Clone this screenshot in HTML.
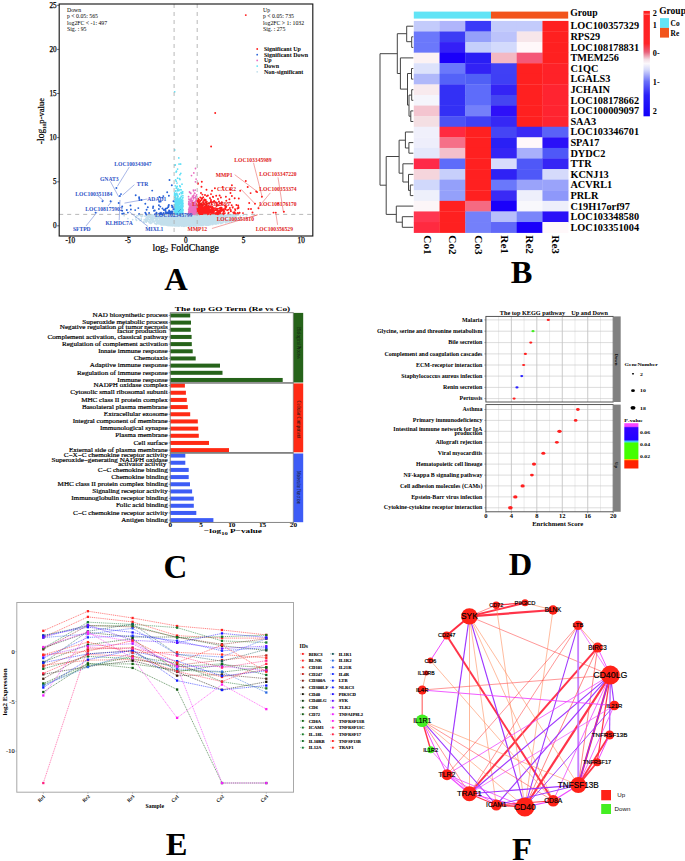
<!DOCTYPE html>
<html><head><meta charset="utf-8"><style>
html,body{margin:0;padding:0;background:#fff;overflow:hidden;width:685px;height:861px;}
svg{display:block;}
</style></head><body>
<svg width="685" height="861" viewBox="0 0 685 861">
<rect width="685" height="861" fill="#fff"/>
<g>
<path d="M188.0 221.2h0M193.5 218.5h0M182.9 219.8h0M171.6 224.4h0M179.6 215.4h0M169.7 224.0h0M189.1 217.2h0M212.8 219.9h0M178.9 216.7h0M176.5 219.6h0M197.1 216.3h0M194.6 220.2h0M190.0 222.9h0M170.8 216.8h0M187.5 216.2h0M200.9 219.7h0M163.2 215.1h0M179.6 217.5h0M152.9 215.0h0M164.2 222.8h0M154.0 214.9h0M183.7 216.9h0M164.6 215.0h0M193.0 221.6h0M190.9 219.2h0M184.6 215.5h0M141.5 216.7h0M178.1 222.3h0M187.1 222.4h0M190.1 215.0h0M159.7 217.5h0M179.2 225.4h0M169.9 222.4h0M173.1 219.1h0M207.6 222.8h0M173.1 220.1h0M187.4 218.0h0M204.4 224.4h0M177.2 222.7h0M185.9 215.7h0M190.1 225.6h0M189.2 224.6h0M165.4 216.2h0M189.4 217.9h0M213.1 219.5h0M159.4 215.7h0M203.9 222.9h0M190.2 226.1h0M176.2 216.4h0M225.0 217.3h0M202.1 221.5h0M165.8 218.7h0M189.4 225.0h0M198.7 221.9h0M184.5 219.1h0M200.6 216.0h0M186.8 222.1h0M200.3 224.9h0M214.6 223.4h0M175.5 222.0h0M191.8 218.5h0M179.4 217.6h0M190.4 217.7h0M166.1 215.6h0M177.3 217.8h0M184.4 218.0h0M204.6 218.6h0M209.2 217.7h0M163.6 217.1h0M173.3 214.6h0M200.0 223.4h0M151.2 217.5h0M179.5 224.4h0M186.2 223.4h0M211.2 215.1h0M200.8 220.7h0M182.0 219.1h0M181.2 223.3h0M183.4 219.8h0M216.2 224.0h0M180.1 219.0h0M182.4 214.9h0M194.5 217.7h0M185.8 218.0h0M184.4 219.3h0M167.4 221.6h0M187.8 216.8h0M179.8 221.2h0M209.6 221.1h0M200.1 219.2h0M187.6 214.7h0M200.4 217.2h0M181.7 217.9h0M207.5 223.6h0M187.9 216.5h0M198.8 220.6h0M164.2 218.1h0M194.4 219.1h0M156.8 216.4h0M150.4 223.2h0M182.4 224.8h0M171.4 222.2h0M191.0 223.4h0M229.5 216.7h0M172.6 224.3h0M176.5 224.7h0M191.8 219.5h0M197.1 225.0h0M184.8 216.6h0M184.2 221.9h0M201.0 221.9h0M197.6 218.7h0M168.9 214.6h0M186.5 222.5h0M188.7 223.2h0M168.5 221.1h0M192.8 216.8h0M172.2 215.1h0M206.0 223.4h0M191.6 225.7h0M189.7 222.2h0M177.1 221.9h0M185.8 217.1h0M151.1 217.1h0M167.1 217.0h0M194.7 221.1h0M148.7 219.2h0M203.7 215.0h0M155.7 223.7h0M202.0 225.4h0M172.4 225.6h0M202.4 216.3h0M190.4 219.7h0M159.6 217.3h0M211.1 217.7h0M214.7 216.1h0M186.8 219.6h0M182.9 221.9h0M185.1 224.6h0M170.0 220.7h0M208.3 222.7h0M178.0 215.2h0M187.1 217.0h0M173.3 222.2h0M176.4 219.7h0M164.4 219.8h0M211.2 218.2h0M185.2 215.0h0M205.9 222.0h0M188.3 218.6h0M175.2 219.8h0M182.0 214.9h0M177.7 223.2h0M188.2 218.2h0M181.1 224.9h0M182.5 219.4h0M162.5 214.8h0M173.1 217.4h0M218.6 223.6h0M175.6 214.6h0M168.5 219.2h0M194.2 218.9h0M214.0 214.9h0M161.1 218.5h0M184.2 223.2h0M176.3 220.6h0M155.5 216.7h0M201.6 220.8h0M187.6 223.9h0M189.3 221.2h0M174.1 224.5h0M196.4 224.6h0M178.0 224.4h0M185.4 219.8h0M167.5 221.6h0M165.5 223.1h0M212.7 216.9h0M178.6 218.6h0M193.4 216.3h0M187.4 224.0h0M179.9 218.5h0M178.6 222.6h0M199.7 219.8h0M182.4 220.5h0M185.2 219.0h0M188.4 219.1h0M209.8 215.2h0M200.6 218.3h0M195.1 221.5h0M177.6 216.6h0M162.5 223.1h0M205.6 216.7h0M205.9 218.7h0M185.4 222.7h0M198.0 217.0h0M202.5 224.1h0M203.4 225.1h0M205.0 222.1h0M179.6 219.8h0M216.0 217.8h0M165.0 221.5h0M203.9 218.7h0M197.1 214.6h0M204.2 214.6h0M222.7 216.7h0M215.4 221.0h0M166.8 219.8h0M156.8 216.2h0M203.1 215.5h0M169.3 214.9h0M187.8 221.2h0M203.5 221.4h0M157.6 220.8h0M149.0 216.2h0M192.8 214.8h0M188.8 219.2h0M183.5 220.6h0M188.7 218.0h0M172.1 220.6h0M160.0 218.6h0M184.9 223.6h0M170.1 224.3h0M157.6 220.1h0M197.4 222.4h0M186.9 224.1h0M195.5 214.8h0M169.7 217.5h0M175.8 221.1h0M169.5 214.6h0M171.6 224.3h0M191.6 221.6h0M173.5 215.6h0M194.6 214.7h0M194.3 216.6h0M225.4 221.1h0M162.3 218.7h0M204.4 224.5h0M186.4 225.3h0M187.8 215.9h0M161.2 225.0h0M179.5 224.8h0M201.7 224.2h0M186.5 217.5h0M189.5 218.4h0M182.6 223.3h0M209.3 220.3h0M187.6 214.9h0M147.3 221.0h0M175.2 225.0h0M151.6 217.5h0M127.9 218.6h0M178.2 219.2h0M212.7 221.7h0M188.9 225.7h0M166.3 217.9h0M170.6 217.0h0M208.9 221.4h0M190.9 224.0h0M188.9 214.6h0M187.0 222.9h0M188.7 222.9h0M202.9 221.1h0M198.2 222.8h0M192.0 222.9h0M168.7 215.2h0M197.5 224.8h0M175.4 216.1h0M208.2 219.1h0M164.5 224.8h0M185.5 224.1h0M187.9 218.1h0M163.5 218.8h0M219.8 221.2h0M215.0 221.1h0M179.4 215.2h0M202.3 217.1h0M195.0 218.0h0M139.7 214.9h0M192.6 223.0h0M186.9 221.9h0M189.5 216.1h0M168.1 220.3h0M183.0 220.5h0M184.7 216.4h0M210.0 214.6h0M194.2 215.6h0M187.9 216.9h0M216.3 219.5h0M177.7 217.5h0M180.8 223.1h0M154.4 221.4h0M217.0 221.9h0M205.8 217.6h0M205.0 214.9h0M200.4 216.9h0M190.0 222.6h0M192.0 218.1h0M183.4 221.6h0M184.2 216.3h0M189.0 220.1h0M215.9 221.5h0M198.3 222.2h0M186.9 225.0h0M177.3 221.4h0M176.3 221.7h0M217.6 219.3h0M197.4 218.0h0M189.3 215.2h0M181.6 216.4h0M167.5 218.8h0M186.8 221.5h0M204.2 223.3h0M180.8 218.9h0M183.8 225.3h0M183.9 225.4h0M190.0 218.3h0M158.6 222.7h0M183.7 216.0h0M172.2 217.9h0M204.4 219.3h0M173.8 215.1h0M198.7 224.1h0M216.2 220.9h0M182.2 219.8h0M176.9 214.8h0M191.5 225.0h0M188.0 218.7h0M169.6 215.2h0M196.5 224.0h0M225.3 216.7h0M183.2 217.8h0M184.3 221.5h0M168.7 219.2h0M193.9 215.1h0M165.0 219.8h0M167.6 220.1h0M211.7 218.6h0M171.3 225.3h0M208.0 216.3h0M216.2 223.6h0M192.8 214.6h0M198.2 214.7h0M224.1 215.8h0M184.4 215.5h0M177.1 218.5h0M163.0 221.5h0M188.8 218.7h0M215.3 217.3h0M205.7 223.5h0M170.6 216.7h0M172.2 222.0h0M178.7 219.7h0M193.4 222.6h0M184.2 222.5h0M192.0 215.7h0M193.5 216.9h0M182.5 225.3h0M187.3 216.9h0M191.8 215.2h0M186.5 217.6h0M197.3 217.7h0M222.6 220.7h0M198.9 217.6h0M189.0 221.3h0M156.9 215.1h0M195.2 217.6h0M152.0 220.5h0M162.0 215.5h0M203.8 216.7h0M201.1 223.1h0M185.2 223.3h0M156.4 224.3h0M181.1 216.9h0M175.5 224.8h0M199.8 222.3h0M229.7 216.3h0M192.0 222.1h0M173.6 222.2h0M166.4 224.5h0M187.0 225.5h0M184.7 219.1h0M166.7 223.6h0M190.2 214.8h0M166.7 225.1h0M208.6 221.4h0M207.6 222.9h0M208.1 215.4h0M179.2 217.1h0M197.5 224.4h0M185.6 225.4h0M180.8 225.0h0M181.7 217.2h0M164.0 216.9h0M161.3 218.0h0M202.7 219.7h0M184.5 220.3h0M192.0 218.8h0M206.5 223.9h0M156.0 216.3h0M173.5 216.7h0M191.3 217.8h0M195.3 222.9h0M181.0 223.3h0M207.0 214.6h0M191.9 214.9h0M165.6 216.9h0M170.8 216.6h0M202.9 220.1h0M196.6 215.7h0M152.9 217.1h0M212.9 219.8h0M199.1 217.7h0M212.8 223.7h0M180.9 221.1h0M182.5 216.1h0M167.2 219.8h0M234.9 217.2h0M184.8 219.2h0M217.3 214.9h0M176.0 223.3h0M191.0 217.8h0M157.1 219.6h0M180.9 223.0h0M206.2 224.7h0M164.9 218.3h0M207.8 222.9h0M194.2 218.9h0M168.7 220.4h0M178.7 220.9h0M179.5 215.6h0M187.1 224.9h0M178.1 219.2h0M172.7 220.7h0M182.4 224.1h0M169.0 220.8h0M164.2 215.7h0M187.1 223.5h0M204.3 217.7h0M159.7 221.7h0M188.1 219.7h0M176.0 219.2h0M170.0 224.7h0M203.8 216.3h0M178.4 221.3h0M215.7 221.9h0M173.6 223.2h0M195.2 214.6h0M183.8 215.0h0M174.1 220.1h0M198.9 222.4h0M185.1 217.6h0M199.2 225.1h0M187.1 215.9h0M167.9 225.5h0M186.1 225.5h0M189.0 221.8h0M205.7 220.0h0M171.3 225.7h0M187.3 222.4h0M156.2 214.6h0M200.0 216.7h0M168.0 224.8h0M154.6 215.5h0M186.9 220.3h0M208.4 214.6h0M159.8 221.1h0M167.9 221.7h0M174.3 217.8h0M167.1 219.7h0M195.0 222.4h0M173.1 219.5h0M174.7 218.3h0M198.8 221.9h0M174.0 216.2h0M196.0 217.1h0M170.1 216.9h0M165.6 217.8h0M154.1 221.6h0M222.4 216.8h0M182.1 223.8h0M192.5 224.2h0M187.4 219.9h0M191.0 223.8h0M188.9 224.4h0M223.3 217.7h0M168.8 214.6h0M159.2 224.0h0M169.3 220.3h0M163.3 224.0h0M201.8 219.2h0M203.2 218.8h0M170.2 219.8h0M162.3 224.6h0M181.5 217.6h0M213.7 219.1h0M135.9 217.0h0M197.7 217.9h0M168.1 215.3h0M207.2 220.1h0M168.1 215.3h0M182.7 223.8h0M160.2 219.7h0M170.0 223.4h0M213.6 220.4h0M203.2 215.4h0M180.6 214.6h0M171.9 220.0h0M153.0 221.0h0M180.7 222.0h0M187.4 215.4h0M186.5 220.6h0M186.3 223.5h0M167.3 216.1h0M186.8 219.8h0M187.3 220.7h0M211.9 215.3h0M222.5 216.5h0M185.5 226.0h0M173.8 214.7h0M186.8 220.4h0M176.8 223.6h0M174.3 215.3h0M186.9 220.8h0M168.7 217.6h0M199.2 217.0h0M186.1 223.6h0M192.6 214.6h0M184.6 219.2h0M174.6 225.1h0M170.5 219.3h0M183.6 226.0h0M177.9 214.6h0M192.3 218.0h0M187.9 221.3h0M162.8 216.4h0M189.3 216.6h0M163.2 217.4h0M176.6 222.9h0M182.6 224.9h0M149.7 215.6h0M189.7 215.6h0M190.8 221.7h0M185.1 221.2h0M180.2 221.0h0M181.1 222.5h0M170.0 215.0h0M183.0 219.5h0M177.8 217.5h0M189.7 218.7h0M165.8 224.2h0M192.4 225.1h0M190.7 224.1h0M185.4 219.9h0M179.9 218.4h0M198.2 214.6h0M157.2 215.3h0M196.5 217.2h0M192.5 221.2h0M193.2 221.7h0M195.1 217.6h0M175.9 221.6h0M183.2 216.9h0M199.8 217.2h0M196.0 224.3h0M191.8 216.5h0M160.0 223.7h0M198.0 221.8h0M209.6 214.6h0M206.7 217.9h0M192.3 215.9h0M159.2 215.1h0M205.4 222.1h0M185.3 216.6h0M141.2 218.9h0M195.0 225.1h0M160.4 223.5h0M164.1 223.6h0M176.3 218.4h0M211.5 217.8h0M181.2 216.0h0M193.0 222.2h0M220.3 216.4h0M217.5 221.2h0M186.1 222.1h0M183.5 218.1h0M164.7 220.6h0M175.2 214.6h0M195.9 221.9h0M195.3 222.9h0M190.0 215.7h0M206.4 215.6h0M173.7 223.7h0M187.0 221.8h0M201.5 219.6h0M198.8 224.9h0M207.8 220.8h0M195.3 216.8h0M182.3 216.9h0M194.7 224.0h0M169.5 221.9h0M157.7 221.5h0M198.7 217.7h0M187.0 224.4h0M193.7 214.6h0M156.6 223.0h0M181.3 219.6h0M176.9 217.6h0M172.0 214.9h0M146.3 217.4h0M181.8 215.9h0M204.6 219.2h0M195.1 223.1h0M176.9 220.7h0M187.7 218.7h0M202.0 219.3h0M137.0 215.7h0M185.7 219.5h0M198.0 221.1h0M200.6 219.5h0M219.4 218.6h0M209.0 225.0h0M193.8 221.8h0M193.6 219.0h0M202.6 217.4h0M178.0 220.7h0M187.3 217.1h0M204.8 219.5h0M224.2 219.6h0M185.1 223.0h0M187.1 216.6h0M191.7 215.2h0M212.8 216.9h0M187.4 223.2h0M215.2 217.1h0M170.1 219.6h0M184.6 215.2h0M184.3 226.2h0M202.5 216.7h0M207.3 219.8h0M160.1 215.8h0M171.1 218.5h0M194.2 226.0h0M175.8 217.7h0M159.9 218.9h0M207.2 222.3h0M197.1 224.3h0M197.1 220.9h0M179.2 219.2h0M207.0 219.7h0M183.6 226.0h0M208.3 223.3h0M171.2 217.7h0M172.2 219.2h0M191.8 217.2h0M175.0 220.8h0M200.5 222.5h0M192.8 216.6h0M171.0 222.9h0M189.4 225.3h0M181.5 221.4h0M204.9 220.1h0M176.3 223.2h0M179.9 214.9h0M210.4 222.2h0M229.4 221.1h0M225.0 217.1h0M189.2 224.2h0M192.1 222.4h0M216.3 219.8h0M185.7 222.6h0M170.0 218.0h0M190.2 224.2h0M196.4 218.2h0M172.7 224.3h0M157.6 218.3h0M161.5 214.6h0M200.3 216.6h0M174.0 214.9h0M185.4 219.4h0M191.9 224.0h0M199.5 221.2h0M181.8 216.8h0M197.2 224.1h0M171.6 217.9h0M181.3 222.0h0M169.1 215.2h0M208.9 221.0h0M187.5 222.0h0M174.3 222.4h0M181.5 219.4h0M183.9 214.9h0M201.0 219.2h0M158.5 216.8h0M168.8 219.4h0M181.0 225.0h0M234.8 217.0h0M205.7 218.5h0M186.0 218.8h0M201.2 221.9h0M226.0 220.3h0M183.7 221.9h0M181.2 225.7h0M210.4 222.9h0M197.1 222.2h0M200.4 219.6h0M178.6 215.3h0M223.6 216.8h0M219.6 218.6h0M198.5 217.4h0M200.7 220.3h0M150.5 223.1h0M199.8 217.7h0M184.4 217.6h0M196.0 218.1h0M200.6 215.9h0M181.7 216.7h0M156.8 216.0h0M194.8 225.4h0M174.3 214.6h0M181.9 218.9h0M176.8 218.8h0M181.7 218.6h0M145.3 220.2h0M210.5 221.4h0M192.7 215.7h0M208.5 218.4h0M224.6 214.7h0M188.4 223.4h0M154.7 218.2h0M171.5 218.6h0M165.7 224.9h0M178.7 218.4h0M189.5 221.2h0M151.0 219.4h0M194.3 223.6h0M160.1 218.3h0M193.5 217.9h0M186.0 215.5h0M182.2 216.1h0M186.7 214.6h0M178.0 214.6h0M176.7 217.6h0M156.9 221.3h0M187.5 219.4h0M222.1 222.5h0M224.6 217.9h0M212.4 221.2h0M201.1 219.3h0M175.5 217.0h0M214.7 223.7h0M187.0 215.7h0M186.7 225.7h0M182.6 220.0h0M189.7 223.2h0M180.0 225.6h0M186.5 220.1h0M168.0 222.3h0M181.1 225.0h0M230.2 215.6h0M186.7 222.9h0M183.6 215.0h0M197.8 218.6h0M201.1 221.3h0M167.4 224.7h0M184.2 215.9h0M205.0 224.0h0M193.0 216.8h0M190.3 219.6h0M216.7 219.4h0M175.5 224.9h0M189.5 220.8h0M178.4 225.9h0M215.6 216.5h0M151.9 216.9h0M175.6 224.1h0M178.2 219.7h0M200.3 223.4h0M199.2 217.4h0M213.8 222.3h0M158.9 222.6h0M201.9 222.1h0M182.6 214.7h0M175.7 216.3h0M198.0 220.9h0M171.0 216.5h0M149.6 219.9h0M181.2 223.6h0M160.3 215.4h0M176.0 225.5h0M194.9 216.6h0M193.8 214.8h0M217.3 223.1h0M184.3 215.9h0M159.7 216.5h0M174.0 225.3h0M171.0 220.3h0M165.5 222.1h0M196.1 221.1h0M176.1 221.2h0M151.5 219.7h0M200.9 225.6h0M186.0 222.6h0M194.6 222.3h0M190.0 218.2h0M199.7 217.6h0M188.7 217.1h0M210.9 217.9h0M195.9 215.5h0M195.3 219.2h0M195.6 222.0h0M161.1 224.4h0M185.0 217.4h0M183.2 219.2h0M191.8 223.9h0M162.9 219.3h0M218.2 214.9h0M189.9 218.7h0M165.6 221.6h0M156.4 216.2h0M182.8 221.1h0M186.4 226.0h0M174.7 224.8h0M189.7 214.8h0M176.2 224.7h0M198.2 216.7h0M174.6 225.5h0M187.3 220.8h0M206.1 221.9h0M235.5 218.5h0M169.4 224.4h0M179.4 221.0h0M172.5 216.9h0M202.5 219.4h0M166.8 223.7h0M179.1 216.5h0M187.5 215.8h0M169.9 220.1h0M170.3 221.3h0M179.2 225.9h0M149.2 222.6h0M161.3 220.6h0M180.4 224.6h0M190.7 214.7h0M184.6 218.3h0M155.2 220.8h0M179.4 218.9h0M202.8 223.4h0M198.3 215.2h0M186.6 219.9h0M171.6 217.5h0M199.7 223.4h0M177.3 220.1h0M166.4 217.3h0M173.2 221.0h0M214.8 223.6h0M192.1 220.2h0M209.4 216.1h0M179.2 220.3h0M205.3 214.6h0M176.9 219.2h0M185.1 215.6h0M234.0 221.0h0M202.2 218.2h0M178.7 219.7h0M186.4 221.6h0M194.0 215.4h0M210.4 223.8h0M179.0 220.0h0M155.8 220.9h0M182.8 214.8h0M188.3 216.7h0M190.0 223.5h0M212.3 223.2h0M193.9 225.7h0M203.0 223.3h0M167.7 215.1h0M204.0 215.7h0M226.7 215.9h0M202.3 220.7h0M192.7 220.1h0M190.9 219.0h0M221.0 216.0h0M170.9 225.7h0M186.0 223.7h0M196.5 218.9h0M201.8 223.8h0M179.9 215.0h0M193.7 225.4h0M182.9 214.7h0M190.2 223.3h0M185.6 223.6h0M166.9 220.4h0M187.6 218.3h0M204.2 214.6h0M170.1 219.9h0M183.6 215.5h0M200.3 215.5h0M168.2 214.6h0M191.4 221.5h0M168.4 219.9h0M209.0 224.8h0M230.8 218.8h0M225.4 219.6h0M184.0 224.5h0M201.7 216.1h0M190.2 222.5h0M189.9 224.4h0M216.6 222.9h0M163.6 224.9h0M207.5 216.8h0M187.1 219.5h0M214.0 218.9h0M191.5 220.9h0M175.6 214.8h0M193.1 221.3h0M201.6 219.9h0M188.7 217.8h0M197.0 215.1h0M178.4 215.9h0M148.6 215.3h0M204.6 223.1h0M200.9 215.0h0M190.7 216.3h0M189.3 221.9h0M207.2 216.3h0M179.6 214.9h0M175.0 217.1h0M184.5 217.2h0M210.0 215.9h0M162.4 215.6h0M210.0 216.5h0M176.2 224.9h0M167.7 222.9h0M211.3 223.3h0M186.2 220.3h0M164.0 224.4h0M181.4 219.3h0M205.2 215.1h0M210.0 214.6h0M180.1 225.6h0M195.5 217.8h0M201.2 223.8h0M176.1 215.8h0M194.6 225.6h0M187.4 224.7h0M178.1 221.9h0M178.9 226.1h0M189.2 218.1h0M188.6 223.4h0M177.6 217.4h0M180.1 214.9h0M208.6 219.7h0M192.0 220.2h0M204.4 214.6h0M210.2 221.3h0M198.9 215.6h0M230.0 216.4h0M172.8 225.8h0M202.9 221.9h0M182.1 217.4h0M222.3 222.9h0M219.4 215.6h0M151.9 215.1h0M170.1 216.9h0M200.3 216.4h0M202.6 218.6h0M201.6 216.4h0M186.7 220.3h0M196.4 220.8h0M200.1 217.5h0M186.6 220.3h0M207.0 221.5h0M146.3 220.4h0M199.7 220.4h0M168.9 220.9h0M205.7 216.9h0M183.8 216.7h0M171.6 216.5h0M194.9 216.0h0M171.2 221.2h0M171.1 221.2h0M159.0 215.9h0M187.5 223.7h0M197.2 217.6h0M206.9 219.2h0M185.4 218.0h0M207.4 217.4h0M188.3 218.0h0M186.3 223.1h0M198.6 225.5h0M207.6 214.8h0M181.7 215.5h0M183.5 219.9h0M185.0 218.1h0M189.5 224.9h0M171.4 220.2h0M207.0 218.5h0M180.6 217.6h0M196.6 223.1h0M172.8 224.6h0M194.6 214.8h0M195.2 216.0h0M180.2 223.7h0M225.4 215.8h0M194.9 216.4h0M220.8 221.7h0M205.7 216.3h0M175.8 221.2h0M180.9 221.8h0M196.1 223.8h0M189.1 218.9h0M188.9 218.6h0M182.7 219.8h0M154.6 223.0h0M183.8 216.6h0M147.0 220.0h0M194.9 222.6h0M174.6 218.2h0M174.8 223.5h0M184.0 215.3h0M193.0 218.2h0M161.5 216.4h0M155.7 220.6h0M168.3 220.4h0M150.3 221.0h0M170.1 222.5h0M217.4 219.7h0M168.5 216.6h0M200.0 219.7h0M162.7 216.0h0M193.5 224.5h0M182.1 222.4h0M186.9 225.7h0M198.5 215.3h0M220.5 223.0h0M191.6 219.4h0M190.3 217.9h0M170.0 223.0h0M198.8 214.6h0M183.5 214.6h0M203.4 222.5h0M187.2 224.3h0M220.2 217.4h0M151.4 218.6h0M182.5 218.7h0M204.3 218.3h0M181.5 214.9h0M173.4 216.8h0M183.1 222.1h0M162.5 216.9h0M190.2 220.5h0M233.1 214.6h0M209.2 219.6h0M167.5 225.4h0M171.9 215.2h0M180.5 222.5h0M206.6 216.2h0M172.8 218.5h0M175.3 217.1h0M204.4 217.0h0M204.0 215.3h0M181.1 216.2h0M167.4 218.0h0M159.4 221.0h0M175.1 219.9h0M146.8 220.3h0M201.9 221.5h0M176.4 220.3h0M196.9 220.7h0M222.5 220.5h0M209.7 221.4h0M166.7 221.6h0M204.1 223.0h0M209.4 218.5h0M174.2 224.6h0M170.4 222.5h0M186.0 223.9h0M158.4 217.2h0M215.2 221.2h0M143.6 221.5h0M167.6 216.2h0M183.0 220.6h0M183.8 216.5h0M191.1 222.0h0M193.0 221.6h0M184.1 219.2h0M209.0 224.2h0M148.5 214.6h0M188.0 224.3h0M174.8 215.3h0M190.5 218.1h0M192.1 216.9h0M171.2 223.0h0M176.2 215.5h0M202.7 219.2h0M194.5 220.8h0M175.4 223.4h0M225.7 221.2h0M230.7 215.3h0M161.0 214.7h0M193.6 220.8h0M234.4 216.1h0M202.5 217.5h0M192.1 219.9h0M184.2 220.1h0M178.0 219.3h0M184.1 221.7h0M177.8 217.1h0M201.8 220.6h0M180.7 219.8h0M179.9 223.7h0M165.8 214.6h0M187.1 225.1h0M171.5 217.4h0M184.7 218.1h0M207.3 221.1h0M194.8 214.6h0M197.3 225.4h0M194.6 222.5h0M189.1 221.8h0M185.7 218.3h0M182.3 218.9h0M202.0 217.4h0M168.0 215.8h0M212.8 224.4h0M188.6 219.2h0M174.2 220.9h0M179.0 217.7h0M175.5 219.5h0M191.0 221.6h0M174.7 225.9h0M209.1 221.4h0M173.6 220.4h0M146.0 219.7h0M174.5 221.2h0M150.9 217.4h0M187.3 221.8h0M207.6 215.9h0M200.0 221.3h0M163.3 220.1h0M173.9 220.5h0M220.9 215.2h0M193.9 218.7h0M188.1 214.8h0M207.5 225.2h0M233.3 214.7h0M212.0 222.4h0M190.6 215.5h0M194.6 225.4h0M199.4 215.9h0M176.7 218.3h0M168.4 217.6h0M189.0 221.2h0M170.5 220.9h0M186.9 224.0h0M189.8 224.2h0M231.3 217.0h0M172.3 221.5h0M185.8 225.8h0M185.0 223.9h0M196.1 223.7h0M207.4 222.8h0M178.9 220.4h0M172.8 215.3h0M157.7 218.3h0M170.9 217.1h0M197.9 224.4h0M188.9 217.7h0M169.2 215.8h0M181.1 214.6h0M188.6 217.5h0M197.3 218.6h0M177.0 214.8h0M183.4 224.4h0M154.4 216.2h0M166.7 217.2h0M217.9 216.8h0M147.6 219.7h0M181.8 225.0h0M192.1 224.2h0M181.1 217.9h0M173.1 221.9h0M186.9 214.9h0M187.9 224.5h0M186.5 216.4h0M153.3 219.1h0M185.3 222.3h0M172.2 222.5h0M177.9 221.5h0M192.2 221.4h0M199.9 222.9h0M204.6 222.7h0M178.8 214.7h0M205.1 220.4h0M209.7 218.1h0M209.0 217.3h0M213.7 220.8h0M185.3 215.1h0M184.8 222.3h0M203.3 223.1h0M162.8 224.5h0M191.9 222.7h0M178.2 225.2h0M181.2 218.4h0M155.8 218.3h0M171.6 225.5h0M187.6 214.9h0M204.4 217.2h0M206.3 219.0h0M186.5 215.0h0M184.5 219.6h0M172.7 223.5h0M195.4 216.7h0M183.4 214.9h0M199.2 225.0h0M220.4 218.7h0M187.4 223.2h0M160.3 215.3h0M172.1 224.5h0M161.1 216.3h0M165.9 222.8h0M212.1 217.8h0M192.2 217.7h0M159.9 216.7h0M200.1 225.0h0M211.3 219.4h0M181.4 224.4h0M175.5 224.3h0M181.8 224.0h0M193.3 224.1h0M199.8 215.1h0M209.9 218.7h0M210.4 221.9h0M209.9 219.5h0M213.2 223.9h0M200.2 223.0h0M159.7 218.0h0M185.6 217.7h0M193.8 218.5h0M180.9 214.6h0M204.9 214.6h0M181.4 216.2h0M170.9 220.1h0M214.7 216.6h0M200.3 222.6h0M192.1 215.8h0M205.1 222.4h0M207.6 214.6h0M194.3 225.9h0M142.6 215.9h0M175.5 219.8h0M179.6 216.4h0M169.8 219.4h0M191.7 216.2h0M210.0 217.2h0M179.0 218.3h0M167.0 214.9h0M225.5 221.7h0M179.7 215.2h0M165.2 219.3h0M192.4 217.5h0M195.9 217.9h0M175.0 221.0h0M202.6 219.3h0M179.0 214.7h0M171.0 219.8h0M191.3 215.3h0M202.3 225.6h0M176.3 219.0h0M194.1 217.7h0M186.3 221.1h0M240.2 219.4h0M174.9 216.6h0M213.6 216.7h0M187.0 221.3h0M185.7 224.8h0M201.3 216.0h0M204.5 216.7h0M211.4 216.0h0M194.1 216.3h0M176.9 222.6h0M178.1 218.5h0M197.4 220.2h0M198.7 221.0h0M213.8 220.0h0M195.7 217.9h0M207.6 214.6h0M216.0 219.3h0M191.1 221.4h0M160.6 218.0h0M166.2 218.2h0M161.4 220.3h0M217.4 217.6h0M172.3 218.0h0M210.8 216.8h0M198.8 223.6h0M219.7 217.4h0M206.5 220.4h0M186.1 215.7h0M184.3 218.6h0M189.6 216.4h0M191.2 216.4h0M178.2 223.2h0M187.4 225.1h0M217.8 216.5h0M156.6 223.7h0M192.8 214.9h0M171.2 217.6h0M191.5 220.8h0M203.5 217.8h0M186.9 224.4h0M202.3 218.1h0M158.6 215.1h0M208.5 225.2h0M176.9 215.0h0M199.5 221.9h0M191.4 221.1h0M140.2 214.8h0M174.0 216.5h0M192.1 221.2h0M216.7 214.6h0M193.3 225.6h0M192.8 218.1h0M161.9 219.3h0M214.5 215.4h0M221.4 223.3h0M188.5 222.0h0M183.9 220.2h0M158.1 223.7h0M204.3 218.0h0M237.9 215.2h0M201.3 215.3h0M211.4 223.1h0M198.0 219.7h0M169.8 214.6h0M212.7 223.8h0M165.2 217.4h0M184.1 222.4h0M193.2 215.4h0M204.3 218.4h0M195.7 215.5h0M195.2 225.3h0M173.9 218.6h0M164.2 220.3h0M189.1 224.7h0M174.9 220.8h0M163.8 217.0h0M164.6 218.6h0M179.0 218.8h0M153.8 221.0h0M163.1 219.3h0M157.8 219.7h0M191.4 215.3h0M195.5 215.7h0M225.1 218.9h0M160.3 219.2h0M175.5 222.2h0M204.9 218.8h0M184.0 224.4h0M182.0 214.8h0M219.6 219.6h0M181.8 226.1h0M166.6 221.8h0M163.7 214.9h0M194.2 222.0h0M193.7 221.2h0M162.7 214.6h0M169.8 216.6h0M197.9 221.3h0M198.7 223.7h0M176.1 221.1h0M199.5 221.2h0M198.6 215.5h0M155.1 218.6h0M182.2 215.2h0M195.7 214.6h0M177.4 215.8h0M148.5 219.4h0M182.8 221.2h0M201.9 219.1h0M217.2 217.3h0M147.5 215.6h0M236.3 215.5h0M167.2 221.6h0M205.7 217.1h0M210.8 220.6h0M206.2 216.6h0M190.8 226.0h0M166.5 215.9h0M199.6 217.6h0M174.8 224.0h0M141.4 219.9h0M240.3 218.0h0M201.1 219.5h0M221.6 215.2h0M171.2 214.7h0M215.1 218.1h0M217.4 222.8h0M216.7 214.6h0M187.6 214.8h0M165.8 224.2h0M184.7 218.0h0M147.3 217.1h0M156.6 217.5h0M189.7 217.4h0M169.7 225.6h0M185.0 222.2h0M186.0 221.8h0M223.7 217.2h0M212.0 223.6h0M187.2 222.5h0M210.4 222.8h0M173.6 225.2h0M181.8 220.2h0M204.8 222.9h0M165.1 219.7h0M182.9 223.4h0M163.6 216.4h0M190.2 224.6h0M218.2 216.4h0M174.1 218.0h0M192.2 224.0h0M171.4 221.1h0M166.8 220.8h0M165.2 220.0h0M214.9 217.4h0M231.7 221.7h0M196.9 223.7h0M174.8 217.6h0M201.0 224.4h0M181.8 216.1h0M202.8 221.1h0M193.4 225.6h0M193.2 216.9h0M199.2 222.7h0M177.3 214.6h0M180.5 215.2h0M156.2 215.4h0M179.8 215.6h0M161.7 224.1h0M185.3 225.8h0M170.3 220.8h0M189.9 220.8h0M196.4 220.8h0M161.8 218.4h0M173.0 216.7h0M170.6 216.6h0M201.8 215.1h0M219.5 217.2h0M203.7 215.6h0M181.6 224.9h0M215.1 224.1h0M160.0 219.8h0M215.7 215.4h0M175.9 221.1h0M136.6 220.3h0M237.0 219.7h0M217.2 221.6h0M168.9 215.8h0M191.1 221.8h0M184.0 215.9h0M189.9 215.0h0M160.6 216.6h0M175.4 215.2h0M196.7 222.6h0M192.1 223.5h0M210.2 222.1h0M189.5 225.9h0M231.4 214.9h0M174.8 223.2h0M192.8 218.4h0M152.6 220.9h0M164.9 219.1h0M212.6 219.8h0M170.6 217.3h0M197.8 223.2h0M186.9 222.4h0M168.7 223.8h0M181.6 221.9h0M178.5 216.2h0M179.0 214.8h0M201.9 225.5h0M200.1 216.0h0M177.3 217.2h0M171.2 224.7h0M193.2 223.9h0M186.2 215.8h0M207.0 222.8h0M237.1 214.9h0M203.6 219.2h0M187.4 214.6h0M184.8 219.9h0M172.2 224.1h0M171.3 218.5h0M169.5 220.3h0M180.7 225.1h0M180.1 216.3h0M201.8 215.4h0M180.6 214.8h0M184.4 218.3h0M165.5 218.6h0M218.4 221.8h0M197.4 214.8h0M221.1 216.6h0M202.7 217.8h0M215.5 217.2h0M183.4 216.1h0M201.3 221.4h0M238.0 219.7h0M165.4 214.6h0M209.7 224.6h0M219.4 220.9h0M195.8 219.9h0M202.2 225.1h0M211.7 221.2h0M175.6 215.8h0M195.7 218.4h0M171.6 218.8h0M175.2 225.7h0M176.3 220.7h0M185.3 224.5h0M190.8 221.2h0M196.6 221.1h0M161.2 220.1h0M225.5 219.9h0M209.9 216.5h0M201.8 220.1h0M181.2 215.4h0M186.3 221.7h0M198.4 223.9h0M195.8 221.5h0M156.2 215.6h0M202.0 221.2h0M243.2 215.2h0M153.0 217.1h0M206.9 222.1h0M195.0 223.5h0M185.9 224.6h0M214.0 219.6h0M165.6 217.5h0M191.1 222.3h0M215.8 214.8h0M184.3 226.0h0M180.1 216.7h0M190.2 223.8h0M179.6 214.6h0M217.4 223.0h0M170.8 215.2h0M204.6 220.6h0M164.2 221.8h0M200.7 225.2h0M186.0 223.3h0M138.9 218.6h0M187.9 215.1h0M167.7 214.7h0M179.6 225.0h0M217.2 218.4h0M166.8 225.0h0M167.9 224.2h0M215.4 217.9h0M190.2 219.6h0M217.3 215.3h0M194.2 215.4h0M171.2 223.6h0M186.8 218.4h0M211.4 216.2h0M205.9 216.7h0M188.0 219.1h0M188.9 219.8h0M185.9 219.1h0M177.0 220.8h0M224.7 217.9h0M188.1 215.6h0M166.5 221.2h0M178.9 220.5h0M201.8 220.3h0M200.2 215.8h0M185.4 222.9h0M175.3 220.5h0M188.5 217.1h0M156.2 220.1h0M163.3 215.8h0M203.2 219.2h0M178.9 224.7h0M195.1 221.4h0M211.2 223.1h0M200.4 220.4h0M188.4 221.5h0M228.4 219.4h0M200.7 216.2h0M181.3 215.5h0M201.9 216.9h0M195.8 216.9h0M171.7 215.5h0M189.4 215.3h0M184.9 223.8h0M150.7 215.2h0M184.7 224.0h0M182.6 222.6h0M179.7 216.6h0M156.8 222.8h0M181.3 214.8h0M187.3 215.1h0M189.9 226.3h0M166.4 218.1h0M200.0 215.2h0M164.9 219.1h0M183.8 219.5h0M212.8 218.3h0M174.9 219.2h0M178.3 218.9h0M208.4 217.6h0M180.7 214.9h0M182.4 225.0h0M192.2 223.0h0M207.9 225.1h0M146.2 222.2h0M172.3 223.2h0M168.9 215.4h0M167.4 221.6h0M171.8 218.6h0M172.1 221.9h0M193.7 214.6h0M171.2 223.2h0M190.3 221.1h0M195.6 221.3h0M174.2 223.1h0M190.5 225.1h0M219.0 219.8h0M194.1 223.4h0M175.9 225.7h0M186.8 215.6h0M170.7 221.4h0M193.1 226.0h0M204.3 218.3h0M172.5 220.0h0M184.1 217.8h0M209.0 220.8h0M178.6 224.2h0M191.6 218.3h0M168.7 220.7h0M172.5 215.7h0M178.3 221.9h0M228.2 220.4h0M180.5 223.6h0M178.2 222.7h0M177.6 222.9h0M184.9 219.7h0M200.1 221.1h0M191.5 214.7h0M226.0 220.8h0M192.0 215.0h0M214.8 220.7h0M193.1 220.0h0M199.2 214.8h0M161.3 216.5h0M185.7 215.0h0M186.7 219.5h0M183.5 222.0h0M148.2 217.0h0M204.3 217.6h0M180.9 225.6h0M179.9 224.6h0M183.3 215.0h0M183.8 217.4h0M195.5 216.3h0M164.5 222.9h0M170.8 214.6h0M193.4 222.2h0M190.7 224.2h0M181.0 221.5h0M177.4 221.6h0M172.6 225.0h0M186.9 216.0h0M209.8 215.6h0M168.5 223.0h0M216.2 218.5h0M203.6 215.7h0M179.6 221.3h0M202.5 219.5h0M160.9 222.0h0M156.0 219.4h0M164.2 221.5h0M180.4 216.3h0M182.0 224.0h0M178.5 225.6h0M189.8 215.4h0M148.6 221.5h0M197.2 219.2h0M161.8 217.2h0M175.8 221.8h0M180.4 215.1h0M166.6 221.3h0M162.7 222.7h0M169.4 224.8h0M187.8 215.5h0M198.9 223.0h0M198.4 215.5h0M169.6 220.1h0M173.4 215.1h0M171.0 224.6h0M196.3 215.9h0M150.4 214.6h0M210.9 217.2h0M179.1 224.3h0M173.5 214.6h0M194.3 216.5h0M207.1 222.6h0M194.3 214.7h0M207.5 224.1h0M190.5 224.4h0M210.7 224.7h0M211.0 218.3h0M186.2 221.0h0M214.6 223.4h0M191.1 220.0h0M189.6 215.7h0M171.0 224.5h0M182.7 218.3h0M202.4 223.4h0M163.8 219.3h0M200.0 221.5h0M194.5 222.4h0M193.1 225.9h0M147.2 217.8h0M186.1 220.6h0M200.0 217.6h0M173.9 223.5h0M189.7 214.6h0M144.1 222.4h0M200.4 223.2h0M175.8 218.2h0M204.1 223.7h0M154.0 221.2h0M200.8 219.7h0M183.6 217.0h0M202.9 215.8h0M170.9 221.8h0M176.6 218.1h0M229.5 222.0h0M172.7 215.5h0M175.0 217.9h0M182.9 215.4h0M169.1 222.9h0M210.0 219.4h0M219.9 216.6h0M175.0 225.6h0M156.1 215.8h0M209.7 217.2h0M208.5 216.5h0M203.2 223.4h0M209.4 216.6h0M172.0 219.0h0M184.9 224.1h0M162.4 223.4h0M161.8 215.8h0M206.1 220.6h0M175.6 222.5h0M230.1 219.0h0M189.4 217.8h0M176.2 224.1h0M202.8 223.5h0M221.3 217.4h0M197.0 215.5h0M165.5 217.7h0M194.9 215.0h0M213.4 221.4h0M178.9 221.6h0M173.7 221.2h0M206.8 221.0h0M190.6 222.6h0M167.6 216.5h0M181.0 222.4h0M174.0 220.7h0M193.5 220.2h0M190.0 214.6h0M209.3 221.2h0M201.1 217.6h0M159.1 221.0h0M195.5 216.5h0M204.6 220.8h0M196.4 225.7h0M207.0 219.2h0M177.9 221.7h0M170.4 222.3h0M205.2 221.8h0M168.3 225.6h0M148.1 216.6h0M207.0 219.0h0M174.6 218.3h0M182.4 219.1h0M162.2 220.6h0M163.5 219.9h0M166.6 219.8h0M181.3 215.3h0M194.8 221.6h0M145.5 221.3h0M201.9 224.5h0M166.2 221.3h0M168.3 218.8h0M200.5 218.8h0M186.6 217.3h0M159.6 217.7h0M222.1 222.5h0M172.1 221.0h0M192.6 221.4h0M191.7 224.6h0M214.1 218.3h0M179.6 216.8h0M206.6 224.7h0M174.3 219.4h0M208.7 223.6h0M173.9 216.7h0M181.3 219.2h0M223.0 222.6h0M193.9 219.7h0M190.0 223.0h0M229.4 220.3h0M194.7 218.0h0M172.9 220.8h0M201.6 215.1h0M166.2 215.2h0M208.9 215.8h0M210.3 220.2h0M177.4 215.4h0M176.4 225.0h0M191.3 216.8h0M188.3 221.5h0M169.9 215.8h0M198.5 225.5h0M150.3 218.0h0M180.0 225.1h0M180.5 222.3h0M183.0 219.2h0M193.7 224.2h0M165.3 217.5h0M198.9 219.6h0M184.7 223.2h0M176.0 219.4h0M162.8 220.0h0M166.1 225.0h0M194.7 217.5h0M170.2 217.4h0M189.2 215.3h0M207.6 215.0h0M207.1 220.8h0M216.8 217.6h0M182.5 218.7h0M168.0 224.8h0M206.9 217.1h0M193.7 222.5h0M208.8 220.2h0M188.2 218.5h0M210.1 219.3h0M203.7 222.0h0M201.2 215.7h0M197.3 224.6h0M195.4 218.7h0M192.3 223.6h0M192.2 215.2h0M206.3 215.0h0M178.5 217.5h0M220.1 215.4h0M186.0 216.9h0M206.2 217.9h0M186.3 217.1h0M183.5 215.3h0M225.6 220.8h0M182.3 217.3h0M164.4 223.0h0M174.8 220.2h0M182.1 221.8h0M227.8 217.1h0M191.8 218.3h0M205.3 215.4h0M169.5 216.0h0M194.5 225.1h0M200.4 223.5h0M221.3 223.0h0M175.1 217.5h0M199.2 221.5h0M193.6 214.6h0M169.1 222.9h0M187.7 214.9h0M183.1 217.0h0M145.0 216.2h0M199.1 218.5h0M198.0 215.6h0M179.9 223.0h0M163.3 215.7h0M215.4 215.5h0M192.9 218.7h0M206.8 217.8h0M214.1 221.9h0M178.4 220.0h0M203.0 218.7h0M183.6 222.1h0M186.9 225.6h0M186.4 214.9h0M188.0 216.5h0M208.6 220.8h0M190.3 219.5h0M185.2 218.9h0M182.9 214.8h0M194.3 219.2h0M171.5 217.3h0M178.7 216.5h0M187.0 224.8h0M177.6 218.9h0M185.8 215.1h0M176.7 216.3h0M225.0 215.0h0M212.6 222.7h0M196.3 216.7h0M187.0 222.5h0M228.5 215.3h0M194.0 216.7h0M186.4 221.4h0M193.6 219.0h0M193.7 220.2h0M214.1 214.9h0M187.7 219.3h0M226.8 221.9h0M171.7 219.3h0M200.8 225.5h0M169.5 223.9h0M221.6 218.7h0M181.9 220.3h0M186.9 225.2h0M205.1 221.3h0M211.2 221.5h0M167.5 221.9h0M181.6 220.5h0M162.2 224.6h0M190.5 225.7h0M186.1 223.1h0M181.6 217.5h0M175.4 215.1h0M180.9 217.0h0M174.2 224.9h0M197.8 216.2h0M216.0 216.0h0M152.3 215.7h0M185.9 217.4h0M180.3 222.7h0M197.1 219.8h0M170.4 220.3h0M185.3 225.7h0M168.8 219.2h0M200.9 222.3h0M189.8 214.9h0M185.0 218.0h0M194.9 216.4h0M183.5 225.7h0M159.3 217.1h0M199.0 216.5h0M193.3 220.3h0M185.2 222.8h0M206.2 219.6h0M210.5 218.8h0M167.8 220.3h0M173.6 221.8h0M216.6 217.4h0M214.2 215.4h0M174.4 222.5h0M166.2 215.6h0M176.2 225.2h0M178.8 217.8h0M158.7 220.8h0M188.6 219.6h0M164.4 221.0h0M165.6 224.3h0M204.9 223.3h0M175.4 214.6h0M186.7 220.9h0M199.6 214.9h0M203.0 219.4h0M181.8 215.5h0M188.8 220.5h0M172.8 214.6h0M220.3 218.9h0M200.0 222.5h0M167.6 223.3h0M188.1 225.2h0M201.2 224.2h0M196.9 217.8h0M221.8 219.9h0M213.4 215.6h0M178.0 223.4h0M186.4 215.1h0M164.3 222.9h0M192.6 222.6h0M190.8 221.7h0M238.0 218.7h0M189.8 220.9h0M149.3 216.0h0M175.6 225.0h0M190.1 222.9h0M164.8 224.6h0M172.0 216.7h0M181.3 224.5h0M194.3 219.7h0M185.0 215.8h0M171.6 221.8h0M202.6 224.1h0M178.0 222.6h0M178.8 215.0h0M162.5 223.9h0M173.5 215.8h0M200.1 224.1h0M158.1 222.7h0M186.7 216.9h0M201.3 218.2h0M181.0 222.0h0M192.4 217.6h0M167.4 223.6h0M212.2 215.5h0M208.4 218.6h0M192.4 215.0h0M155.6 218.1h0M168.7 218.8h0M206.1 215.8h0M219.7 218.0h0M193.5 224.9h0M211.1 218.2h0M176.8 222.2h0M184.5 218.3h0M188.0 214.6h0M195.8 218.6h0M159.8 216.0h0M205.4 221.1h0M212.5 224.6h0M166.8 224.8h0M163.0 224.9h0M194.5 223.1h0M175.9 222.5h0M144.2 219.7h0M203.0 218.0h0M190.9 217.1h0M179.2 216.9h0M227.1 216.3h0M190.6 215.9h0M174.1 217.3h0M189.9 220.4h0M168.8 220.6h0M173.9 224.8h0M195.1 225.9h0M177.8 215.9h0M179.7 224.1h0M218.9 215.6h0M203.9 220.7h0M202.8 224.8h0M197.8 216.2h0M197.0 217.4h0M214.9 214.6h0M187.6 219.4h0M222.3 215.0h0M170.4 219.6h0M183.3 222.7h0M162.5 220.4h0M181.7 218.1h0M197.6 215.5h0M214.8 216.1h0M175.8 215.1h0M188.1 219.5h0M181.4 220.3h0M174.4 219.5h0M166.0 215.1h0M189.1 221.5h0M156.0 223.6h0M190.1 221.1h0M188.4 218.2h0M175.9 216.2h0M169.3 215.0h0M162.4 217.5h0M222.6 215.9h0M163.2 216.2h0M216.8 216.1h0M199.1 218.6h0M181.3 215.0h0M166.6 215.5h0M207.3 225.2h0M220.0 222.4h0M170.7 214.6h0M182.5 218.0h0M207.4 223.4h0M194.2 215.3h0M225.0 222.0h0M177.5 219.4h0M198.0 221.0h0M164.9 221.8h0M226.7 220.4h0M174.5 224.7h0M147.2 219.5h0M185.7 224.8h0M185.4 218.5h0M223.4 220.1h0M181.7 216.9h0M187.8 215.1h0M199.0 215.6h0M217.3 216.7h0M186.8 216.8h0M207.2 224.0h0M197.6 214.7h0M182.5 219.0h0M189.4 219.4h0M188.5 217.9h0M171.1 223.3h0M210.4 219.6h0M162.4 223.5h0M209.7 215.2h0M205.6 219.5h0M186.3 224.4h0M173.9 214.7h0M183.8 219.0h0M196.7 217.0h0M201.7 216.4h0M193.3 217.7h0M206.3 220.1h0M177.7 222.4h0M192.3 225.4h0M159.0 218.0h0M202.1 224.2h0M190.8 221.4h0M180.3 215.6h0M209.5 215.3h0M200.8 216.2h0M136.0 219.5h0M188.7 215.0h0M161.1 223.2h0M207.7 215.2h0M234.0 216.0h0M178.4 214.7h0M189.4 214.6h0M183.4 219.6h0M194.5 222.0h0M199.9 215.2h0M211.8 221.2h0M169.8 221.5h0M217.1 218.3h0M170.8 223.8h0M193.1 220.4h0M209.4 223.3h0M201.2 220.2h0M170.7 215.3h0M175.0 215.2h0M179.5 214.8h0M187.1 217.4h0M209.2 216.9h0M164.1 220.2h0M196.6 215.5h0M199.3 224.0h0M198.3 223.6h0M196.6 224.3h0M216.1 219.9h0M197.0 225.1h0M203.8 217.4h0M198.4 223.4h0M221.1 217.0h0M152.9 218.3h0M211.7 217.3h0M183.2 217.6h0M182.8 216.7h0M170.1 219.9h0M153.5 218.2h0M181.0 222.8h0M175.3 219.8h0M197.1 224.7h0M160.8 214.8h0M214.5 215.0h0M193.0 225.1h0M183.4 226.1h0M174.9 221.0h0M173.5 219.5h0M167.1 219.8h0M178.0 221.7h0M188.1 218.5h0M184.7 221.1h0M161.9 220.3h0M183.1 225.7h0M171.5 218.7h0M191.0 225.0h0M222.5 215.5h0M199.6 220.0h0M182.2 221.6h0M158.0 217.6h0M161.9 215.5h0M156.8 222.5h0M201.4 220.8h0M173.9 214.7h0M189.2 215.8h0M176.5 221.1h0M189.7 221.5h0M213.9 216.1h0M175.4 224.8h0M181.7 224.5h0M173.1 219.0h0M204.2 218.8h0M169.1 218.9h0M167.1 216.8h0M162.4 215.5h0M162.0 220.4h0M196.7 221.8h0M235.5 215.3h0M169.6 222.5h0M205.6 215.6h0M192.7 217.5h0M167.6 215.9h0M182.9 218.3h0M183.7 224.7h0M175.2 217.4h0M223.7 218.5h0M152.8 221.9h0M195.1 224.6h0M194.1 222.6h0M177.3 224.3h0M190.8 224.3h0M204.2 216.0h0M190.8 214.9h0M195.7 214.6h0M200.8 219.0h0M150.5 218.1h0M215.3 223.6h0M230.1 221.0h0M206.1 216.7h0M206.7 218.7h0M162.0 218.7h0M185.8 217.1h0M173.0 216.3h0M177.2 217.5h0M205.9 225.2h0M173.2 219.3h0M185.6 216.2h0M152.7 216.0h0M185.1 214.9h0M189.7 219.7h0M175.0 219.5h0M174.7 225.6h0M222.9 218.4h0M165.7 218.8h0M168.6 215.2h0M173.1 215.6h0M210.2 224.1h0M226.8 221.3h0M194.1 221.2h0M174.8 216.7h0M180.1 223.9h0M207.7 216.6h0M171.2 218.7h0M214.9 215.5h0M214.2 220.7h0M189.3 221.0h0M200.0 224.9h0M201.9 219.5h0M216.7 216.4h0M168.6 219.5h0M209.8 219.1h0M181.1 215.3h0M173.8 216.9h0M189.9 222.1h0M184.0 215.0h0M169.8 217.2h0M158.5 221.2h0M170.6 223.0h0M214.8 217.4h0M224.3 218.4h0M200.0 218.6h0M209.9 223.4h0M178.5 216.9h0M186.6 215.9h0M193.2 220.8h0M168.0 221.8h0M169.7 214.6h0M189.8 214.7h0M182.1 224.4h0M168.4 219.2h0M195.2 220.5h0M183.1 222.5h0M206.9 219.3h0M187.9 218.0h0M182.5 221.5h0M190.4 222.1h0M184.8 215.9h0M175.7 218.1h0M180.6 222.2h0M201.9 223.6h0M200.0 221.0h0M211.8 215.0h0M156.7 215.9h0M180.7 223.3h0M180.3 218.7h0M191.2 226.1h0M179.7 215.4h0M178.5 215.0h0M202.5 222.8h0M191.3 221.7h0M166.5 221.7h0M212.7 222.5h0M206.4 217.6h0M177.4 221.3h0M203.4 225.5h0M174.4 223.0h0M208.8 217.7h0M184.0 217.6h0M173.2 225.7h0M181.1 219.3h0M173.9 218.2h0M191.6 218.3h0M191.2 218.2h0M188.7 216.8h0M177.7 221.8h0M189.7 216.0h0M153.0 219.4h0M192.5 225.2h0M208.9 217.8h0M193.1 221.7h0M180.8 218.4h0M184.7 221.4h0M185.6 219.9h0M177.9 219.2h0M177.2 217.5h0M170.9 222.0h0M210.0 217.6h0M187.7 223.1h0M205.7 216.5h0M183.4 223.1h0M189.3 225.2h0M184.9 225.7h0M196.6 218.7h0M203.3 221.6h0M192.4 219.0h0M175.6 222.0h0M173.6 220.4h0M218.7 215.5h0M182.8 215.2h0M182.6 225.6h0M215.1 214.9h0M208.1 219.4h0M197.9 217.1h0M180.6 215.1h0M231.5 220.2h0M195.3 221.2h0M198.1 215.6h0M184.8 219.7h0M161.9 215.4h0M163.3 216.0h0M195.5 214.6h0M195.3 218.0h0M183.6 225.2h0M166.4 215.4h0M161.4 222.7h0M182.0 224.0h0M161.1 220.7h0M204.6 222.8h0M209.3 223.3h0M240.3 216.2h0M204.2 215.3h0M177.1 222.6h0M171.9 221.1h0M124.2 215.7h0M177.0 222.2h0M184.7 220.0h0M205.9 215.3h0M199.3 224.2h0M198.9 219.4h0M192.0 223.3h0M200.2 216.8h0M214.8 222.0h0M168.3 216.3h0M179.6 221.0h0M162.3 215.1h0M217.9 220.2h0M212.0 219.3h0M201.9 224.2h0M165.9 222.0h0M191.2 220.9h0M183.7 215.5h0M189.5 218.9h0M184.5 216.4h0M197.6 215.9h0M180.7 224.9h0M203.8 221.6h0M192.5 216.2h0M182.6 217.0h0M185.9 219.2h0M179.9 221.0h0M203.1 219.6h0M183.0 226.0h0M193.5 224.3h0M180.8 221.6h0M160.6 223.2h0M204.8 222.6h0M168.5 216.4h0M200.6 216.8h0M195.8 217.3h0M157.4 218.5h0M170.6 215.2h0M178.5 223.0h0M172.8 218.4h0M166.2 220.4h0M201.7 215.0h0M183.6 221.7h0M195.1 222.9h0M180.1 216.9h0M193.7 216.4h0M174.1 217.4h0M187.5 216.7h0M198.8 223.3h0M188.8 218.7h0M179.6 219.5h0M167.9 215.3h0M191.1 221.1h0M194.4 222.8h0M183.2 222.2h0M173.8 219.6h0M198.0 214.6h0M233.9 216.3h0M182.4 217.4h0M194.2 220.2h0M195.0 221.0h0M140.6 214.9h0M190.3 220.5h0M175.0 224.2h0M213.6 216.4h0M183.3 223.5h0M173.6 221.0h0M184.0 218.6h0M191.1 216.2h0M177.7 226.0h0M187.0 218.2h0M163.0 223.4h0M183.8 218.4h0M202.3 218.5h0M224.4 218.3h0M201.1 220.5h0M193.0 219.4h0M209.9 214.8h0M206.8 221.1h0M218.8 219.1h0M208.0 223.3h0M185.8 221.2h0M192.8 225.4h0M191.3 215.4h0M193.6 221.6h0M191.7 215.1h0M173.6 224.1h0M149.1 217.2h0M175.6 218.7h0M150.6 217.3h0M189.3 216.6h0M188.1 225.1h0M157.0 216.8h0M200.7 225.4h0M204.0 221.8h0M189.8 216.0h0M218.8 218.2h0M222.6 214.9h0M165.7 215.8h0M207.2 220.3h0M196.2 222.3h0M195.7 223.3h0M205.3 224.8h0M174.7 217.4h0M177.1 216.5h0M172.7 225.2h0M174.1 219.9h0M186.2 216.2h0M161.2 217.9h0M168.7 220.5h0M198.7 214.9h0M186.7 220.8h0M195.1 222.0h0M153.1 218.9h0M173.5 221.5h0M177.7 221.1h0M188.6 219.9h0M177.2 225.0h0M205.3 218.4h0M186.9 219.0h0M188.3 217.5h0M188.3 222.9h0M201.1 225.1h0M179.3 217.5h0M208.8 220.8h0M196.5 218.7h0M190.9 222.6h0M188.8 221.7h0M197.6 222.5h0M206.8 219.6h0M205.5 218.0h0M195.0 222.9h0M204.2 221.6h0M190.2 220.3h0M211.2 217.3h0M187.5 221.4h0M149.7 222.8h0M212.7 219.0h0M190.0 220.4h0M166.4 214.6h0M184.3 219.0h0M171.7 225.2h0M226.8 217.1h0M197.2 224.8h0M159.0 220.5h0M198.1 225.4h0M180.6 218.7h0M223.4 221.4h0M168.6 215.0h0M146.5 221.1h0M189.2 214.7h0M181.6 215.3h0M180.3 219.7h0M148.4 218.9h0M195.9 221.1h0M218.9 216.6h0M152.7 221.9h0M209.7 220.9h0M177.5 225.2h0M231.4 218.4h0M196.1 223.4h0M184.5 215.2h0M208.4 219.9h0M197.7 223.0h0M177.1 222.5h0M201.1 223.4h0M178.6 224.8h0M155.0 223.6h0M225.6 216.6h0M181.5 224.7h0M176.8 216.1h0M194.3 214.7h0M159.2 215.2h0M163.0 222.9h0M178.8 216.6h0M178.4 218.8h0M189.3 215.0h0M208.8 221.6h0M179.2 218.7h0M197.1 218.5h0M199.1 223.3h0M168.0 218.5h0M192.2 217.4h0M170.6 216.4h0M207.7 215.8h0M196.4 225.6h0M188.3 217.0h0M163.3 221.3h0M190.2 216.9h0M173.8 223.9h0M201.1 221.1h0M185.8 221.0h0M173.0 217.6h0M205.1 218.3h0M201.3 216.3h0M177.0 226.0h0M209.5 221.6h0M182.5 217.3h0M182.3 223.0h0M190.3 216.1h0M174.1 222.0h0M179.8 218.0h0M185.0 225.4h0M216.3 215.1h0M215.7 223.0h0M183.2 220.9h0M217.8 220.0h0M187.2 222.2h0M195.0 219.4h0M204.3 219.3h0M193.4 216.6h0M232.6 214.6h0M192.5 216.5h0M165.9 217.2h0M212.1 222.4h0M180.4 223.3h0M182.4 226.0h0M132.7 219.6h0M206.5 216.6h0M203.1 224.8h0M202.8 222.2h0M206.1 220.8h0M219.3 222.1h0M187.2 221.8h0M205.3 222.3h0M174.3 220.8h0M181.5 223.7h0M207.5 224.9h0M195.2 215.4h0M163.4 216.9h0M194.7 216.8h0M184.6 222.8h0M172.9 215.0h0M196.0 216.2h0M180.5 220.9h0M159.0 221.4h0M167.5 216.5h0M220.7 223.4h0M160.0 218.5h0M192.1 215.8h0M199.3 215.3h0M199.8 215.2h0M165.4 220.3h0M182.1 226.0h0M190.6 221.6h0M202.8 222.2h0M176.1 218.9h0M166.5 217.2h0M206.5 214.6h0M208.4 221.3h0M194.8 221.4h0M176.8 224.8h0M195.5 216.2h0M190.0 219.9h0M203.5 222.6h0M164.9 219.5h0M190.2 220.1h0M185.1 216.4h0M167.5 222.6h0M192.0 219.8h0M188.7 220.5h0M180.4 224.7h0M195.3 224.1h0M161.8 222.1h0M187.0 220.7h0M196.0 219.2h0M193.3 217.1h0M207.9 215.3h0M165.8 224.2h0M160.1 214.6h0M192.4 220.9h0M196.4 216.7h0M227.2 219.6h0M199.4 217.2h0M171.9 217.7h0M202.9 225.3h0M172.4 215.7h0M160.6 224.3h0M236.2 217.5h0M194.0 223.2h0M201.2 218.7h0M198.4 223.5h0M221.5 217.7h0M193.3 216.9h0M210.5 218.4h0M169.0 216.1h0M162.3 220.6h0M214.4 217.5h0M215.3 219.6h0M197.4 215.3h0M192.2 224.8h0M191.1 215.8h0M175.3 225.8h0M216.4 215.7h0M200.2 224.6h0M197.4 217.6h0M195.0 224.6h0M207.4 216.6h0M197.3 223.0h0M201.8 224.7h0M166.4 215.7h0M197.4 218.9h0M228.4 215.5h0M178.4 216.6h0M185.6 224.9h0M204.5 224.2h0M205.7 217.3h0M199.5 216.0h0M158.1 222.5h0M197.3 215.6h0M166.1 225.1h0M172.8 216.8h0M198.1 218.4h0M182.5 221.2h0M203.0 220.9h0M246.2 217.1h0M202.4 219.9h0M201.4 219.7h0M171.5 223.6h0M176.1 225.9h0M168.4 219.3h0M178.2 223.5h0M167.8 224.2h0M175.8 222.7h0M184.2 224.2h0M169.5 215.8h0M161.8 221.6h0M162.9 217.9h0M196.4 225.9h0M189.1 218.1h0M207.0 214.8h0M207.3 216.8h0M181.7 216.9h0M200.4 220.6h0M161.4 219.6h0M230.2 215.1h0M210.1 222.1h0M184.0 219.8h0M166.5 217.1h0M195.0 221.7h0M153.5 219.2h0M173.6 225.4h0M201.8 217.7h0M189.4 223.9h0M178.9 222.7h0M205.6 222.6h0M168.8 217.3h0M193.3 221.0h0M178.8 214.6h0M172.4 216.5h0M196.6 215.2h0M169.7 217.6h0M223.2 220.9h0M177.2 221.9h0M224.8 219.6h0M167.8 222.9h0M199.2 220.1h0M165.8 216.5h0M163.2 219.2h0M191.0 223.9h0M200.5 217.2h0M164.5 214.7h0M209.9 219.6h0M173.3 224.0h0M190.4 217.3h0M195.0 219.4h0M199.0 216.4h0M154.8 218.0h0M217.9 215.5h0M198.4 225.7h0M180.1 218.2h0M169.1 218.5h0M156.7 216.4h0M162.9 222.4h0M198.1 218.8h0M181.7 222.6h0M167.1 216.9h0M178.3 225.0h0M216.9 222.4h0M181.9 215.0h0M177.2 217.2h0M213.0 221.7h0M196.5 222.0h0M188.8 220.7h0M176.8 223.0h0M159.3 223.0h0M166.4 214.7h0M179.1 223.3h0M184.0 217.1h0M194.6 217.4h0M198.2 217.2h0M192.1 222.2h0M192.1 223.1h0M169.4 218.4h0M148.2 214.6h0M178.4 221.1h0M170.4 222.9h0M175.9 219.7h0M182.9 223.6h0M165.0 221.1h0M167.5 217.1h0M186.2 223.0h0M190.1 220.5h0M175.9 218.2h0M197.2 223.8h0M184.0 224.2h0M169.2 214.7h0M188.8 215.8h0M222.8 215.3h0M175.5 219.0h0M209.6 219.3h0M213.5 223.3h0M215.7 221.6h0M172.8 224.3h0M225.3 218.1h0M190.2 220.6h0M183.3 223.8h0M183.8 224.8h0M199.1 218.9h0M189.0 224.2h0M184.7 226.1h0M211.7 222.1h0M174.7 216.5h0M168.7 217.9h0M202.7 219.4h0M201.0 222.8h0M208.2 219.8h0M168.2 225.5h0M208.0 221.3h0M196.9 220.0h0M220.6 222.6h0M164.9 218.6h0M192.0 220.5h0M182.9 225.4h0M158.6 222.9h0M174.8 219.9h0M208.8 215.4h0M179.3 225.3h0M174.7 219.1h0M204.1 222.0h0M206.3 220.7h0M206.2 215.2h0M173.4 218.3h0M186.9 222.5h0M207.1 220.0h0M175.9 214.6h0M174.2 215.8h0M203.3 220.4h0M216.9 218.7h0M166.7 220.0h0M140.0 220.5h0M161.2 214.7h0M169.3 222.7h0M185.5 223.3h0M199.4 224.3h0M185.3 215.0h0M175.1 215.3h0M190.8 218.3h0M170.2 219.4h0M187.1 219.0h0M176.2 221.3h0M237.5 215.0h0M203.1 219.0h0M172.6 215.9h0M169.6 217.6h0M179.9 217.9h0M157.6 217.5h0M174.5 216.8h0M174.4 216.4h0M204.3 217.6h0M180.1 222.0h0M173.4 222.5h0M163.2 222.7h0M166.3 215.8h0M186.8 220.1h0M184.0 226.3h0M209.0 218.4h0M176.4 215.8h0M207.6 215.2h0M192.8 215.0h0M187.9 215.8h0M150.9 221.8h0M164.2 219.3h0M201.7 217.4h0M213.8 217.7h0M191.8 221.5h0M202.1 225.1h0M180.5 215.5h0M181.1 216.8h0M175.8 215.8h0M206.0 220.7h0M194.3 222.8h0M183.7 216.1h0M181.9 218.2h0M198.3 217.9h0M194.0 225.6h0M172.6 224.4h0M219.7 216.4h0M192.8 215.6h0M188.2 221.6h0M215.3 215.5h0M206.9 223.0h0M186.4 219.0h0M197.9 221.5h0M168.2 219.2h0M176.2 223.4h0M146.2 219.4h0M210.6 219.7h0M152.9 218.1h0M200.6 223.1h0M172.7 218.6h0M169.9 222.9h0M184.4 214.6h0M192.9 222.9h0M199.3 224.3h0M220.7 220.8h0M194.6 219.1h0M204.3 220.2h0M176.9 218.1h0M201.2 224.2h0M190.8 220.9h0M179.5 219.2h0M186.2 214.7h0M186.9 215.6h0M191.5 219.1h0M195.4 222.1h0M178.6 224.5h0M174.3 218.3h0M201.8 219.0h0M156.7 219.3h0M176.6 217.4h0M216.7 219.3h0M138.0 215.8h0M175.2 222.2h0M200.7 221.6h0M157.5 215.2h0M236.0 216.9h0M140.2 214.7h0M214.6 223.7h0M216.8 215.1h0M204.9 224.7h0M183.9 217.1h0M194.6 218.9h0M171.4 224.1h0M203.0 221.8h0M167.3 219.8h0M182.9 219.2h0M206.4 219.6h0M167.4 225.1h0M181.3 214.6h0M191.0 221.6h0M163.2 217.1h0M209.5 215.1h0M194.3 214.7h0M160.0 222.6h0M187.1 215.5h0M173.7 219.6h0M175.9 218.1h0M189.4 222.9h0M174.9 224.0h0M205.8 218.7h0M175.0 215.4h0M206.2 220.4h0M187.2 214.9h0M203.8 217.4h0M178.0 225.8h0M178.7 215.1h0M166.7 224.0h0M198.7 223.0h0M205.3 218.9h0M227.2 214.8h0M211.9 223.1h0M192.6 222.2h0M184.1 225.5h0M195.2 224.8h0M187.5 220.7h0M215.1 218.3h0M205.5 219.4h0M172.5 225.2h0M175.3 220.6h0M213.3 219.7h0M193.7 215.1h0M183.7 221.9h0M209.9 218.0h0M180.8 220.0h0M182.8 216.8h0M179.5 218.7h0M151.8 214.6h0M204.0 218.1h0M165.7 221.2h0M177.5 220.8h0M174.3 215.9h0M201.4 221.1h0M186.7 215.2h0M188.3 220.6h0M157.0 214.9h0M186.4 224.1h0M160.7 216.5h0M193.7 220.5h0M194.8 223.0h0M187.7 218.9h0M225.8 222.2h0M197.8 223.3h0M199.0 216.0h0M190.6 219.6h0M184.4 221.8h0M205.9 223.5h0M208.4 223.1h0M164.0 222.4h0M207.5 219.9h0M197.5 225.7h0M205.8 222.8h0M196.6 220.6h0M165.0 215.6h0M166.3 215.7h0M221.7 214.9h0M192.7 223.1h0M161.8 223.4h0M194.4 216.0h0M181.3 217.7h0M153.9 221.4h0M145.7 218.9h0M158.4 215.1h0M193.0 216.3h0M187.1 215.1h0M183.4 220.0h0M193.3 223.5h0M199.1 219.3h0M149.2 222.2h0M182.4 224.5h0M172.7 224.6h0M165.2 222.2h0M177.9 223.8h0M185.7 222.8h0M183.1 217.7h0M161.1 217.6h0M179.1 225.8h0M225.3 215.5h0M168.5 216.2h0M156.8 214.9h0M193.1 223.2h0M199.0 217.2h0M196.6 219.2h0M167.3 217.4h0M206.5 215.3h0M173.5 224.8h0M167.0 216.0h0M176.8 215.9h0M186.0 218.3h0M201.2 220.8h0M199.5 219.3h0M187.6 224.3h0M205.3 217.0h0M189.5 219.3h0M204.6 218.8h0M162.1 217.2h0M158.9 223.5h0M202.3 225.0h0M162.3 223.6h0M182.4 225.0h0M186.2 216.5h0M179.0 224.3h0M179.6 221.3h0M213.7 217.6h0M141.3 219.8h0M204.3 215.3h0M230.4 215.0h0M188.4 221.2h0M187.7 218.9h0M201.4 216.6h0M221.8 214.6h0M166.1 217.5h0M189.6 220.5h0M184.6 225.6h0M198.3 218.2h0M191.0 218.1h0M200.2 217.6h0M180.2 221.6h0M188.9 215.9h0M175.6 218.8h0M175.7 221.2h0M185.4 223.0h0M185.4 225.8h0M166.3 217.3h0M217.0 220.7h0M185.5 216.0h0M162.4 221.3h0M208.4 221.5h0M174.2 216.7h0M197.4 221.1h0M187.7 214.6h0M192.6 219.1h0M191.2 215.1h0M177.4 224.4h0M188.8 225.5h0M225.6 222.7h0M146.7 215.4h0M189.2 220.2h0M196.0 217.2h0M168.6 219.3h0M162.7 214.7h0M227.9 215.8h0M181.1 220.1h0M226.4 221.0h0M197.9 221.1h0M189.4 221.2h0M196.8 221.4h0M199.7 217.4h0M209.8 216.0h0M196.1 216.2h0M190.7 223.5h0M191.3 223.8h0M213.0 217.5h0M203.1 217.1h0M169.5 216.6h0M176.3 215.4h0M194.1 221.7h0M176.5 225.1h0M181.1 221.4h0M170.3 221.7h0M183.2 224.6h0M195.8 217.8h0M206.4 219.4h0M188.2 218.5h0M226.4 215.4h0M186.6 219.0h0M247.0 214.8h0M206.5 216.2h0M197.2 219.5h0M178.8 218.5h0M135.8 217.7h0M185.1 221.2h0M191.3 217.3h0M223.5 217.6h0M162.5 220.8h0M223.2 217.2h0M183.4 219.5h0M201.4 224.2h0M141.1 216.2h0M190.6 219.9h0M181.7 215.2h0M200.6 215.4h0M189.7 224.6h0M166.9 222.2h0M205.5 217.5h0M200.8 223.1h0M199.0 216.2h0M206.7 217.7h0M208.4 214.9h0M187.6 221.6h0M162.9 217.5h0M162.4 218.3h0M213.0 217.4h0M201.1 214.9h0M189.9 221.6h0M180.0 223.1h0M188.6 216.5h0M188.5 224.1h0M181.8 219.3h0M175.1 215.2h0M228.0 215.5h0M192.2 217.7h0M176.8 225.9h0M163.9 214.6h0M174.6 220.3h0M201.3 222.0h0M202.0 224.7h0M184.0 224.2h0M189.0 225.5h0M182.4 219.2h0M167.5 220.9h0M212.1 221.3h0M194.9 216.3h0M233.8 220.7h0M174.0 220.7h0M185.5 216.5h0M204.3 216.1h0M183.5 217.5h0M162.4 219.1h0M170.5 223.6h0M189.9 221.1h0M194.4 217.3h0M186.3 216.8h0M206.6 218.3h0M206.4 215.4h0M194.0 219.1h0M188.5 216.0h0M183.3 215.4h0M198.2 223.6h0M205.0 223.5h0M189.1 214.6h0M196.3 222.2h0M182.0 220.5h0M161.9 220.2h0M169.5 215.9h0M202.2 225.5h0M196.3 219.9h0M217.4 219.3h0M189.0 224.8h0M204.0 220.2h0M212.5 215.6h0M206.4 224.6h0M176.8 222.7h0M184.6 218.7h0M190.4 219.4h0M169.8 216.9h0M196.8 221.6h0M206.9 223.7h0M179.1 221.4h0M224.5 215.7h0M182.6 220.6h0M184.3 221.1h0M183.6 216.7h0M174.9 218.8h0M195.7 224.1h0M188.4 221.3h0M218.7 215.2h0M199.2 225.4h0M197.9 216.9h0M183.9 222.2h0M161.9 216.8h0M186.4 223.9h0M172.3 218.0h0M205.6 215.8h0M187.4 225.3h0M218.8 214.8h0M201.6 224.2h0M203.5 225.4h0M192.3 216.3h0M191.9 219.7h0M200.1 225.3h0M205.1 217.9h0M174.9 219.7h0M197.1 214.6h0M236.4 214.6h0M186.4 215.7h0M183.3 219.6h0M175.2 216.3h0M161.2 216.9h0M210.0 221.7h0M189.1 217.1h0M193.5 222.2h0M222.1 219.3h0M234.4 220.6h0M171.6 224.0h0M207.5 219.4h0M199.5 216.1h0M195.4 216.6h0M196.9 223.8h0M187.6 219.4h0M217.4 220.8h0M199.4 223.1h0M194.4 221.4h0M211.1 217.5h0M204.6 215.1h0M196.6 224.6h0M194.1 222.2h0M220.5 216.5h0M197.5 219.8h0M186.4 221.2h0M172.2 216.5h0M181.7 225.9h0M168.7 214.9h0M190.1 222.6h0M192.8 216.0h0M150.2 215.8h0M188.4 216.1h0M200.1 218.4h0M191.1 218.2h0M170.4 225.1h0M211.5 220.0h0M175.2 218.4h0M165.4 222.0h0M168.1 217.7h0M187.8 219.3h0M206.2 217.7h0M209.6 215.8h0M191.9 221.8h0M166.0 218.2h0M175.9 225.3h0M171.5 216.5h0M184.7 216.4h0M155.3 217.2h0M190.1 217.7h0M200.0 219.0h0M185.3 222.0h0M196.5 216.5h0M170.7 224.0h0M161.1 218.5h0M176.3 224.5h0M209.4 216.9h0M207.1 219.4h0M179.6 218.4h0M210.3 222.9h0M182.0 220.9h0M216.0 217.5h0M196.9 220.5h0M179.7 217.4h0M202.7 224.5h0M173.7 221.4h0M170.7 224.3h0M161.2 216.9h0M192.8 221.1h0M187.0 217.1h0M186.6 217.0h0M180.4 225.6h0M214.6 217.9h0M180.2 216.5h0M174.6 215.3h0M211.0 223.7h0M214.3 223.4h0M194.3 220.5h0M155.9 216.7h0M176.9 224.5h0M199.3 214.6h0M188.3 217.5h0M216.7 224.0h0M162.7 216.9h0M200.5 220.5h0M176.4 223.7h0M212.5 217.6h0M186.6 217.5h0M207.1 218.2h0M176.0 222.7h0M162.0 222.8h0M167.5 224.7h0M176.8 223.8h0M169.1 221.2h0M210.2 221.0h0M212.8 223.8h0M193.1 216.0h0M168.9 223.2h0M185.8 225.1h0M175.3 223.2h0M214.9 219.6h0M193.8 218.5h0M197.1 224.8h0M180.6 224.1h0M150.8 223.4h0M173.8 220.9h0M167.4 214.6h0M194.9 216.7h0M189.8 216.0h0M173.2 215.3h0M180.8 223.2h0M217.0 217.6h0M170.3 220.6h0M171.0 221.2h0M183.8 217.0h0M175.1 219.1h0M180.1 218.5h0M197.8 222.4h0M220.0 214.9h0M155.1 217.5h0M187.7 218.4h0M188.8 217.0h0M186.5 215.3h0M184.6 223.8h0M181.7 222.7h0M206.6 214.7h0M179.4 217.9h0M185.7 215.6h0M188.0 221.9h0M190.0 214.6h0M184.9 220.7h0M206.5 216.3h0M187.8 215.3h0M191.2 219.7h0M187.1 220.9h0M169.5 219.7h0M172.7 224.1h0M168.6 224.6h0M191.6 215.0h0M174.8 218.1h0M168.4 224.4h0M192.4 218.9h0M197.7 222.7h0M155.5 215.8h0M219.2 220.1h0M188.6 226.0h0M186.1 218.0h0M207.7 214.6h0M189.3 217.2h0M176.9 214.8h0M228.6 221.4h0M168.2 221.9h0M186.2 216.8h0M203.7 220.0h0M168.2 223.3h0M186.1 221.7h0M195.2 222.3h0M232.4 216.4h0M171.5 216.8h0M187.1 217.3h0M200.2 217.9h0M189.5 217.1h0M165.8 215.2h0M195.6 222.6h0M190.0 222.5h0M196.2 214.6h0M208.9 215.5h0M206.7 217.8h0M195.5 216.6h0M193.7 218.2h0M167.7 221.7h0M185.5 219.2h0M192.1 222.9h0M180.6 224.8h0M189.8 221.8h0M172.8 216.4h0M216.4 222.6h0M227.8 222.0h0M180.8 223.0h0M195.4 216.7h0M183.7 215.6h0M211.3 221.6h0M196.0 214.8h0M189.4 220.2h0M183.9 217.8h0M190.3 218.0h0M169.5 220.3h0M200.5 216.0h0M174.8 215.5h0M197.9 220.1h0M190.4 222.2h0M208.2 215.0h0M187.7 217.7h0M206.9 220.9h0M171.0 223.6h0M199.3 220.9h0M183.9 220.6h0M191.6 216.4h0M189.3 217.6h0M205.3 219.4h0M150.7 215.2h0M194.0 218.9h0M160.4 215.7h0M210.3 224.1h0M151.6 222.9h0M169.5 215.8h0M157.1 216.8h0" stroke="#c3dfec" stroke-width="1.69" stroke-linecap="round" fill="none"/>
<path d="M176.6 208.8h0M175.4 212.5h0M175.0 199.3h0M177.2 198.1h0M182.1 205.7h0M176.0 208.0h0M176.5 210.8h0M181.6 206.1h0M176.0 212.8h0M176.5 205.7h0M180.8 209.7h0M181.8 205.9h0M182.5 200.5h0M174.8 213.1h0M177.2 211.5h0M179.7 206.7h0M177.3 203.1h0M180.8 209.4h0M176.3 212.6h0M179.6 201.6h0M175.8 203.0h0M175.7 206.5h0M181.3 211.3h0M179.8 210.5h0M179.3 211.4h0M177.6 213.3h0M180.2 206.9h0M182.6 213.9h0M177.6 189.4h0M174.8 205.0h0M176.6 212.9h0M181.1 201.1h0M177.0 183.1h0M180.9 202.9h0M176.1 207.2h0M179.5 203.7h0M177.5 206.5h0M179.0 211.9h0M177.6 211.0h0M179.5 202.5h0M180.8 206.3h0M180.5 205.6h0M178.1 196.6h0M174.7 211.7h0M181.5 207.9h0M175.3 196.8h0M177.7 207.2h0M181.2 189.8h0M182.9 210.4h0M180.7 213.7h0M175.4 208.7h0M182.7 198.1h0M174.8 197.2h0M174.7 194.5h0M180.8 206.8h0M182.3 211.0h0M179.9 213.6h0M182.0 184.2h0M180.0 209.0h0M175.1 212.6h0M179.7 210.3h0M181.0 209.9h0M178.7 213.4h0M180.5 164.1h0M178.4 211.9h0M175.3 185.8h0M181.8 208.6h0M176.2 214.2h0M176.2 212.6h0M175.5 191.0h0M177.4 208.7h0M177.9 208.9h0M176.1 204.5h0M175.8 209.8h0M178.3 203.6h0M174.5 208.1h0M178.6 209.9h0M175.3 199.6h0M175.5 201.7h0M175.4 203.8h0M181.7 203.0h0M181.4 203.0h0M182.9 210.7h0M181.4 212.4h0M178.8 203.1h0M177.8 212.2h0M179.4 212.4h0M179.8 200.0h0M182.9 206.2h0M177.3 204.3h0M182.2 211.9h0M182.6 203.4h0M182.6 193.2h0M179.8 213.1h0M179.7 204.2h0M183.0 209.5h0M178.0 213.5h0M181.1 199.2h0M175.1 208.4h0M176.4 199.6h0M178.7 213.9h0M180.8 207.1h0M175.9 200.1h0M181.5 202.5h0M179.4 211.2h0M175.6 179.8h0M174.7 206.7h0M177.8 209.5h0M181.5 214.3h0M182.8 200.3h0M181.0 211.4h0M176.3 181.2h0M182.2 200.2h0M175.7 213.3h0M177.8 206.7h0M180.2 211.1h0M177.3 213.1h0M177.2 186.3h0M178.1 204.7h0M182.2 214.0h0M178.4 207.1h0M175.1 209.2h0M177.5 212.4h0M179.5 211.0h0M179.1 213.6h0M182.7 210.8h0M178.8 206.7h0M181.2 206.6h0M180.9 202.1h0M178.4 211.3h0M178.0 188.9h0M178.4 214.2h0M175.4 194.9h0M175.1 202.6h0M175.4 199.7h0M175.5 201.2h0M175.1 202.8h0M177.8 204.6h0M175.7 210.7h0M182.9 197.6h0M177.9 214.1h0M174.4 213.4h0M180.1 214.4h0M180.6 210.8h0M182.6 200.1h0M176.5 193.3h0M177.1 206.4h0M180.9 208.8h0M179.8 212.2h0M179.8 213.7h0M182.5 211.7h0M183.0 213.2h0M174.5 201.2h0M177.7 204.3h0M182.6 211.3h0M174.5 210.2h0M177.3 211.1h0M181.0 209.9h0M175.0 214.1h0M179.5 207.4h0M182.4 206.5h0M179.0 213.7h0M174.4 205.0h0M175.4 207.9h0M177.9 211.3h0M174.5 193.0h0M180.1 214.0h0M176.7 207.9h0M177.3 200.8h0M181.2 192.4h0M180.7 205.8h0M181.3 210.0h0M176.0 212.5h0M177.4 213.3h0M179.9 200.5h0M178.7 209.4h0M181.4 205.0h0M178.0 203.9h0M182.3 213.8h0M176.3 201.1h0M180.0 213.3h0M181.3 207.0h0M182.9 195.7h0M177.7 212.1h0M182.0 212.0h0M179.6 203.7h0M179.9 210.8h0M176.6 212.4h0M182.0 213.1h0M175.0 201.4h0M183.0 206.1h0M179.3 198.8h0M179.4 204.4h0M175.9 208.6h0M180.2 209.1h0M175.7 208.8h0M181.6 212.0h0M180.9 214.0h0M175.8 212.5h0M181.2 213.0h0M179.9 185.9h0M176.9 199.5h0M180.1 202.5h0M180.4 213.1h0M178.7 207.8h0M180.4 214.4h0M181.2 211.9h0M182.1 202.3h0M181.6 209.8h0M175.3 213.4h0M181.8 201.5h0M182.6 212.4h0M178.6 214.1h0M182.2 203.4h0M176.3 209.2h0M174.7 210.8h0M178.2 209.0h0M175.4 208.5h0M175.5 212.1h0M178.2 212.2h0M182.8 206.9h0M178.9 211.1h0M182.9 214.3h0M178.8 190.7h0M178.4 201.4h0M174.6 201.5h0M175.1 209.6h0M182.0 206.1h0M180.3 212.8h0M179.3 211.9h0M182.1 213.6h0M180.0 179.6h0M176.8 213.5h0M181.9 204.6h0M180.7 210.1h0M175.1 209.0h0M181.6 202.6h0M177.5 213.2h0M181.7 203.5h0M181.5 210.7h0M182.2 211.5h0M175.4 200.7h0M180.8 213.8h0M177.1 204.1h0M181.8 213.5h0M175.4 201.9h0M182.0 210.5h0M182.8 204.4h0M178.9 202.2h0M179.1 207.0h0M179.7 208.6h0M182.2 204.0h0M175.1 205.8h0M181.8 202.6h0M177.4 207.1h0M177.9 205.5h0M181.9 212.1h0M175.4 206.8h0M175.6 211.1h0M180.3 213.8h0M180.7 202.8h0M176.3 209.4h0M180.4 206.9h0M177.5 210.9h0M174.6 209.8h0M176.7 213.7h0M175.8 203.7h0M178.3 213.4h0M178.3 204.2h0M177.7 213.7h0M182.3 209.1h0M177.7 198.3h0M176.0 195.0h0M182.6 206.5h0M179.9 213.5h0M182.6 211.8h0M178.3 213.3h0M179.6 178.7h0M177.2 190.8h0M182.7 202.2h0M176.8 206.3h0M182.4 203.3h0M177.3 208.9h0M181.0 192.6h0M180.0 202.2h0M181.1 213.1h0M176.1 172.0h0M183.0 210.5h0M178.7 210.4h0M175.0 207.1h0M180.3 208.8h0M175.1 208.5h0M180.0 207.8h0M180.6 213.4h0M176.1 199.5h0M175.4 209.1h0M175.5 213.1h0M180.1 212.4h0M180.9 212.5h0M182.3 214.0h0M177.2 210.9h0M175.2 208.6h0M179.8 204.2h0M181.6 202.5h0M180.7 164.1h0M178.6 211.1h0M176.7 206.7h0M180.7 210.5h0M181.8 212.7h0M176.3 209.0h0M180.5 213.3h0M181.1 214.3h0M183.0 210.7h0M177.6 169.1h0M177.8 213.4h0M174.8 208.5h0M175.8 201.1h0M180.8 173.3h0M176.7 202.2h0M182.3 212.0h0M177.1 211.6h0M181.3 207.1h0M177.5 213.0h0M180.9 205.4h0M178.2 212.5h0M176.2 188.2h0M176.2 202.2h0M176.9 193.5h0M175.4 214.1h0M181.9 206.8h0M182.4 209.3h0M181.3 201.1h0M174.4 195.1h0M182.0 206.5h0M181.3 208.7h0M181.7 202.5h0M179.8 202.2h0M176.2 210.4h0M177.0 206.2h0M177.8 201.9h0M176.0 209.0h0M174.6 211.8h0M182.6 206.8h0M177.8 199.6h0M179.6 210.5h0M175.3 198.0h0M181.8 213.5h0M180.9 199.9h0M174.7 207.5h0M176.1 214.1h0M180.8 207.5h0M174.9 211.4h0M174.6 210.6h0M175.4 210.7h0M175.6 195.2h0M181.1 205.6h0M181.2 210.8h0M179.3 210.1h0M177.0 206.4h0M181.2 196.7h0M179.9 213.7h0M174.9 210.7h0M176.0 199.0h0M180.4 211.8h0M179.3 214.0h0M177.8 208.3h0M179.0 199.5h0M176.5 201.6h0M179.5 202.1h0M175.6 206.7h0M182.9 205.9h0M181.5 208.2h0M178.7 202.1h0M182.9 206.6h0M180.3 186.7h0M179.4 212.8h0M180.0 213.4h0M180.5 208.2h0M183.0 212.9h0M181.2 196.2h0M176.4 203.4h0M174.9 213.2h0M182.4 207.2h0M180.8 203.1h0M179.4 214.4h0M178.6 203.2h0M182.6 204.8h0M174.7 212.0h0M175.7 213.7h0M177.1 207.0h0M183.0 203.6h0M180.4 197.7h0M179.6 211.6h0M177.4 203.1h0M175.7 210.9h0M174.5 210.4h0M175.6 197.6h0M175.9 210.8h0M178.8 211.6h0M177.6 199.9h0M182.9 206.8h0M182.4 213.2h0M179.2 206.4h0M175.8 212.4h0M177.1 199.0h0M174.6 210.8h0M180.1 214.2h0M177.7 190.6h0M182.4 193.0h0M177.1 212.4h0M181.8 211.5h0M177.8 204.0h0M180.0 189.7h0M177.5 213.2h0M181.4 213.0h0M176.3 204.9h0M175.8 213.5h0M174.8 165.1h0M177.7 189.7h0M180.7 213.5h0M178.4 206.0h0M181.7 207.0h0M179.5 202.2h0M179.0 164.1h0M178.7 200.0h0M174.7 206.2h0M179.5 194.0h0M176.0 213.3h0M175.1 211.8h0M175.3 200.2h0M175.8 211.8h0M179.8 214.0h0M176.9 213.4h0M176.9 208.8h0M178.0 214.0h0M182.7 191.7h0M176.6 199.0h0M177.0 210.4h0M176.6 212.4h0M177.1 201.2h0M177.0 213.0h0M181.6 193.7h0M182.9 206.7h0M177.8 196.9h0M181.9 209.6h0M175.3 213.6h0M178.6 202.2h0M181.5 208.5h0M175.2 211.2h0M183.0 214.0h0M177.8 214.2h0M178.7 209.7h0M182.6 206.1h0M182.3 208.3h0M176.2 209.2h0M178.3 204.3h0M180.7 211.2h0M178.4 210.6h0M182.5 212.6h0M176.1 193.6h0M182.8 210.8h0M179.8 185.9h0M179.7 207.8h0M180.3 211.7h0M176.7 187.2h0M178.2 214.3h0M176.3 203.6h0M181.4 214.1h0M177.2 200.8h0M175.6 196.4h0M182.1 214.1h0M177.4 211.9h0M182.6 211.7h0M178.2 208.4h0M180.0 198.1h0M181.2 205.5h0M178.8 210.9h0M182.6 213.3h0M181.4 213.1h0M182.1 209.0h0M179.0 212.9h0M175.5 208.3h0M175.9 201.8h0M175.6 210.4h0M179.0 212.4h0M182.6 202.8h0M179.2 206.7h0M178.1 207.6h0M175.4 213.0h0M177.6 200.8h0M176.0 210.7h0M178.3 203.8h0M178.4 202.7h0M182.5 206.7h0M177.8 208.5h0M182.0 210.7h0M174.7 211.1h0M177.4 206.9h0M180.6 202.9h0M178.3 209.8h0M175.1 212.1h0M177.5 213.6h0M179.2 212.2h0M182.7 201.1h0M176.4 211.1h0M175.2 213.7h0M180.9 200.7h0M179.7 201.8h0M177.4 198.6h0M177.8 195.5h0M177.2 203.2h0M180.1 210.6h0M181.9 206.0h0M177.0 194.8h0M182.3 201.7h0M178.0 199.4h0M178.6 208.3h0M176.6 210.4h0M175.1 212.8h0M176.1 210.9h0M174.7 91.8h0M174.7 150.0h0M178.8 157.9h0M175.3 165.0h0M176.5 171.2h0M179.9 174.7h0M177.6 178.2h0" stroke="#5fe0f6" stroke-width="1.76" stroke-linecap="round" fill="none"/>
<path d="M194.0 203.4h0M191.9 208.8h0M194.3 213.1h0M193.0 205.0h0M192.0 213.1h0M190.3 212.7h0M195.7 206.2h0M190.9 212.2h0M193.9 212.6h0M189.4 209.1h0M196.7 194.8h0M189.9 214.3h0M192.8 200.8h0M195.4 213.0h0M190.6 213.6h0M194.0 208.6h0M192.0 205.6h0M196.7 213.5h0M189.7 210.4h0M190.2 211.2h0M193.2 207.4h0M194.3 204.6h0M193.4 205.7h0M190.1 213.3h0M192.7 210.2h0M189.1 211.4h0M194.3 210.0h0M191.4 200.2h0M196.7 212.3h0M192.0 214.2h0M189.0 209.2h0M188.7 203.7h0M191.4 212.7h0M190.8 211.5h0M196.6 213.0h0M195.2 214.4h0M191.7 211.7h0M190.8 193.2h0M189.2 212.3h0M189.6 210.6h0M194.8 214.1h0M189.1 214.2h0M195.2 204.8h0M191.9 210.6h0M194.3 210.4h0M193.8 195.2h0M189.5 210.1h0M195.0 208.1h0M196.0 196.5h0M189.5 191.9h0M196.8 214.0h0M195.4 204.1h0M193.7 198.8h0M194.5 193.1h0M189.0 214.3h0M190.5 213.9h0M196.2 211.9h0M195.9 211.4h0M190.4 207.0h0M193.2 212.5h0M191.5 214.4h0M190.2 210.1h0M195.2 208.2h0M194.3 211.5h0M189.2 212.0h0M194.2 205.9h0M188.7 209.5h0M189.4 211.8h0M192.1 213.8h0M188.9 209.6h0M193.0 197.7h0M194.3 210.7h0M190.8 212.2h0M194.5 209.3h0M189.2 211.8h0M189.3 213.0h0M192.8 213.2h0M188.8 212.9h0M195.0 210.0h0M196.1 210.7h0M188.6 196.7h0M195.3 213.5h0M193.4 213.5h0M196.8 213.5h0M195.3 205.8h0M196.2 212.3h0M195.8 212.6h0M195.8 212.2h0M195.0 211.9h0M196.2 210.6h0M189.3 213.5h0M195.4 208.7h0M194.3 213.9h0M191.6 202.7h0M192.3 202.7h0M189.5 212.2h0M191.2 209.7h0M194.6 214.1h0M193.2 212.8h0M196.4 206.2h0M190.7 212.6h0M190.5 207.6h0M194.8 206.1h0M196.7 212.3h0M191.7 206.3h0M191.9 213.4h0M189.0 214.2h0M190.6 201.1h0M196.3 211.9h0M196.8 212.0h0M192.7 210.9h0M195.8 210.9h0M190.4 212.8h0M194.1 213.4h0M196.3 214.0h0M191.5 212.7h0M194.0 212.6h0M194.9 213.2h0M189.8 212.0h0M190.8 211.4h0M193.6 214.1h0M190.8 193.4h0M189.9 214.2h0M189.9 205.3h0M195.2 209.9h0M192.5 196.2h0M193.3 210.4h0M193.9 208.9h0M191.3 208.0h0M194.1 203.4h0M192.4 212.4h0M189.4 210.2h0M193.0 212.6h0M192.8 210.1h0M194.4 213.6h0M196.7 212.0h0M189.0 214.3h0M193.8 211.4h0M194.5 208.5h0M192.6 210.8h0M192.2 203.9h0M194.6 213.3h0M193.2 210.6h0M192.1 213.5h0M194.1 211.9h0M193.7 213.5h0M189.3 205.7h0M191.6 213.9h0M196.1 198.7h0M189.9 211.4h0M193.0 212.5h0M194.0 211.2h0M189.6 209.7h0M190.3 213.7h0M191.3 198.1h0M193.6 208.6h0M189.7 213.9h0M195.1 213.8h0M194.3 209.2h0M195.4 213.7h0M190.6 212.4h0M193.2 196.7h0M195.8 214.0h0M192.3 203.4h0M193.4 190.1h0M192.0 212.9h0M194.8 203.3h0M193.9 197.5h0M194.9 203.8h0M196.8 210.1h0M195.2 209.2h0M193.4 211.2h0M190.7 212.7h0M192.9 212.9h0M196.6 212.4h0M196.9 210.4h0M189.6 211.8h0M194.3 212.4h0M188.8 212.8h0M189.5 214.3h0M191.7 210.7h0M189.4 213.2h0M194.1 202.9h0M192.8 211.8h0M191.8 212.7h0M195.8 207.3h0M191.6 209.7h0M190.7 214.3h0M191.0 213.5h0M188.8 211.3h0M194.7 206.1h0M194.0 204.6h0M192.1 213.2h0M195.5 212.2h0M191.4 214.2h0M190.4 213.3h0M188.9 202.8h0M190.1 206.3h0M192.4 203.9h0M191.4 209.3h0M192.3 210.0h0M189.0 214.1h0M188.8 199.1h0M194.3 211.1h0M192.1 213.5h0M195.2 204.2h0M195.7 207.0h0M191.6 213.8h0M192.4 203.6h0M195.0 201.8h0M189.7 212.0h0M195.4 213.4h0M191.7 206.9h0M190.7 212.3h0M192.5 211.1h0M194.0 213.4h0M195.7 213.6h0M195.5 200.9h0M188.9 211.7h0M190.0 209.7h0M191.4 202.2h0M189.1 210.7h0M192.4 211.4h0M192.4 214.1h0M193.0 209.5h0M191.5 205.0h0M190.6 208.6h0M193.6 190.8h0M189.1 209.3h0M188.9 210.1h0M194.9 211.0h0M190.2 209.9h0M189.9 210.4h0M190.7 211.0h0M193.4 212.4h0M190.6 212.3h0M194.2 211.1h0M194.0 202.6h0M192.0 202.3h0M196.4 213.5h0M195.0 213.0h0M189.8 211.9h0M190.5 208.1h0M189.5 213.1h0M194.6 210.6h0M190.2 210.1h0M192.4 209.2h0M189.4 214.1h0M196.0 205.6h0M194.9 193.3h0M194.2 212.0h0M194.5 206.9h0M191.6 212.0h0M190.2 199.5h0M188.7 212.9h0M192.0 211.6h0M196.2 206.8h0M188.8 209.3h0M190.2 205.9h0M193.0 208.1h0M189.2 211.1h0M191.1 201.6h0M194.9 210.0h0M190.4 213.6h0M191.2 212.2h0M191.0 213.3h0M190.3 210.4h0M195.4 181.8h0M196.6 214.0h0M193.6 208.6h0M190.7 207.8h0M190.6 208.9h0M194.4 212.3h0M194.7 213.4h0M195.5 202.7h0M189.7 214.3h0M190.3 211.6h0M191.5 206.6h0M192.2 202.1h0M195.4 208.7h0M189.3 203.3h0M191.1 213.9h0M189.6 209.0h0M195.4 201.9h0M194.6 213.1h0M195.4 208.4h0M191.3 207.6h0M193.0 206.5h0M196.1 214.3h0M188.8 201.3h0M195.3 207.1h0M195.1 211.6h0M192.3 205.9h0M195.1 210.9h0M195.0 213.4h0M190.1 214.2h0M196.7 213.7h0M196.5 209.9h0M190.7 209.7h0M196.6 213.9h0M193.2 213.1h0M192.9 212.4h0M195.1 208.9h0M196.3 214.4h0M190.7 210.0h0M189.6 208.0h0M195.7 196.4h0M192.3 203.0h0M193.2 207.6h0M192.6 213.9h0M196.0 200.2h0M193.4 211.2h0M194.5 207.5h0M195.1 205.7h0M188.6 213.8h0M193.3 210.8h0M193.7 209.9h0M189.5 208.9h0M190.0 204.3h0M189.2 214.1h0M192.1 201.4h0M195.1 211.9h0M190.7 213.9h0M195.9 208.6h0M189.2 202.9h0M191.5 214.3h0M190.5 213.5h0M196.7 210.2h0M190.0 206.5h0M195.8 207.3h0M193.0 208.1h0M190.9 212.2h0M192.1 207.9h0M189.7 213.9h0M193.7 212.3h0M194.2 213.2h0M192.3 213.3h0M195.3 207.6h0M195.1 209.9h0M194.3 210.4h0M194.9 207.3h0M192.2 209.1h0M189.9 199.8h0M193.0 210.9h0M192.5 212.0h0M189.8 214.2h0M194.5 213.7h0M192.3 211.1h0M194.3 210.4h0M190.2 208.9h0M190.6 211.2h0M189.4 210.3h0M196.2 212.7h0M194.4 212.1h0M191.2 206.3h0M189.0 202.0h0M191.4 213.5h0M195.2 210.8h0M196.2 206.5h0M190.0 214.2h0M196.4 211.1h0M190.3 213.2h0M188.9 213.5h0M189.7 192.4h0M188.7 204.2h0M190.6 214.1h0M195.1 206.6h0M192.6 209.3h0M195.3 210.9h0M189.4 212.0h0M194.9 212.5h0M189.7 212.3h0M191.3 211.2h0M196.5 208.1h0M194.7 213.6h0M194.7 214.0h0M194.0 204.6h0M191.7 199.9h0M193.9 214.3h0M192.2 204.3h0M195.3 207.0h0M194.3 214.2h0M196.1 211.5h0M195.6 212.4h0M195.7 210.3h0M189.4 213.7h0M188.8 212.9h0M191.8 209.3h0M196.6 207.7h0M193.7 203.5h0M193.5 213.8h0M195.5 213.4h0M193.9 211.9h0M189.5 210.8h0M192.6 212.0h0M195.9 213.9h0M195.4 203.0h0M189.1 211.7h0M197.0 214.1h0M193.0 209.8h0M191.0 213.4h0M192.2 209.6h0M196.5 212.2h0M196.1 209.4h0M191.6 205.2h0M194.0 212.4h0M189.2 208.6h0M195.3 190.1h0M189.2 208.0h0M194.6 202.8h0M191.3 210.5h0M189.9 211.7h0M189.8 204.7h0M196.8 200.8h0M190.5 203.5h0M192.5 208.6h0M189.9 211.2h0M192.7 211.1h0M195.5 197.6h0M190.7 204.8h0M195.5 168.5h0M193.8 172.9h0M191.5 175.6h0M196.1 179.1h0" stroke="#ea6ec0" stroke-width="1.76" stroke-linecap="round" fill="none"/>
<path d="M154.0 210.7h0M135.2 210.1h0M173.8 209.1h0M165.5 210.3h0M146.6 209.7h0M122.2 206.5h0M153.2 206.5h0M173.1 207.1h0M156.9 214.2h0M169.1 210.4h0M170.6 212.3h0M160.3 214.0h0M158.9 208.9h0M138.3 208.1h0M173.4 209.2h0M122.2 210.7h0M153.0 207.9h0M166.7 212.4h0M159.2 201.7h0M159.0 213.6h0M168.5 212.0h0M162.5 208.5h0M139.4 200.0h0M161.1 214.2h0M167.2 208.1h0M130.9 209.5h0M171.8 205.6h0M171.8 213.2h0M149.1 213.0h0M168.3 206.9h0M165.6 212.0h0M172.3 207.3h0M172.4 206.6h0M171.3 211.6h0M167.8 212.9h0M162.8 214.2h0M172.0 205.8h0M159.4 197.0h0M160.7 201.6h0M166.0 213.5h0M146.3 214.4h0M167.1 213.2h0M169.3 213.3h0M166.0 213.4h0M161.0 212.7h0M155.0 214.2h0M165.4 209.1h0M168.9 205.0h0M141.5 200.0h0M169.9 211.4h0M135.7 195.3h0M173.1 214.0h0M170.6 213.8h0M165.7 208.8h0M154.8 210.5h0M168.5 206.3h0M172.5 211.5h0M172.4 212.7h0M145.7 213.5h0M156.5 212.8h0M139.2 198.3h0M130.5 205.5h0M163.9 210.0h0M160.3 206.6h0M145.3 212.6h0M163.5 212.9h0M139.1 197.2h0M147.8 207.2h0M173.5 201.2h0M123.8 213.5h0M168.6 205.5h0M158.9 205.3h0M169.4 212.3h0M163.5 214.2h0M168.9 195.7h0M160.3 213.0h0M139.1 214.0h0M163.3 196.1h0M122.2 213.7h0M171.3 211.4h0M116.4 187.9h0M119.9 195.9h0M121.0 194.1h0M118.7 202.9h0M102.5 201.2h0M110.6 201.2h0M95.6 212.6h0M126.8 210.0h0M127.9 212.6h0M152.2 190.6h0M169.5 180.0h0M171.8 185.3h0M162.6 197.6h0M167.2 192.3h0M145.3 203.8h0" stroke="#2a63d8" stroke-width="1.95" stroke-linecap="round" fill="none"/>
<path d="M202.4 194.6h0M212.4 213.8h0M200.8 207.7h0M250.6 193.1h0M220.4 211.6h0M206.5 189.8h0M211.1 213.7h0M198.2 199.5h0M212.8 210.4h0M209.7 209.3h0M200.8 206.4h0M198.3 208.7h0M200.9 204.1h0M219.7 203.5h0M219.1 212.5h0M220.8 208.8h0M204.4 213.8h0M206.3 206.1h0M211.2 214.0h0M200.3 200.9h0M202.7 213.0h0M230.0 189.3h0M207.2 206.0h0M201.7 208.8h0M201.5 208.2h0M198.2 210.6h0M209.5 206.8h0M206.9 209.2h0M212.2 213.3h0M210.1 206.4h0M200.7 208.7h0M251.0 208.9h0M197.6 212.2h0M197.8 205.2h0M198.1 205.2h0M211.0 200.0h0M208.0 210.9h0M234.1 213.5h0M202.2 209.2h0M212.2 207.1h0M201.7 211.5h0M209.9 198.1h0M207.2 209.5h0M201.9 210.4h0M217.9 210.3h0M198.8 213.2h0M215.2 213.9h0M216.2 195.8h0M199.0 202.7h0M219.6 212.9h0M207.9 195.5h0M200.7 207.9h0M200.2 209.1h0M203.5 213.3h0M201.4 213.0h0M199.8 209.0h0M238.5 213.5h0M205.8 200.0h0M235.0 209.1h0M200.2 212.5h0M212.5 211.0h0M205.2 210.4h0M237.7 212.9h0M237.7 213.1h0M200.9 212.6h0M197.5 200.0h0M199.4 207.0h0M212.0 190.7h0M236.4 205.0h0M237.5 208.5h0M213.3 212.3h0M197.8 213.7h0M225.9 196.7h0M201.5 204.9h0M200.6 205.1h0M203.7 204.8h0M218.4 213.3h0M201.4 210.7h0M202.5 207.9h0M197.9 214.1h0M208.7 213.5h0M197.5 208.5h0M216.7 213.2h0M197.5 212.1h0M212.7 213.0h0M202.2 208.4h0M201.0 209.2h0M230.5 193.0h0M204.1 210.4h0M204.1 203.3h0M209.7 209.1h0M209.4 210.4h0M210.9 207.2h0M198.2 210.5h0M204.6 212.0h0M207.7 213.6h0M223.9 213.7h0M201.8 207.1h0M198.3 213.8h0M198.4 212.4h0M209.9 206.8h0M202.7 209.2h0M197.9 211.1h0M203.1 210.2h0M223.6 210.6h0M200.3 213.9h0M200.0 213.7h0M205.7 204.8h0M197.9 207.4h0M207.2 208.3h0M220.5 213.3h0M205.2 211.3h0M218.9 201.4h0M197.8 205.9h0M199.2 211.6h0M197.6 201.5h0M216.2 208.5h0M210.0 198.2h0M198.6 212.8h0M202.7 208.4h0M211.0 194.1h0M204.8 208.3h0M204.7 213.8h0M201.6 203.9h0M199.8 212.4h0M204.0 211.5h0M209.4 203.1h0M199.5 202.0h0M216.9 213.2h0M207.7 207.8h0M200.3 197.5h0M198.8 204.9h0M219.7 208.2h0M226.3 206.4h0M198.2 205.4h0M205.0 213.8h0M227.2 210.2h0M247.7 187.0h0M203.7 211.2h0M205.9 206.2h0M205.3 213.3h0M200.3 213.8h0M199.4 202.7h0M218.5 212.5h0M214.5 209.9h0M198.0 212.6h0M240.2 190.7h0M202.7 214.1h0M219.6 213.9h0M201.8 181.8h0M203.3 213.6h0M211.4 212.6h0M200.9 208.2h0M206.8 201.6h0M206.5 202.9h0M221.5 209.2h0M203.2 197.3h0M229.4 199.3h0M205.0 208.9h0M208.7 212.6h0M203.1 210.9h0M216.6 212.6h0M208.0 203.6h0M197.8 183.1h0M218.0 211.4h0M208.5 211.5h0M222.7 213.9h0M200.5 214.1h0M201.1 212.0h0M201.5 211.1h0M208.3 206.3h0M197.7 211.8h0M198.0 205.9h0M208.5 211.3h0M205.6 210.9h0M203.1 204.8h0M203.6 204.0h0M202.2 211.8h0M198.8 208.2h0M203.1 207.9h0M224.3 211.0h0M200.2 209.8h0M210.0 212.1h0M202.6 207.8h0M214.9 188.2h0M217.4 211.3h0M199.6 208.3h0M200.2 210.5h0M198.1 213.2h0M201.9 209.3h0M206.9 212.9h0M214.8 213.5h0M197.7 209.0h0M198.3 213.7h0M216.1 209.3h0M201.5 186.8h0M197.7 212.2h0M217.9 208.7h0M199.0 199.8h0M202.9 202.1h0M202.7 210.4h0M213.6 213.8h0M201.1 209.8h0M206.9 210.3h0M201.8 213.5h0M210.6 202.1h0M200.1 213.5h0M217.1 210.4h0M201.0 192.9h0M202.4 210.7h0M198.9 210.8h0M197.5 209.7h0M199.7 209.9h0M230.9 211.3h0M222.9 214.1h0M198.9 212.4h0M210.7 206.8h0M221.9 204.4h0M217.9 214.3h0M198.9 209.0h0M199.8 203.3h0M219.9 210.1h0M198.4 213.4h0M225.3 207.9h0M229.9 208.0h0M201.0 212.7h0M232.9 207.1h0M278.1 203.5h0M212.4 208.4h0M198.1 201.2h0M220.6 207.7h0M207.2 214.0h0M198.0 212.7h0M204.0 213.7h0M212.2 207.0h0M201.8 208.5h0M200.1 204.2h0M201.3 199.9h0M238.2 205.5h0M218.4 213.0h0M198.0 211.9h0M203.1 213.8h0M199.7 208.6h0M202.2 206.2h0M200.2 213.5h0M218.2 205.3h0M203.1 211.7h0M199.7 207.2h0M207.5 208.0h0M200.4 209.6h0M221.6 207.6h0M238.5 208.1h0M208.9 210.6h0M216.5 205.9h0M205.6 210.5h0M215.9 210.3h0M201.7 214.1h0M211.7 208.4h0M201.1 213.4h0M202.1 209.9h0M203.4 201.0h0M206.0 209.3h0M201.0 213.3h0M198.0 213.4h0M205.3 208.1h0M213.5 211.5h0M225.5 206.6h0M202.1 198.4h0M221.4 203.5h0M206.7 211.8h0M211.3 213.5h0M204.5 209.3h0M205.9 213.0h0M209.1 208.9h0M206.5 213.0h0M202.7 204.1h0M230.0 202.6h0M213.1 196.9h0M200.2 207.2h0M198.3 209.8h0M199.0 213.7h0M208.9 213.7h0M225.5 209.3h0M199.6 207.7h0M235.3 209.9h0M221.2 210.9h0M214.1 208.2h0M205.0 210.3h0M208.1 208.1h0M239.6 212.8h0M208.5 212.0h0M231.9 196.0h0M213.7 210.0h0M226.3 200.8h0M199.4 214.2h0M201.8 207.3h0M208.4 213.5h0M198.9 213.7h0M206.3 212.4h0M198.2 198.8h0M220.0 211.8h0M215.7 208.1h0M199.0 209.7h0M201.2 213.5h0M199.2 212.8h0M208.6 210.6h0M204.3 211.9h0M204.1 214.1h0M217.3 210.2h0M223.3 214.3h0M206.3 204.7h0M198.9 209.6h0M198.1 207.3h0M234.7 212.3h0M208.1 210.9h0M199.5 210.2h0M203.4 213.7h0M211.4 211.7h0M207.6 209.1h0M198.0 183.8h0M200.9 210.4h0M211.8 202.2h0M202.5 212.8h0M209.5 212.3h0M200.1 211.4h0M222.8 209.3h0M202.7 210.1h0M204.7 207.8h0M205.1 199.6h0M198.2 213.5h0M197.8 213.7h0M207.0 209.4h0M202.0 211.0h0M201.4 204.2h0M200.8 207.0h0M198.8 213.1h0M211.7 210.7h0M216.0 202.5h0M209.1 212.0h0M201.7 198.3h0M209.0 208.3h0M199.7 206.1h0M217.3 212.0h0M198.4 212.8h0M233.3 212.4h0M210.8 209.8h0M204.8 213.8h0M232.7 207.5h0M202.4 211.0h0M216.9 213.9h0M243.0 213.1h0M201.4 204.0h0M200.9 213.1h0M202.1 212.4h0M206.7 212.9h0M206.8 196.1h0M213.3 201.7h0M210.9 209.7h0M197.5 207.9h0M198.6 211.0h0M205.0 195.0h0M206.4 212.8h0M203.4 213.8h0M218.0 198.9h0M204.0 208.6h0M222.7 210.0h0M228.6 212.7h0M205.1 200.7h0M214.2 213.1h0M207.1 207.7h0M198.1 205.5h0M224.9 213.1h0M201.8 199.2h0M206.7 210.4h0M202.4 209.8h0M198.5 209.7h0M197.9 206.8h0M201.5 213.8h0M220.9 197.5h0M228.3 213.4h0M257.1 192.1h0M206.7 209.6h0M223.3 211.9h0M205.0 208.1h0M199.7 211.4h0M200.7 210.2h0M208.0 211.4h0M199.6 201.7h0M200.8 212.2h0M213.6 213.1h0M211.6 204.2h0M200.9 206.8h0M211.8 208.8h0M208.1 213.8h0M204.4 214.0h0M204.4 204.1h0M211.0 201.3h0M204.2 199.4h0M203.9 210.9h0M198.7 209.1h0M205.6 214.0h0M199.3 206.5h0M204.6 212.3h0M208.0 213.8h0M216.9 209.4h0M206.5 213.4h0M201.8 209.7h0M204.4 206.4h0M200.0 213.0h0M207.3 211.6h0M200.8 212.4h0M215.6 202.3h0M199.1 214.0h0M205.0 208.6h0M197.9 204.8h0M203.4 212.1h0M206.3 210.0h0M209.0 212.7h0M205.4 209.1h0M210.2 211.8h0M214.0 211.6h0M212.4 210.7h0M197.6 206.0h0M198.6 203.6h0M216.5 205.4h0M205.7 206.6h0M199.9 208.6h0M207.9 207.4h0M205.7 213.0h0M199.9 208.9h0M202.4 214.1h0M198.8 203.7h0M202.2 212.2h0M197.9 205.3h0M204.7 206.8h0M223.9 209.1h0M201.4 212.4h0M209.0 210.1h0M203.5 207.3h0M252.5 212.5h0M217.4 213.7h0M231.7 205.3h0M211.6 213.5h0M216.8 213.4h0M201.3 211.4h0M205.2 211.8h0M203.8 213.5h0M201.3 210.1h0M205.0 213.9h0M207.7 214.3h0M212.9 210.1h0M204.5 211.0h0M206.7 211.5h0M210.7 214.3h0M211.4 213.4h0M197.7 205.0h0M204.0 213.7h0M238.5 207.3h0M213.4 209.5h0M202.4 213.6h0M200.4 212.1h0M216.1 208.8h0M224.9 205.6h0M209.8 209.7h0M206.4 204.5h0M218.0 211.9h0M203.5 210.3h0M230.7 210.0h0M226.2 207.1h0M207.7 212.1h0M218.5 211.0h0M248.5 209.0h0M221.8 202.2h0M203.0 211.0h0M228.6 209.6h0M215.4 213.2h0M234.7 198.2h0M200.2 203.6h0M201.5 214.0h0M225.4 208.0h0M214.2 201.0h0M198.9 213.2h0M201.5 204.4h0M205.9 202.6h0M207.4 210.2h0M201.9 213.5h0M206.5 210.6h0M205.4 208.4h0M217.6 210.3h0M201.1 211.3h0M212.9 196.8h0M211.1 210.7h0M202.8 212.1h0M208.7 211.8h0M202.3 211.1h0M205.3 213.9h0M198.9 209.7h0M205.7 209.2h0M202.4 210.0h0M219.6 195.4h0M216.8 204.7h0M199.8 206.5h0M202.1 205.9h0M197.9 208.1h0M202.3 210.6h0M212.8 207.6h0M235.7 213.8h0M206.9 208.7h0M199.0 205.1h0M202.2 212.9h0M212.3 209.1h0M201.4 212.1h0M216.6 203.8h0M200.1 210.3h0M208.5 213.4h0M212.4 206.9h0M206.3 202.3h0M199.4 210.2h0M208.2 212.7h0M205.9 207.4h0M245.8 15.1h0M215.2 113.0h0M211.1 146.5h0M245.8 180.9h0M256.2 191.5h0M261.9 196.7h0M255.0 203.8h0M258.5 208.2h0M275.8 212.6h0M283.9 211.7h0M273.5 212.6h0M231.9 185.3h0M222.7 187.0h0M238.8 198.5h0M249.2 202.9h0" stroke="#ff1c1c" stroke-width="1.95" stroke-linecap="round" fill="none"/>
</g>
<line x1="174.1" y1="4.0" x2="174.1" y2="236.0" stroke="#b0b0b0" stroke-width="0.9" stroke-dasharray="4 4"/>
<line x1="197.2" y1="4.0" x2="197.2" y2="236.0" stroke="#b0b0b0" stroke-width="0.9" stroke-dasharray="4 4"/>
<line x1="59.2" y1="214.4" x2="312.8" y2="214.4" stroke="#b0b0b0" stroke-width="0.9" stroke-dasharray="4 4"/>
<rect x="59.2" y="4.0" width="253.6" height="232.0" fill="none" stroke="#1a1a1a" stroke-width="1.15"/>
<line x1="57.2" y1="225.8" x2="59.2" y2="225.8" stroke="#333" stroke-width="0.8"/>
<text x="56.70" y="228.25" font-size="7.2" text-anchor="end" font-weight="normal" fill="#000" font-family="'Liberation Serif', serif" stroke="#000" stroke-width="0.25">0</text>
<line x1="57.2" y1="181.8" x2="59.2" y2="181.8" stroke="#333" stroke-width="0.8"/>
<text x="56.70" y="184.15" font-size="7.2" text-anchor="end" font-weight="normal" fill="#000" font-family="'Liberation Serif', serif" stroke="#000" stroke-width="0.25">5</text>
<line x1="57.2" y1="137.6" x2="59.2" y2="137.6" stroke="#333" stroke-width="0.8"/>
<text x="56.70" y="140.05" font-size="7.2" text-anchor="end" font-weight="normal" fill="#000" font-family="'Liberation Serif', serif" stroke="#000" stroke-width="0.25">10</text>
<line x1="57.2" y1="93.5" x2="59.2" y2="93.5" stroke="#333" stroke-width="0.8"/>
<text x="56.70" y="95.95" font-size="7.2" text-anchor="end" font-weight="normal" fill="#000" font-family="'Liberation Serif', serif" stroke="#000" stroke-width="0.25">15</text>
<line x1="57.2" y1="49.4" x2="59.2" y2="49.4" stroke="#333" stroke-width="0.8"/>
<text x="56.70" y="51.85" font-size="7.2" text-anchor="end" font-weight="normal" fill="#000" font-family="'Liberation Serif', serif" stroke="#000" stroke-width="0.25">20</text>
<line x1="57.2" y1="5.3" x2="59.2" y2="5.3" stroke="#333" stroke-width="0.8"/>
<text x="56.70" y="7.75" font-size="7.2" text-anchor="end" font-weight="normal" fill="#000" font-family="'Liberation Serif', serif" stroke="#000" stroke-width="0.25">25</text>
<line x1="70.2" y1="236.0" x2="70.2" y2="238.0" stroke="#333" stroke-width="0.8"/>
<text x="70.20" y="243.30" font-size="7.2" text-anchor="middle" font-weight="normal" fill="#000" font-family="'Liberation Serif', serif" stroke="#000" stroke-width="0.25">-10</text>
<line x1="127.9" y1="236.0" x2="127.9" y2="238.0" stroke="#333" stroke-width="0.8"/>
<text x="127.95" y="243.30" font-size="7.2" text-anchor="middle" font-weight="normal" fill="#000" font-family="'Liberation Serif', serif" stroke="#000" stroke-width="0.25">-5</text>
<line x1="185.7" y1="236.0" x2="185.7" y2="238.0" stroke="#333" stroke-width="0.8"/>
<text x="185.70" y="243.30" font-size="7.2" text-anchor="middle" font-weight="normal" fill="#000" font-family="'Liberation Serif', serif" stroke="#000" stroke-width="0.25">0</text>
<line x1="243.4" y1="236.0" x2="243.4" y2="238.0" stroke="#333" stroke-width="0.8"/>
<text x="243.45" y="243.30" font-size="7.2" text-anchor="middle" font-weight="normal" fill="#000" font-family="'Liberation Serif', serif" stroke="#000" stroke-width="0.25">5</text>
<line x1="301.2" y1="236.0" x2="301.2" y2="238.0" stroke="#333" stroke-width="0.8"/>
<text x="301.20" y="243.30" font-size="7.2" text-anchor="middle" font-weight="normal" fill="#000" font-family="'Liberation Serif', serif" stroke="#000" stroke-width="0.25">10</text>
<text x="185.7" y="250.5" font-size="9.9" text-anchor="middle" stroke="#000" stroke-width="0.2" font-family="'Liberation Serif', serif">log<tspan font-size="6.3" dy="1.2">2</tspan><tspan dy="-1.2"> FoldChange</tspan></text>
<text transform="translate(44.3,121) rotate(-90)" font-size="9.6" text-anchor="middle" stroke="#000" stroke-width="0.2" font-family="'Liberation Serif', serif">-log<tspan font-size="5" dy="1.5">10</tspan><tspan dy="-1.5" font-size="8.6">p-value</tspan></text>
<text x="67.00" y="11.50" font-size="5.8" text-anchor="start" font-weight="normal" fill="#000" font-family="'Liberation Serif', serif" >Down</text>
<text x="67.00" y="18.00" font-size="5.8" text-anchor="start" font-weight="normal" fill="#000" font-family="'Liberation Serif', serif" >p &lt; 0.05: 565</text>
<text x="67.00" y="24.50" font-size="5.8" text-anchor="start" font-weight="normal" fill="#000" font-family="'Liberation Serif', serif" >log2FC &lt; -1: 497</text>
<text x="67.00" y="31.00" font-size="5.8" text-anchor="start" font-weight="normal" fill="#000" font-family="'Liberation Serif', serif" >Sig. : 95</text>
<text x="263.00" y="11.50" font-size="5.8" text-anchor="start" font-weight="normal" fill="#000" font-family="'Liberation Serif', serif" >Up</text>
<text x="263.00" y="18.00" font-size="5.8" text-anchor="start" font-weight="normal" fill="#000" font-family="'Liberation Serif', serif" >p &lt; 0.05: 735</text>
<text x="263.00" y="24.50" font-size="5.8" text-anchor="start" font-weight="normal" fill="#000" font-family="'Liberation Serif', serif" >log2FC &gt; 1: 1032</text>
<text x="263.00" y="31.00" font-size="5.8" text-anchor="start" font-weight="normal" fill="#000" font-family="'Liberation Serif', serif" >Sig. : 275</text>
<circle cx="257.2" cy="49.0" r="0.9" fill="#ff1c1c"/>
<text x="264.00" y="51.00" font-size="6" text-anchor="start" font-weight="bold" fill="#000" font-family="'Liberation Serif', serif" >Significant Up</text>
<circle cx="257.2" cy="54.7" r="0.9" fill="#2a63d8"/>
<text x="264.00" y="56.70" font-size="6" text-anchor="start" font-weight="bold" fill="#000" font-family="'Liberation Serif', serif" >Significant Down</text>
<circle cx="257.2" cy="60.4" r="0.9" fill="#ea6ec0"/>
<text x="264.00" y="62.40" font-size="6" text-anchor="start" font-weight="bold" fill="#000" font-family="'Liberation Serif', serif" >Up</text>
<circle cx="257.2" cy="66.1" r="0.9" fill="#5fe0f6"/>
<text x="264.00" y="68.10" font-size="6" text-anchor="start" font-weight="bold" fill="#000" font-family="'Liberation Serif', serif" >Down</text>
<circle cx="257.2" cy="71.8" r="0.9" fill="#c3dfec"/>
<text x="264.00" y="73.80" font-size="6" text-anchor="start" font-weight="bold" fill="#000" font-family="'Liberation Serif', serif" >Non-significant</text>
<line x1="129.3" y1="167" x2="117.3" y2="186.4" stroke="#2a4fc6" stroke-width="0.5" opacity="0.8"/>
<line x1="110.3" y1="181.3" x2="118.8" y2="197" stroke="#2a4fc6" stroke-width="0.5" opacity="0.8"/>
<line x1="134.4" y1="184.7" x2="122.6" y2="195.2" stroke="#2a4fc6" stroke-width="0.5" opacity="0.8"/>
<line x1="98" y1="196" x2="104" y2="200.9" stroke="#2a4fc6" stroke-width="0.5" opacity="0.8"/>
<line x1="147.3" y1="199" x2="124.5" y2="203.1" stroke="#2a4fc6" stroke-width="0.5" opacity="0.8"/>
<line x1="108" y1="206" x2="112.2" y2="200.9" stroke="#2a4fc6" stroke-width="0.5" opacity="0.8"/>
<line x1="86" y1="226" x2="97" y2="212.2" stroke="#2a4fc6" stroke-width="0.5" opacity="0.8"/>
<line x1="119.2" y1="220" x2="120" y2="200" stroke="#2a4fc6" stroke-width="0.5" opacity="0.8"/>
<line x1="148" y1="226.5" x2="129.3" y2="211.7" stroke="#2a4fc6" stroke-width="0.5" opacity="0.8"/>
<line x1="178" y1="212" x2="181" y2="209" stroke="#2a4fc6" stroke-width="0.5" opacity="0.8"/>
<text x="133.00" y="166.20" font-size="5.6" text-anchor="middle" font-weight="bold" fill="#2a4fc6" font-family="'Liberation Serif', serif" >LOC100343047</text>
<text x="109.30" y="181.00" font-size="5.6" text-anchor="middle" font-weight="bold" fill="#2a4fc6" font-family="'Liberation Serif', serif" >GNAT3</text>
<text x="142.60" y="186.20" font-size="5.6" text-anchor="middle" font-weight="bold" fill="#2a4fc6" font-family="'Liberation Serif', serif" >TTR</text>
<text x="93.80" y="195.70" font-size="5.6" text-anchor="middle" font-weight="bold" fill="#2a4fc6" font-family="'Liberation Serif', serif" >LOC100351184</text>
<text x="156.80" y="201.00" font-size="5.6" text-anchor="middle" font-weight="bold" fill="#2a4fc6" font-family="'Liberation Serif', serif" >ADAD1</text>
<text x="104.00" y="210.50" font-size="5.6" text-anchor="middle" font-weight="bold" fill="#2a4fc6" font-family="'Liberation Serif', serif" >LOC108175902</text>
<text x="81.80" y="230.80" font-size="5.6" text-anchor="middle" font-weight="bold" fill="#2a4fc6" font-family="'Liberation Serif', serif" >SFTPD</text>
<text x="119.20" y="225.00" font-size="5.6" text-anchor="middle" font-weight="bold" fill="#2a4fc6" font-family="'Liberation Serif', serif" >KLHDC7A</text>
<text x="154.30" y="230.80" font-size="5.6" text-anchor="middle" font-weight="bold" fill="#2a4fc6" font-family="'Liberation Serif', serif" >MIXL1</text>
<text x="173.70" y="216.50" font-size="5.6" text-anchor="middle" font-weight="bold" fill="#2a4fc6" font-family="'Liberation Serif', serif" >LOC102345799</text>
<line x1="253.5" y1="162.8" x2="262.1" y2="196.6" stroke="#e02020" stroke-width="0.5" opacity="0.8"/>
<line x1="234.7" y1="174.7" x2="256.6" y2="191.1" stroke="#e02020" stroke-width="0.5" opacity="0.8"/>
<line x1="278" y1="177.4" x2="283.4" y2="212.1" stroke="#e02020" stroke-width="0.5" opacity="0.8"/>
<line x1="241.1" y1="189.3" x2="254.8" y2="203.5" stroke="#e02020" stroke-width="0.5" opacity="0.8"/>
<line x1="270.3" y1="192.9" x2="257.9" y2="207.9" stroke="#e02020" stroke-width="0.5" opacity="0.8"/>
<line x1="214" y1="204.2" x2="214" y2="204.2" stroke="#e02020" stroke-width="0.5" opacity="0.8"/>
<line x1="262" y1="204.2" x2="260.3" y2="205" stroke="#e02020" stroke-width="0.5" opacity="0.8"/>
<line x1="250" y1="217.5" x2="257.5" y2="214.8" stroke="#e02020" stroke-width="0.5" opacity="0.8"/>
<line x1="211.9" y1="228.5" x2="257.5" y2="214.8" stroke="#e02020" stroke-width="0.5" opacity="0.8"/>
<line x1="277.6" y1="224.9" x2="275.8" y2="213" stroke="#e02020" stroke-width="0.5" opacity="0.8"/>
<text x="253.00" y="161.70" font-size="5.6" text-anchor="middle" font-weight="bold" fill="#e02020" font-family="'Liberation Serif', serif" >LOC103345989</text>
<text x="224.10" y="176.70" font-size="5.6" text-anchor="middle" font-weight="bold" fill="#e02020" font-family="'Liberation Serif', serif" >MMP1</text>
<text x="278.00" y="176.30" font-size="5.6" text-anchor="middle" font-weight="bold" fill="#e02020" font-family="'Liberation Serif', serif" >LOC103347220</text>
<text x="226.50" y="191.30" font-size="5.6" text-anchor="middle" font-weight="bold" fill="#e02020" font-family="'Liberation Serif', serif" >CXCR2</text>
<text x="278.00" y="191.30" font-size="5.6" text-anchor="middle" font-weight="bold" fill="#e02020" font-family="'Liberation Serif', serif" >LOC100353374</text>
<text x="211.00" y="206.20" font-size="5.6" text-anchor="middle" font-weight="bold" fill="#e02020" font-family="'Liberation Serif', serif" >LOC103352595</text>
<text x="278.00" y="206.20" font-size="5.6" text-anchor="middle" font-weight="bold" fill="#e02020" font-family="'Liberation Serif', serif" >LOC108176170</text>
<text x="235.30" y="221.40" font-size="5.6" text-anchor="middle" font-weight="bold" fill="#e02020" font-family="'Liberation Serif', serif" >LOC100351810</text>
<text x="197.30" y="231.40" font-size="5.6" text-anchor="middle" font-weight="bold" fill="#e02020" font-family="'Liberation Serif', serif" >MMP12</text>
<text x="274.30" y="231.00" font-size="5.6" text-anchor="middle" font-weight="bold" fill="#e02020" font-family="'Liberation Serif', serif" >LOC100356529</text>
<text x="176.00" y="290.00" font-size="32.5" text-anchor="middle" font-weight="bold" fill="#000" font-family="'Liberation Serif', serif" >A</text>
<rect x="413.8" y="11.6" width="77.19" height="7" fill="#62e4f6"/>
<rect x="490.99" y="11.6" width="77.19" height="7" fill="#f2541c"/>
<rect x="413.80" y="20.90" width="26.03" height="10.89" fill="#c3cbfb"/>
<rect x="439.53" y="20.90" width="26.03" height="10.89" fill="#b0b5fb"/>
<rect x="465.26" y="20.90" width="26.03" height="10.89" fill="#3b3bf8"/>
<rect x="490.99" y="20.90" width="26.03" height="10.89" fill="#c3cbfb"/>
<rect x="516.72" y="20.90" width="26.03" height="10.89" fill="#c3cbfb"/>
<rect x="542.45" y="20.90" width="26.03" height="10.89" fill="#ff2020"/>
<rect x="413.80" y="31.48" width="26.03" height="10.89" fill="#6b78fb"/>
<rect x="439.53" y="31.48" width="26.03" height="10.89" fill="#3c3cf5"/>
<rect x="465.26" y="31.48" width="26.03" height="10.89" fill="#95a0fa"/>
<rect x="490.99" y="31.48" width="26.03" height="10.89" fill="#bcc3fb"/>
<rect x="516.72" y="31.48" width="26.03" height="10.89" fill="#f7e6ea"/>
<rect x="542.45" y="31.48" width="26.03" height="10.89" fill="#ff2020"/>
<rect x="413.80" y="42.07" width="26.03" height="10.89" fill="#6b78fb"/>
<rect x="439.53" y="42.07" width="26.03" height="10.89" fill="#3420f7"/>
<rect x="465.26" y="42.07" width="26.03" height="10.89" fill="#c5cffb"/>
<rect x="490.99" y="42.07" width="26.03" height="10.89" fill="#d3dafc"/>
<rect x="516.72" y="42.07" width="26.03" height="10.89" fill="#fff8fa"/>
<rect x="542.45" y="42.07" width="26.03" height="10.89" fill="#ff2020"/>
<rect x="413.80" y="52.66" width="26.03" height="10.89" fill="#fcf2f4"/>
<rect x="439.53" y="52.66" width="26.03" height="10.89" fill="#1a00fa"/>
<rect x="465.26" y="52.66" width="26.03" height="10.89" fill="#2a1ef5"/>
<rect x="490.99" y="52.66" width="26.03" height="10.89" fill="#f3b9c3"/>
<rect x="516.72" y="52.66" width="26.03" height="10.89" fill="#f45878"/>
<rect x="542.45" y="52.66" width="26.03" height="10.89" fill="#ff2020"/>
<rect x="413.80" y="63.24" width="26.03" height="10.89" fill="#dde2fb"/>
<rect x="439.53" y="63.24" width="26.03" height="10.89" fill="#6a78fb"/>
<rect x="465.26" y="63.24" width="26.03" height="10.89" fill="#3222f5"/>
<rect x="490.99" y="63.24" width="26.03" height="10.89" fill="#4040f5"/>
<rect x="516.72" y="63.24" width="26.03" height="10.89" fill="#ff2020"/>
<rect x="542.45" y="63.24" width="26.03" height="10.89" fill="#ff2228"/>
<rect x="413.80" y="73.83" width="26.03" height="10.89" fill="#b0b8fa"/>
<rect x="439.53" y="73.83" width="26.03" height="10.89" fill="#5462f8"/>
<rect x="465.26" y="73.83" width="26.03" height="10.89" fill="#5060f6"/>
<rect x="490.99" y="73.83" width="26.03" height="10.89" fill="#3f3ff5"/>
<rect x="516.72" y="73.83" width="26.03" height="10.89" fill="#ff2020"/>
<rect x="542.45" y="73.83" width="26.03" height="10.89" fill="#ff2228"/>
<rect x="413.80" y="84.41" width="26.03" height="10.89" fill="#f8eaee"/>
<rect x="439.53" y="84.41" width="26.03" height="10.89" fill="#3330f5"/>
<rect x="465.26" y="84.41" width="26.03" height="10.89" fill="#5e6cfa"/>
<rect x="490.99" y="84.41" width="26.03" height="10.89" fill="#3424f5"/>
<rect x="516.72" y="84.41" width="26.03" height="10.89" fill="#ff2020"/>
<rect x="542.45" y="84.41" width="26.03" height="10.89" fill="#ff2430"/>
<rect x="413.80" y="95.00" width="26.03" height="10.89" fill="#f5f5fc"/>
<rect x="439.53" y="95.00" width="26.03" height="10.89" fill="#3330f5"/>
<rect x="465.26" y="95.00" width="26.03" height="10.89" fill="#5e6cfa"/>
<rect x="490.99" y="95.00" width="26.03" height="10.89" fill="#4545f2"/>
<rect x="516.72" y="95.00" width="26.03" height="10.89" fill="#ff2020"/>
<rect x="542.45" y="95.00" width="26.03" height="10.89" fill="#ff2430"/>
<rect x="413.80" y="105.58" width="26.03" height="10.89" fill="#f4c5d0"/>
<rect x="439.53" y="105.58" width="26.03" height="10.89" fill="#3330f5"/>
<rect x="465.26" y="105.58" width="26.03" height="10.89" fill="#7480fa"/>
<rect x="490.99" y="105.58" width="26.03" height="10.89" fill="#2e10f8"/>
<rect x="516.72" y="105.58" width="26.03" height="10.89" fill="#ff2020"/>
<rect x="542.45" y="105.58" width="26.03" height="10.89" fill="#ff2430"/>
<rect x="413.80" y="116.17" width="26.03" height="10.89" fill="#f4dfe3"/>
<rect x="439.53" y="116.17" width="26.03" height="10.89" fill="#4b52f5"/>
<rect x="465.26" y="116.17" width="26.03" height="10.89" fill="#4040f5"/>
<rect x="490.99" y="116.17" width="26.03" height="10.89" fill="#3628f5"/>
<rect x="516.72" y="116.17" width="26.03" height="10.89" fill="#ff2020"/>
<rect x="542.45" y="116.17" width="26.03" height="10.89" fill="#ff2430"/>
<rect x="413.80" y="126.75" width="26.03" height="10.89" fill="#f0f0fb"/>
<rect x="439.53" y="126.75" width="26.03" height="10.89" fill="#ff2a40"/>
<rect x="465.26" y="126.75" width="26.03" height="10.89" fill="#ff2020"/>
<rect x="490.99" y="126.75" width="26.03" height="10.89" fill="#4545f5"/>
<rect x="516.72" y="126.75" width="26.03" height="10.89" fill="#3a2af5"/>
<rect x="542.45" y="126.75" width="26.03" height="10.89" fill="#5a62f8"/>
<rect x="413.80" y="137.34" width="26.03" height="10.89" fill="#eeeefb"/>
<rect x="439.53" y="137.34" width="26.03" height="10.89" fill="#f57088"/>
<rect x="465.26" y="137.34" width="26.03" height="10.89" fill="#ff2020"/>
<rect x="490.99" y="137.34" width="26.03" height="10.89" fill="#2a20f5"/>
<rect x="516.72" y="137.34" width="26.03" height="10.89" fill="#fff8fa"/>
<rect x="542.45" y="137.34" width="26.03" height="10.89" fill="#2a10f8"/>
<rect x="413.80" y="147.92" width="26.03" height="10.89" fill="#e4e8fb"/>
<rect x="439.53" y="147.92" width="26.03" height="10.89" fill="#f4c0cc"/>
<rect x="465.26" y="147.92" width="26.03" height="10.89" fill="#ff2020"/>
<rect x="490.99" y="147.92" width="26.03" height="10.89" fill="#3424f5"/>
<rect x="516.72" y="147.92" width="26.03" height="10.89" fill="#a9b0fb"/>
<rect x="542.45" y="147.92" width="26.03" height="10.89" fill="#4f58f8"/>
<rect x="413.80" y="158.51" width="26.03" height="10.89" fill="#ff2a48"/>
<rect x="439.53" y="158.51" width="26.03" height="10.89" fill="#5e6cfa"/>
<rect x="465.26" y="158.51" width="26.03" height="10.89" fill="#ff2020"/>
<rect x="490.99" y="158.51" width="26.03" height="10.89" fill="#d8dcfc"/>
<rect x="516.72" y="158.51" width="26.03" height="10.89" fill="#4f58f8"/>
<rect x="542.45" y="158.51" width="26.03" height="10.89" fill="#3525f5"/>
<rect x="413.80" y="169.09" width="26.03" height="10.89" fill="#f5d5dc"/>
<rect x="439.53" y="169.09" width="26.03" height="10.89" fill="#c7cffb"/>
<rect x="465.26" y="169.09" width="26.03" height="10.89" fill="#ff2020"/>
<rect x="490.99" y="169.09" width="26.03" height="10.89" fill="#2f22f5"/>
<rect x="516.72" y="169.09" width="26.03" height="10.89" fill="#4f58f8"/>
<rect x="542.45" y="169.09" width="26.03" height="10.89" fill="#d5dafb"/>
<rect x="413.80" y="179.68" width="26.03" height="10.89" fill="#d0d8fb"/>
<rect x="439.53" y="179.68" width="26.03" height="10.89" fill="#94a0fa"/>
<rect x="465.26" y="179.68" width="26.03" height="10.89" fill="#ff2020"/>
<rect x="490.99" y="179.68" width="26.03" height="10.89" fill="#6a78fb"/>
<rect x="516.72" y="179.68" width="26.03" height="10.89" fill="#9aa3fa"/>
<rect x="542.45" y="179.68" width="26.03" height="10.89" fill="#9aa3fa"/>
<rect x="413.80" y="190.26" width="26.03" height="10.89" fill="#eef0fb"/>
<rect x="439.53" y="190.26" width="26.03" height="10.89" fill="#94a0fa"/>
<rect x="465.26" y="190.26" width="26.03" height="10.89" fill="#ff2020"/>
<rect x="490.99" y="190.26" width="26.03" height="10.89" fill="#3a2af5"/>
<rect x="516.72" y="190.26" width="26.03" height="10.89" fill="#eeeffb"/>
<rect x="542.45" y="190.26" width="26.03" height="10.89" fill="#8e98fa"/>
<rect x="413.80" y="200.85" width="26.03" height="10.89" fill="#fcf6f8"/>
<rect x="439.53" y="200.85" width="26.03" height="10.89" fill="#ff2020"/>
<rect x="465.26" y="200.85" width="26.03" height="10.89" fill="#f56a82"/>
<rect x="490.99" y="200.85" width="26.03" height="10.89" fill="#1a00fa"/>
<rect x="516.72" y="200.85" width="26.03" height="10.89" fill="#f8f8fc"/>
<rect x="542.45" y="200.85" width="26.03" height="10.89" fill="#eeeffb"/>
<rect x="413.80" y="211.43" width="26.03" height="10.89" fill="#ff3650"/>
<rect x="439.53" y="211.43" width="26.03" height="10.89" fill="#ff2020"/>
<rect x="465.26" y="211.43" width="26.03" height="10.89" fill="#7480fa"/>
<rect x="490.99" y="211.43" width="26.03" height="10.89" fill="#b7bffb"/>
<rect x="516.72" y="211.43" width="26.03" height="10.89" fill="#7a86fa"/>
<rect x="542.45" y="211.43" width="26.03" height="10.89" fill="#2a10f8"/>
<rect x="413.80" y="222.02" width="26.03" height="10.89" fill="#ff2a40"/>
<rect x="439.53" y="222.02" width="26.03" height="10.89" fill="#ff2020"/>
<rect x="465.26" y="222.02" width="26.03" height="10.89" fill="#7480fa"/>
<rect x="490.99" y="222.02" width="26.03" height="10.89" fill="#6068f8"/>
<rect x="516.72" y="222.02" width="26.03" height="10.89" fill="#1a00fa"/>
<rect x="542.45" y="222.02" width="26.03" height="10.89" fill="#fff8fa"/>
<text transform="translate(570.30,15.90) scale(0.97,1)" font-size="10.0" text-anchor="start" font-weight="bold" fill="#000" font-family="'Liberation Serif', serif" >Group</text>
<text transform="translate(570.40,29.30) scale(0.92,1)" font-size="11.2" text-anchor="start" font-weight="bold" fill="#000" font-family="'Liberation Serif', serif" >LOC100357329</text>
<text transform="translate(570.40,39.91) scale(0.92,1)" font-size="11.2" text-anchor="start" font-weight="bold" fill="#000" font-family="'Liberation Serif', serif" >RPS29</text>
<text transform="translate(570.40,50.51) scale(0.92,1)" font-size="11.2" text-anchor="start" font-weight="bold" fill="#000" font-family="'Liberation Serif', serif" >LOC108178831</text>
<text transform="translate(570.40,61.12) scale(0.92,1)" font-size="11.2" text-anchor="start" font-weight="bold" fill="#000" font-family="'Liberation Serif', serif" >TMEM256</text>
<text transform="translate(570.40,71.72) scale(0.92,1)" font-size="11.2" text-anchor="start" font-weight="bold" fill="#000" font-family="'Liberation Serif', serif" >C1QC</text>
<text transform="translate(570.40,82.33) scale(0.92,1)" font-size="11.2" text-anchor="start" font-weight="bold" fill="#000" font-family="'Liberation Serif', serif" >LGALS3</text>
<text transform="translate(570.40,92.93) scale(0.92,1)" font-size="11.2" text-anchor="start" font-weight="bold" fill="#000" font-family="'Liberation Serif', serif" >JCHAIN</text>
<text transform="translate(570.40,103.53) scale(0.92,1)" font-size="11.2" text-anchor="start" font-weight="bold" fill="#000" font-family="'Liberation Serif', serif" >LOC108178662</text>
<text transform="translate(570.40,114.14) scale(0.92,1)" font-size="11.2" text-anchor="start" font-weight="bold" fill="#000" font-family="'Liberation Serif', serif" >LOC100009097</text>
<text transform="translate(570.40,124.75) scale(0.92,1)" font-size="11.2" text-anchor="start" font-weight="bold" fill="#000" font-family="'Liberation Serif', serif" >SAA3</text>
<text transform="translate(570.40,135.35) scale(0.92,1)" font-size="11.2" text-anchor="start" font-weight="bold" fill="#000" font-family="'Liberation Serif', serif" >LOC103346701</text>
<text transform="translate(570.40,145.96) scale(0.92,1)" font-size="11.2" text-anchor="start" font-weight="bold" fill="#000" font-family="'Liberation Serif', serif" >SPA17</text>
<text transform="translate(570.40,156.56) scale(0.92,1)" font-size="11.2" text-anchor="start" font-weight="bold" fill="#000" font-family="'Liberation Serif', serif" >DYDC2</text>
<text transform="translate(570.40,167.17) scale(0.92,1)" font-size="11.2" text-anchor="start" font-weight="bold" fill="#000" font-family="'Liberation Serif', serif" >TTR</text>
<text transform="translate(570.40,177.77) scale(0.92,1)" font-size="11.2" text-anchor="start" font-weight="bold" fill="#000" font-family="'Liberation Serif', serif" >KCNJ13</text>
<text transform="translate(570.40,188.38) scale(0.92,1)" font-size="11.2" text-anchor="start" font-weight="bold" fill="#000" font-family="'Liberation Serif', serif" >ACVRL1</text>
<text transform="translate(570.40,198.98) scale(0.92,1)" font-size="11.2" text-anchor="start" font-weight="bold" fill="#000" font-family="'Liberation Serif', serif" >PRLR</text>
<text transform="translate(570.40,209.59) scale(0.92,1)" font-size="11.2" text-anchor="start" font-weight="bold" fill="#000" font-family="'Liberation Serif', serif" >C19H17orf97</text>
<text transform="translate(570.40,220.19) scale(0.92,1)" font-size="11.2" text-anchor="start" font-weight="bold" fill="#000" font-family="'Liberation Serif', serif" >LOC103348580</text>
<text transform="translate(570.40,230.80) scale(0.92,1)" font-size="11.2" text-anchor="start" font-weight="bold" fill="#000" font-family="'Liberation Serif', serif" >LOC103351004</text>
<text transform="translate(423.5,235.3) rotate(90)" font-size="11.2" font-weight="bold" font-family="'Liberation Serif', serif">Co1</text>
<text transform="translate(449.2,235.3) rotate(90)" font-size="11.2" font-weight="bold" font-family="'Liberation Serif', serif">Co2</text>
<text transform="translate(474.9,235.3) rotate(90)" font-size="11.2" font-weight="bold" font-family="'Liberation Serif', serif">Co3</text>
<text transform="translate(500.7,235.3) rotate(90)" font-size="11.2" font-weight="bold" font-family="'Liberation Serif', serif">Re1</text>
<text transform="translate(526.4,235.3) rotate(90)" font-size="11.2" font-weight="bold" font-family="'Liberation Serif', serif">Re2</text>
<text transform="translate(552.1,235.3) rotate(90)" font-size="11.2" font-weight="bold" font-family="'Liberation Serif', serif">Re3</text>
<path d="M413.3 36.8H411.7V47.4H413.3M413.3 26.2H406.7V41.7H411.7M413.3 68.5H411.5V79.1H413.3M413.3 89.7H411.7V100.3H413.3M413.3 110.9H410.8V121.5H413.3M411.7 95.1H409.0V116.2H410.8M411.5 73.5H407.5V105.1H409.0M413.3 57.9H400.4V89.1H407.5M406.7 33.7H397.3V73.5H400.4M413.3 142.6H408.9V153.2H413.3M413.3 132.0H405.4V148.0H408.9M413.3 185.0H410.3V195.6H413.3M413.3 174.4H408.5V190.4H410.3M413.3 163.8H402.9V182.0H408.5M405.4 140.2H399.1V173.2H402.9M413.3 216.7H402.3V227.3H413.3M413.3 206.1H396.3V222.2H402.3M399.1 156.5H386.2V214.4H396.3M397.3 53.7H380.0V185.2H386.2" fill="none" stroke="#444" stroke-width="1"/>
<defs><linearGradient id="hg" x1="0" y1="0" x2="0" y2="1"><stop offset="0" stop-color="#ff2020"/><stop offset="0.31" stop-color="#ff2428"/><stop offset="0.39" stop-color="#e8607a"/><stop offset="0.46" stop-color="#f2dce4"/><stop offset="0.5" stop-color="#fbf8fb"/><stop offset="0.56" stop-color="#d4d8fa"/><stop offset="0.67" stop-color="#6a70f8"/><stop offset="0.8" stop-color="#2a20f8"/><stop offset="1" stop-color="#1200fa"/></linearGradient></defs>
<rect x="643.5" y="10.9" width="6.4" height="105.4" fill="url(#hg)"/>
<rect x="643.5" y="13.7" width="6.4" height="0.9" fill="#ff8c8c"/>
<text x="652.80" y="15.70" font-size="8.2" text-anchor="start" font-weight="bold" fill="#000" font-family="'Liberation Serif', serif" >2</text>
<text x="652.80" y="27.90" font-size="8.2" text-anchor="start" font-weight="bold" fill="#000" font-family="'Liberation Serif', serif" >1</text>
<text x="652.80" y="56.20" font-size="8.2" text-anchor="start" font-weight="bold" fill="#000" font-family="'Liberation Serif', serif" >0-</text>
<text x="652.80" y="85.10" font-size="8.2" text-anchor="start" font-weight="bold" fill="#000" font-family="'Liberation Serif', serif" >1-</text>
<text x="652.80" y="113.60" font-size="8.2" text-anchor="start" font-weight="bold" fill="#000" font-family="'Liberation Serif', serif" >2</text>
<text x="659.20" y="14.00" font-size="9.5" text-anchor="start" font-weight="bold" fill="#000" font-family="'Liberation Serif', serif" >Group</text>
<rect x="660" y="18.1" width="9" height="9.8" fill="#62e4f6"/>
<rect x="660" y="27.9" width="9" height="9.7" fill="#f2541c"/>
<text x="670.60" y="26.20" font-size="7.4" text-anchor="start" font-weight="bold" fill="#000" font-family="'Liberation Serif', serif" >Co</text>
<text x="670.60" y="36.40" font-size="7.4" text-anchor="start" font-weight="bold" fill="#000" font-family="'Liberation Serif', serif" >Re</text>
<text x="521.50" y="283.40" font-size="32.5" text-anchor="middle" font-weight="bold" fill="#000" font-family="'Liberation Serif', serif" >B</text>
<rect x="170.2" y="313.44" width="20.00" height="4.0" fill="#26631a"/>
<line x1="168.7" y1="315.44" x2="170.2" y2="315.44" stroke="#333" stroke-width="0.5"/>
<text transform="translate(167.70,317.13) scale(1.32,1)" font-size="5.4" text-anchor="end" font-weight="normal" fill="#000" font-family="'Liberation Serif', serif" stroke="#000" stroke-width="0.16">NAD biosynthetic process</text>
<rect x="170.2" y="320.61" width="20.80" height="4.0" fill="#26631a"/>
<line x1="168.7" y1="322.61" x2="170.2" y2="322.61" stroke="#333" stroke-width="0.5"/>
<text transform="translate(167.70,324.31) scale(1.32,1)" font-size="5.4" text-anchor="end" font-weight="normal" fill="#000" font-family="'Liberation Serif', serif" stroke="#000" stroke-width="0.16">Superoxide metabolic process</text>
<rect x="170.2" y="327.77" width="20.60" height="4.0" fill="#26631a"/>
<line x1="168.7" y1="329.77" x2="170.2" y2="329.77" stroke="#333" stroke-width="0.5"/>
<text transform="translate(167.70,328.88) scale(1.32,1)" font-size="5.4" text-anchor="end" font-weight="normal" fill="#000" font-family="'Liberation Serif', serif" stroke="#000" stroke-width="0.16">Negative regulation of tumor necrosis</text>
<text transform="translate(166.20,332.57) scale(1.32,1)" font-size="5.4" text-anchor="end" font-weight="normal" fill="#000" font-family="'Liberation Serif', serif" stroke="#000" stroke-width="0.16">factor production</text>
<rect x="170.2" y="334.94" width="21.40" height="4.0" fill="#26631a"/>
<line x1="168.7" y1="336.94" x2="170.2" y2="336.94" stroke="#333" stroke-width="0.5"/>
<text transform="translate(167.70,338.64) scale(1.32,1)" font-size="5.4" text-anchor="end" font-weight="normal" fill="#000" font-family="'Liberation Serif', serif" stroke="#000" stroke-width="0.16">Complement activation, classical pathway</text>
<rect x="170.2" y="342.12" width="21.60" height="4.0" fill="#26631a"/>
<line x1="168.7" y1="344.12" x2="170.2" y2="344.12" stroke="#333" stroke-width="0.5"/>
<text transform="translate(167.70,345.81) scale(1.32,1)" font-size="5.4" text-anchor="end" font-weight="normal" fill="#000" font-family="'Liberation Serif', serif" stroke="#000" stroke-width="0.16">Regulation of complement activation</text>
<rect x="170.2" y="349.29" width="22.50" height="4.0" fill="#26631a"/>
<line x1="168.7" y1="351.29" x2="170.2" y2="351.29" stroke="#333" stroke-width="0.5"/>
<text transform="translate(167.70,352.99) scale(1.32,1)" font-size="5.4" text-anchor="end" font-weight="normal" fill="#000" font-family="'Liberation Serif', serif" stroke="#000" stroke-width="0.16">Innate immune response</text>
<rect x="170.2" y="356.45" width="25.50" height="4.0" fill="#26631a"/>
<line x1="168.7" y1="358.45" x2="170.2" y2="358.45" stroke="#333" stroke-width="0.5"/>
<text transform="translate(167.70,360.15) scale(1.32,1)" font-size="5.4" text-anchor="end" font-weight="normal" fill="#000" font-family="'Liberation Serif', serif" stroke="#000" stroke-width="0.16">Chemotaxis</text>
<rect x="170.2" y="363.62" width="49.80" height="4.0" fill="#26631a"/>
<line x1="168.7" y1="365.62" x2="170.2" y2="365.62" stroke="#333" stroke-width="0.5"/>
<text transform="translate(167.70,367.32) scale(1.32,1)" font-size="5.4" text-anchor="end" font-weight="normal" fill="#000" font-family="'Liberation Serif', serif" stroke="#000" stroke-width="0.16">Adaptive immune response</text>
<rect x="170.2" y="370.80" width="52.30" height="4.0" fill="#26631a"/>
<line x1="168.7" y1="372.80" x2="170.2" y2="372.80" stroke="#333" stroke-width="0.5"/>
<text transform="translate(167.70,374.50) scale(1.32,1)" font-size="5.4" text-anchor="end" font-weight="normal" fill="#000" font-family="'Liberation Serif', serif" stroke="#000" stroke-width="0.16">Regulation of immune response</text>
<rect x="170.2" y="377.97" width="112.50" height="4.0" fill="#26631a"/>
<line x1="168.7" y1="379.97" x2="170.2" y2="379.97" stroke="#333" stroke-width="0.5"/>
<text transform="translate(167.70,381.67) scale(1.32,1)" font-size="5.4" text-anchor="end" font-weight="normal" fill="#000" font-family="'Liberation Serif', serif" stroke="#000" stroke-width="0.16">Immune response</text>
<rect x="170.2" y="312.7" width="123.1" height="70.0" fill="none" stroke="#777" stroke-width="0.9"/>
<rect x="293.6" y="312.9" width="9.6" height="69.6" fill="#26631a"/>
<text transform="translate(296.5,327.2) rotate(90)" font-size="5.6" textLength="31.4" lengthAdjust="spacingAndGlyphs" fill="#111" font-family="'Liberation Serif', serif">Biological Process</text>
<rect x="170.2" y="383.58" width="14.70" height="4.0" fill="#ff2a14"/>
<line x1="168.7" y1="385.58" x2="170.2" y2="385.58" stroke="#333" stroke-width="0.5"/>
<text transform="translate(167.70,387.28) scale(1.32,1)" font-size="5.4" text-anchor="end" font-weight="normal" fill="#000" font-family="'Liberation Serif', serif" stroke="#000" stroke-width="0.16">NADPH oxidase complex</text>
<rect x="170.2" y="390.75" width="15.70" height="4.0" fill="#ff2a14"/>
<line x1="168.7" y1="392.75" x2="170.2" y2="392.75" stroke="#333" stroke-width="0.5"/>
<text transform="translate(167.70,394.45) scale(1.32,1)" font-size="5.4" text-anchor="end" font-weight="normal" fill="#000" font-family="'Liberation Serif', serif" stroke="#000" stroke-width="0.16">Cytosolic small ribosomal subunit</text>
<rect x="170.2" y="397.92" width="16.60" height="4.0" fill="#ff2a14"/>
<line x1="168.7" y1="399.92" x2="170.2" y2="399.92" stroke="#333" stroke-width="0.5"/>
<text transform="translate(167.70,401.62) scale(1.32,1)" font-size="5.4" text-anchor="end" font-weight="normal" fill="#000" font-family="'Liberation Serif', serif" stroke="#000" stroke-width="0.16">MHC class II protein complex</text>
<rect x="170.2" y="405.09" width="17.60" height="4.0" fill="#ff2a14"/>
<line x1="168.7" y1="407.09" x2="170.2" y2="407.09" stroke="#333" stroke-width="0.5"/>
<text transform="translate(167.70,408.79) scale(1.32,1)" font-size="5.4" text-anchor="end" font-weight="normal" fill="#000" font-family="'Liberation Serif', serif" stroke="#000" stroke-width="0.16">Basolateral plasma membrane</text>
<rect x="170.2" y="412.26" width="20.00" height="4.0" fill="#ff2a14"/>
<line x1="168.7" y1="414.26" x2="170.2" y2="414.26" stroke="#333" stroke-width="0.5"/>
<text transform="translate(167.70,415.96) scale(1.32,1)" font-size="5.4" text-anchor="end" font-weight="normal" fill="#000" font-family="'Liberation Serif', serif" stroke="#000" stroke-width="0.16">Extracellular exosome</text>
<rect x="170.2" y="419.44" width="27.60" height="4.0" fill="#ff2a14"/>
<line x1="168.7" y1="421.44" x2="170.2" y2="421.44" stroke="#333" stroke-width="0.5"/>
<text transform="translate(167.70,423.13) scale(1.32,1)" font-size="5.4" text-anchor="end" font-weight="normal" fill="#000" font-family="'Liberation Serif', serif" stroke="#000" stroke-width="0.16">Integral component of membrane</text>
<rect x="170.2" y="426.60" width="28.00" height="4.0" fill="#ff2a14"/>
<line x1="168.7" y1="428.60" x2="170.2" y2="428.60" stroke="#333" stroke-width="0.5"/>
<text transform="translate(167.70,430.30) scale(1.32,1)" font-size="5.4" text-anchor="end" font-weight="normal" fill="#000" font-family="'Liberation Serif', serif" stroke="#000" stroke-width="0.16">Immunological synapse</text>
<rect x="170.2" y="433.77" width="28.60" height="4.0" fill="#ff2a14"/>
<line x1="168.7" y1="435.77" x2="170.2" y2="435.77" stroke="#333" stroke-width="0.5"/>
<text transform="translate(167.70,437.47) scale(1.32,1)" font-size="5.4" text-anchor="end" font-weight="normal" fill="#000" font-family="'Liberation Serif', serif" stroke="#000" stroke-width="0.16">Plasma membrane</text>
<rect x="170.2" y="440.94" width="38.80" height="4.0" fill="#ff2a14"/>
<line x1="168.7" y1="442.94" x2="170.2" y2="442.94" stroke="#333" stroke-width="0.5"/>
<text transform="translate(167.70,444.64) scale(1.32,1)" font-size="5.4" text-anchor="end" font-weight="normal" fill="#000" font-family="'Liberation Serif', serif" stroke="#000" stroke-width="0.16">Cell surface</text>
<rect x="170.2" y="448.12" width="58.80" height="4.0" fill="#ff2a14"/>
<line x1="168.7" y1="450.12" x2="170.2" y2="450.12" stroke="#333" stroke-width="0.5"/>
<text transform="translate(167.70,451.81) scale(1.32,1)" font-size="5.4" text-anchor="end" font-weight="normal" fill="#000" font-family="'Liberation Serif', serif" stroke="#000" stroke-width="0.16">External side of plasma membrane</text>
<rect x="170.2" y="383.2" width="123.1" height="69.3" fill="none" stroke="#777" stroke-width="0.9"/>
<rect x="293.6" y="383.4" width="9.6" height="68.9" fill="#ff2a14"/>
<text transform="translate(296.5,400.4) rotate(90)" font-size="5.6" textLength="38.0" lengthAdjust="spacingAndGlyphs" fill="#111" font-family="'Liberation Serif', serif">Cellular Component</text>
<rect x="170.2" y="453.58" width="15.10" height="4.0" fill="#3d5cf6"/>
<line x1="168.7" y1="455.58" x2="170.2" y2="455.58" stroke="#333" stroke-width="0.5"/>
<text transform="translate(167.70,457.28) scale(1.32,1)" font-size="5.4" text-anchor="end" font-weight="normal" fill="#000" font-family="'Liberation Serif', serif" stroke="#000" stroke-width="0.16">C−X−C chemokine receptor activity</text>
<rect x="170.2" y="460.75" width="15.10" height="4.0" fill="#3d5cf6"/>
<line x1="168.7" y1="462.75" x2="170.2" y2="462.75" stroke="#333" stroke-width="0.5"/>
<text transform="translate(167.70,461.86) scale(1.32,1)" font-size="5.4" text-anchor="end" font-weight="normal" fill="#000" font-family="'Liberation Serif', serif" stroke="#000" stroke-width="0.16">Superoxide−generating NADPH oxidase</text>
<text transform="translate(166.20,465.56) scale(1.32,1)" font-size="5.4" text-anchor="end" font-weight="normal" fill="#000" font-family="'Liberation Serif', serif" stroke="#000" stroke-width="0.16">activator activity</text>
<rect x="170.2" y="467.92" width="18.50" height="4.0" fill="#3d5cf6"/>
<line x1="168.7" y1="469.92" x2="170.2" y2="469.92" stroke="#333" stroke-width="0.5"/>
<text transform="translate(167.70,471.62) scale(1.32,1)" font-size="5.4" text-anchor="end" font-weight="normal" fill="#000" font-family="'Liberation Serif', serif" stroke="#000" stroke-width="0.16">C−C chemokine binding</text>
<rect x="170.2" y="475.09" width="18.50" height="4.0" fill="#3d5cf6"/>
<line x1="168.7" y1="477.09" x2="170.2" y2="477.09" stroke="#333" stroke-width="0.5"/>
<text transform="translate(167.70,478.79) scale(1.32,1)" font-size="5.4" text-anchor="end" font-weight="normal" fill="#000" font-family="'Liberation Serif', serif" stroke="#000" stroke-width="0.16">Chemokine binding</text>
<rect x="170.2" y="482.26" width="19.80" height="4.0" fill="#3d5cf6"/>
<line x1="168.7" y1="484.26" x2="170.2" y2="484.26" stroke="#333" stroke-width="0.5"/>
<text transform="translate(167.70,485.96) scale(1.32,1)" font-size="5.4" text-anchor="end" font-weight="normal" fill="#000" font-family="'Liberation Serif', serif" stroke="#000" stroke-width="0.16">MHC class II protein complex binding</text>
<rect x="170.2" y="489.44" width="21.90" height="4.0" fill="#3d5cf6"/>
<line x1="168.7" y1="491.44" x2="170.2" y2="491.44" stroke="#333" stroke-width="0.5"/>
<text transform="translate(167.70,493.13) scale(1.32,1)" font-size="5.4" text-anchor="end" font-weight="normal" fill="#000" font-family="'Liberation Serif', serif" stroke="#000" stroke-width="0.16">Signaling receptor activity</text>
<rect x="170.2" y="496.60" width="23.60" height="4.0" fill="#3d5cf6"/>
<line x1="168.7" y1="498.60" x2="170.2" y2="498.60" stroke="#333" stroke-width="0.5"/>
<text transform="translate(167.70,500.30) scale(1.32,1)" font-size="5.4" text-anchor="end" font-weight="normal" fill="#000" font-family="'Liberation Serif', serif" stroke="#000" stroke-width="0.16">Immunoglobulin receptor binding</text>
<rect x="170.2" y="503.77" width="23.60" height="4.0" fill="#3d5cf6"/>
<line x1="168.7" y1="505.77" x2="170.2" y2="505.77" stroke="#333" stroke-width="0.5"/>
<text transform="translate(167.70,507.47) scale(1.32,1)" font-size="5.4" text-anchor="end" font-weight="normal" fill="#000" font-family="'Liberation Serif', serif" stroke="#000" stroke-width="0.16">Folic acid binding</text>
<rect x="170.2" y="510.94" width="26.10" height="4.0" fill="#3d5cf6"/>
<line x1="168.7" y1="512.94" x2="170.2" y2="512.94" stroke="#333" stroke-width="0.5"/>
<text transform="translate(167.70,514.64) scale(1.32,1)" font-size="5.4" text-anchor="end" font-weight="normal" fill="#000" font-family="'Liberation Serif', serif" stroke="#000" stroke-width="0.16">C−C chemokine receptor activity</text>
<rect x="170.2" y="518.12" width="43.20" height="4.0" fill="#3d5cf6"/>
<line x1="168.7" y1="520.12" x2="170.2" y2="520.12" stroke="#333" stroke-width="0.5"/>
<text transform="translate(167.70,521.82) scale(1.32,1)" font-size="5.4" text-anchor="end" font-weight="normal" fill="#000" font-family="'Liberation Serif', serif" stroke="#000" stroke-width="0.16">Antigen binding</text>
<rect x="170.2" y="453.3" width="123.1" height="69.1" fill="none" stroke="#777" stroke-width="0.9"/>
<rect x="293.6" y="453.5" width="9.6" height="68.7" fill="#3d5cf6"/>
<text transform="translate(296.5,471.0) rotate(90)" font-size="5.6" textLength="32.7" lengthAdjust="spacingAndGlyphs" fill="#111" font-family="'Liberation Serif', serif">Molecular Function</text>
<line x1="170.2" y1="522.4" x2="170.2" y2="524" stroke="#333" stroke-width="0.5"/>
<text transform="translate(170.20,526.70) scale(1.3,1)" font-size="5.6" text-anchor="middle" font-weight="bold" fill="#000" font-family="'Liberation Serif', serif" >0</text>
<line x1="201.0" y1="522.4" x2="201.0" y2="524" stroke="#333" stroke-width="0.5"/>
<text transform="translate(201.00,526.70) scale(1.3,1)" font-size="5.6" text-anchor="middle" font-weight="bold" fill="#000" font-family="'Liberation Serif', serif" >5</text>
<line x1="231.8" y1="522.4" x2="231.8" y2="524" stroke="#333" stroke-width="0.5"/>
<text transform="translate(231.80,526.70) scale(1.3,1)" font-size="5.6" text-anchor="middle" font-weight="bold" fill="#000" font-family="'Liberation Serif', serif" >10</text>
<line x1="262.6" y1="522.4" x2="262.6" y2="524" stroke="#333" stroke-width="0.5"/>
<text transform="translate(262.60,526.70) scale(1.3,1)" font-size="5.6" text-anchor="middle" font-weight="bold" fill="#000" font-family="'Liberation Serif', serif" >15</text>
<line x1="293.4" y1="522.4" x2="293.4" y2="524" stroke="#333" stroke-width="0.5"/>
<text transform="translate(293.40,526.70) scale(1.3,1)" font-size="5.6" text-anchor="middle" font-weight="bold" fill="#000" font-family="'Liberation Serif', serif" >20</text>
<text transform="translate(233.0,533.0) scale(1.32,1)" font-size="7" text-anchor="middle" font-weight="bold" font-family="'Liberation Serif', serif">−log<tspan font-size="5" dy="1.5">10</tspan><tspan dy="-1.5"> P−value</tspan></text>
<text transform="translate(232.50,311.30) scale(1.42,1)" font-size="6.6" text-anchor="middle" font-weight="bold" fill="#000" font-family="'Liberation Serif', serif" >The top GO Term (Re vs Co)</text>
<text x="175.50" y="577.50" font-size="33" text-anchor="middle" font-weight="bold" fill="#000" font-family="'Liberation Serif', serif" >C</text>
<rect x="485.9" y="316.4" width="127.3" height="85.6" fill="#fff"/>
<line x1="498.63" y1="316.4" x2="498.63" y2="402.0" stroke="#dedede" stroke-width="0.6"/>
<line x1="511.36" y1="316.4" x2="511.36" y2="402.0" stroke="#bcbcbc" stroke-width="0.8"/>
<line x1="524.09" y1="316.4" x2="524.09" y2="402.0" stroke="#dedede" stroke-width="0.6"/>
<line x1="536.82" y1="316.4" x2="536.82" y2="402.0" stroke="#bcbcbc" stroke-width="0.8"/>
<line x1="549.55" y1="316.4" x2="549.55" y2="402.0" stroke="#dedede" stroke-width="0.6"/>
<line x1="562.28" y1="316.4" x2="562.28" y2="402.0" stroke="#bcbcbc" stroke-width="0.8"/>
<line x1="575.01" y1="316.4" x2="575.01" y2="402.0" stroke="#dedede" stroke-width="0.6"/>
<line x1="587.74" y1="316.4" x2="587.74" y2="402.0" stroke="#bcbcbc" stroke-width="0.8"/>
<line x1="600.47" y1="316.4" x2="600.47" y2="402.0" stroke="#dedede" stroke-width="0.6"/>
<line x1="485.9" y1="319.9" x2="613.2" y2="319.9" stroke="#c4c4c4" stroke-width="0.6"/>
<line x1="485.9" y1="331.2" x2="613.2" y2="331.2" stroke="#c4c4c4" stroke-width="0.6"/>
<line x1="485.9" y1="342.6" x2="613.2" y2="342.6" stroke="#c4c4c4" stroke-width="0.6"/>
<line x1="485.9" y1="353.9" x2="613.2" y2="353.9" stroke="#c4c4c4" stroke-width="0.6"/>
<line x1="485.9" y1="365.0" x2="613.2" y2="365.0" stroke="#c4c4c4" stroke-width="0.6"/>
<line x1="485.9" y1="376.1" x2="613.2" y2="376.1" stroke="#c4c4c4" stroke-width="0.6"/>
<line x1="485.9" y1="387.4" x2="613.2" y2="387.4" stroke="#c4c4c4" stroke-width="0.6"/>
<line x1="485.9" y1="398.6" x2="613.2" y2="398.6" stroke="#c4c4c4" stroke-width="0.6"/>
<rect x="485.9" y="316.4" width="127.3" height="85.6" fill="none" stroke="#444" stroke-width="0.9"/>
<rect x="485.9" y="404.6" width="127.3" height="107.2" fill="#fff"/>
<line x1="498.63" y1="404.6" x2="498.63" y2="511.8" stroke="#dedede" stroke-width="0.6"/>
<line x1="511.36" y1="404.6" x2="511.36" y2="511.8" stroke="#bcbcbc" stroke-width="0.8"/>
<line x1="524.09" y1="404.6" x2="524.09" y2="511.8" stroke="#dedede" stroke-width="0.6"/>
<line x1="536.82" y1="404.6" x2="536.82" y2="511.8" stroke="#bcbcbc" stroke-width="0.8"/>
<line x1="549.55" y1="404.6" x2="549.55" y2="511.8" stroke="#dedede" stroke-width="0.6"/>
<line x1="562.28" y1="404.6" x2="562.28" y2="511.8" stroke="#bcbcbc" stroke-width="0.8"/>
<line x1="575.01" y1="404.6" x2="575.01" y2="511.8" stroke="#dedede" stroke-width="0.6"/>
<line x1="587.74" y1="404.6" x2="587.74" y2="511.8" stroke="#bcbcbc" stroke-width="0.8"/>
<line x1="600.47" y1="404.6" x2="600.47" y2="511.8" stroke="#dedede" stroke-width="0.6"/>
<line x1="485.9" y1="409.5" x2="613.2" y2="409.5" stroke="#c4c4c4" stroke-width="0.6"/>
<line x1="485.9" y1="420.4" x2="613.2" y2="420.4" stroke="#c4c4c4" stroke-width="0.6"/>
<line x1="485.9" y1="431.3" x2="613.2" y2="431.3" stroke="#c4c4c4" stroke-width="0.6"/>
<line x1="485.9" y1="442.3" x2="613.2" y2="442.3" stroke="#c4c4c4" stroke-width="0.6"/>
<line x1="485.9" y1="453.2" x2="613.2" y2="453.2" stroke="#c4c4c4" stroke-width="0.6"/>
<line x1="485.9" y1="464.1" x2="613.2" y2="464.1" stroke="#c4c4c4" stroke-width="0.6"/>
<line x1="485.9" y1="475.1" x2="613.2" y2="475.1" stroke="#c4c4c4" stroke-width="0.6"/>
<line x1="485.9" y1="485.9" x2="613.2" y2="485.9" stroke="#c4c4c4" stroke-width="0.6"/>
<line x1="485.9" y1="496.9" x2="613.2" y2="496.9" stroke="#c4c4c4" stroke-width="0.6"/>
<line x1="485.9" y1="507.8" x2="613.2" y2="507.8" stroke="#c4c4c4" stroke-width="0.6"/>
<rect x="485.9" y="404.6" width="127.3" height="107.2" fill="none" stroke="#444" stroke-width="0.9"/>
<ellipse cx="548.28" cy="319.9" rx="1.60" ry="1.12" fill="#ff2020"/>
<ellipse cx="533.00" cy="331.2" rx="1.60" ry="1.12" fill="#44ee22"/>
<ellipse cx="530.77" cy="342.6" rx="1.60" ry="1.12" fill="#ff2020"/>
<ellipse cx="525.36" cy="353.9" rx="1.60" ry="1.12" fill="#ff2020"/>
<ellipse cx="523.64" cy="365.0" rx="1.60" ry="1.12" fill="#ff2020"/>
<ellipse cx="521.73" cy="376.1" rx="1.50" ry="1.05" fill="#2a20ff"/>
<ellipse cx="516.96" cy="387.4" rx="1.60" ry="1.12" fill="#2a20ff"/>
<ellipse cx="514.10" cy="398.6" rx="1.60" ry="1.12" fill="#ff2020"/>
<ellipse cx="577.87" cy="409.5" rx="1.85" ry="1.39" fill="#ff2020"/>
<ellipse cx="575.65" cy="420.4" rx="1.80" ry="1.35" fill="#ff2020"/>
<ellipse cx="559.48" cy="431.3" rx="2.20" ry="1.65" fill="#ff2020"/>
<ellipse cx="556.87" cy="442.3" rx="1.90" ry="1.42" fill="#ff2020"/>
<ellipse cx="543.31" cy="453.2" rx="2.00" ry="1.50" fill="#ff2020"/>
<ellipse cx="534.02" cy="464.1" rx="2.10" ry="1.58" fill="#ff2020"/>
<ellipse cx="531.92" cy="475.1" rx="1.90" ry="1.42" fill="#ff2020"/>
<ellipse cx="522.63" cy="485.9" rx="2.10" ry="1.58" fill="#ff2020"/>
<ellipse cx="515.31" cy="496.9" rx="2.20" ry="1.65" fill="#ff2020"/>
<ellipse cx="510.41" cy="507.8" rx="2.30" ry="1.72" fill="#ff2020"/>
<line x1="484.4" y1="319.9" x2="485.9" y2="319.9" stroke="#444" stroke-width="0.5"/>
<text transform="translate(482.40,321.50) scale(1.125,1)" font-size="5.3" text-anchor="end" font-weight="bold" fill="#000" font-family="'Liberation Serif', serif" >Malaria</text>
<line x1="484.4" y1="331.2" x2="485.9" y2="331.2" stroke="#444" stroke-width="0.5"/>
<text transform="translate(482.40,332.80) scale(1.125,1)" font-size="5.3" text-anchor="end" font-weight="bold" fill="#000" font-family="'Liberation Serif', serif" >Glycine, serine and threonine metabolism</text>
<line x1="484.4" y1="342.6" x2="485.9" y2="342.6" stroke="#444" stroke-width="0.5"/>
<text transform="translate(482.40,344.20) scale(1.125,1)" font-size="5.3" text-anchor="end" font-weight="bold" fill="#000" font-family="'Liberation Serif', serif" >Bile secretion</text>
<line x1="484.4" y1="353.9" x2="485.9" y2="353.9" stroke="#444" stroke-width="0.5"/>
<text transform="translate(482.40,355.50) scale(1.125,1)" font-size="5.3" text-anchor="end" font-weight="bold" fill="#000" font-family="'Liberation Serif', serif" >Complement and coagulation cascades</text>
<line x1="484.4" y1="365.0" x2="485.9" y2="365.0" stroke="#444" stroke-width="0.5"/>
<text transform="translate(482.40,366.60) scale(1.125,1)" font-size="5.3" text-anchor="end" font-weight="bold" fill="#000" font-family="'Liberation Serif', serif" >ECM-receptor interaction</text>
<line x1="484.4" y1="376.1" x2="485.9" y2="376.1" stroke="#444" stroke-width="0.5"/>
<text transform="translate(482.40,377.70) scale(1.125,1)" font-size="5.3" text-anchor="end" font-weight="bold" fill="#000" font-family="'Liberation Serif', serif" >Staphylococcus aureus infection</text>
<line x1="484.4" y1="387.4" x2="485.9" y2="387.4" stroke="#444" stroke-width="0.5"/>
<text transform="translate(482.40,389.00) scale(1.125,1)" font-size="5.3" text-anchor="end" font-weight="bold" fill="#000" font-family="'Liberation Serif', serif" >Renin secretion</text>
<line x1="484.4" y1="398.6" x2="485.9" y2="398.6" stroke="#444" stroke-width="0.5"/>
<text transform="translate(482.40,400.20) scale(1.125,1)" font-size="5.3" text-anchor="end" font-weight="bold" fill="#000" font-family="'Liberation Serif', serif" >Pertussis</text>
<line x1="484.4" y1="409.5" x2="485.9" y2="409.5" stroke="#444" stroke-width="0.5"/>
<text transform="translate(482.40,411.10) scale(1.125,1)" font-size="5.3" text-anchor="end" font-weight="bold" fill="#000" font-family="'Liberation Serif', serif" >Asthma</text>
<line x1="484.4" y1="420.4" x2="485.9" y2="420.4" stroke="#444" stroke-width="0.5"/>
<text transform="translate(482.40,422.00) scale(1.125,1)" font-size="5.3" text-anchor="end" font-weight="bold" fill="#000" font-family="'Liberation Serif', serif" >Primary immunodeficiency</text>
<line x1="484.4" y1="431.3" x2="485.9" y2="431.3" stroke="#444" stroke-width="0.5"/>
<text transform="translate(482.40,430.90) scale(1.125,1)" font-size="5.3" text-anchor="end" font-weight="bold" fill="#000" font-family="'Liberation Serif', serif" >Intestinal immune network for IgA</text>
<text transform="translate(482.40,435.20) scale(1.125,1)" font-size="5.3" text-anchor="end" font-weight="bold" fill="#000" font-family="'Liberation Serif', serif" >production</text>
<line x1="484.4" y1="442.3" x2="485.9" y2="442.3" stroke="#444" stroke-width="0.5"/>
<text transform="translate(482.40,443.90) scale(1.125,1)" font-size="5.3" text-anchor="end" font-weight="bold" fill="#000" font-family="'Liberation Serif', serif" >Allograft rejection</text>
<line x1="484.4" y1="453.2" x2="485.9" y2="453.2" stroke="#444" stroke-width="0.5"/>
<text transform="translate(482.40,454.80) scale(1.125,1)" font-size="5.3" text-anchor="end" font-weight="bold" fill="#000" font-family="'Liberation Serif', serif" >Viral myocarditis</text>
<line x1="484.4" y1="464.1" x2="485.9" y2="464.1" stroke="#444" stroke-width="0.5"/>
<text transform="translate(482.40,465.70) scale(1.125,1)" font-size="5.3" text-anchor="end" font-weight="bold" fill="#000" font-family="'Liberation Serif', serif" >Hematopoietic cell lineage</text>
<line x1="484.4" y1="475.1" x2="485.9" y2="475.1" stroke="#444" stroke-width="0.5"/>
<text transform="translate(482.40,476.70) scale(1.125,1)" font-size="5.3" text-anchor="end" font-weight="bold" fill="#000" font-family="'Liberation Serif', serif" >NF-kappa B signaling pathway</text>
<line x1="484.4" y1="485.9" x2="485.9" y2="485.9" stroke="#444" stroke-width="0.5"/>
<text transform="translate(482.40,487.50) scale(1.125,1)" font-size="5.3" text-anchor="end" font-weight="bold" fill="#000" font-family="'Liberation Serif', serif" >Cell adhesion molecules (CAMs)</text>
<line x1="484.4" y1="496.9" x2="485.9" y2="496.9" stroke="#444" stroke-width="0.5"/>
<text transform="translate(482.40,498.50) scale(1.125,1)" font-size="5.3" text-anchor="end" font-weight="bold" fill="#000" font-family="'Liberation Serif', serif" >Epstein-Barr virus infection</text>
<line x1="484.4" y1="507.8" x2="485.9" y2="507.8" stroke="#444" stroke-width="0.5"/>
<text transform="translate(482.40,509.40) scale(1.125,1)" font-size="5.3" text-anchor="end" font-weight="bold" fill="#000" font-family="'Liberation Serif', serif" >Cytokine-cytokine receptor interaction</text>
<rect x="613.9" y="316.4" width="6.8" height="85.6" fill="#808080"/>
<text transform="translate(615.4,359.5) rotate(90)" font-size="4.8" text-anchor="middle" fill="#111" font-weight="bold" font-family="'Liberation Serif', serif">Down</text>
<rect x="613.9" y="404.6" width="6.8" height="107.2" fill="#808080"/>
<text transform="translate(615.4,465.0) rotate(90)" font-size="4.8" text-anchor="middle" fill="#111" font-weight="bold" font-family="'Liberation Serif', serif">Up</text>
<line x1="485.90" y1="511.8" x2="485.90" y2="513.2" stroke="#444" stroke-width="0.5"/>
<text transform="translate(485.90,517.50) scale(1.25,1)" font-size="5.2" text-anchor="middle" font-weight="bold" fill="#000" font-family="'Liberation Serif', serif" >0</text>
<line x1="511.36" y1="511.8" x2="511.36" y2="513.2" stroke="#444" stroke-width="0.5"/>
<text transform="translate(511.36,517.50) scale(1.25,1)" font-size="5.2" text-anchor="middle" font-weight="bold" fill="#000" font-family="'Liberation Serif', serif" >4</text>
<line x1="536.82" y1="511.8" x2="536.82" y2="513.2" stroke="#444" stroke-width="0.5"/>
<text transform="translate(536.82,517.50) scale(1.25,1)" font-size="5.2" text-anchor="middle" font-weight="bold" fill="#000" font-family="'Liberation Serif', serif" >8</text>
<line x1="562.28" y1="511.8" x2="562.28" y2="513.2" stroke="#444" stroke-width="0.5"/>
<text transform="translate(562.28,517.50) scale(1.25,1)" font-size="5.2" text-anchor="middle" font-weight="bold" fill="#000" font-family="'Liberation Serif', serif" >12</text>
<line x1="587.74" y1="511.8" x2="587.74" y2="513.2" stroke="#444" stroke-width="0.5"/>
<text transform="translate(587.74,517.50) scale(1.25,1)" font-size="5.2" text-anchor="middle" font-weight="bold" fill="#000" font-family="'Liberation Serif', serif" >16</text>
<line x1="613.20" y1="511.8" x2="613.20" y2="513.2" stroke="#444" stroke-width="0.5"/>
<text transform="translate(613.20,517.50) scale(1.25,1)" font-size="5.2" text-anchor="middle" font-weight="bold" fill="#000" font-family="'Liberation Serif', serif" >20</text>
<text transform="translate(557.70,525.60) scale(1.12,1)" font-size="5.9" text-anchor="middle" font-weight="bold" fill="#000" font-family="'Liberation Serif', serif" >Enrichment Score</text>
<text transform="translate(553.90,314.90) scale(1.2,1)" font-size="5.2" text-anchor="middle" font-weight="bold" fill="#000" font-family="'Liberation Serif', serif" >The top KEGG pathway    Up and Down</text>
<text transform="translate(624.60,366.00) scale(1.2,1)" font-size="4.8" text-anchor="start" font-weight="bold" fill="#000" font-family="'Liberation Serif', serif" >GeneNumber</text>
<ellipse cx="633" cy="373.8" rx="1.1" ry="0.83" fill="#000"/>
<text transform="translate(640.00,375.50) scale(1.2,1)" font-size="4.8" text-anchor="start" font-weight="bold" fill="#000" font-family="'Liberation Serif', serif" >2</text>
<ellipse cx="633" cy="390.7" rx="1.9" ry="1.42" fill="#000"/>
<text transform="translate(640.00,392.40) scale(1.2,1)" font-size="4.8" text-anchor="start" font-weight="bold" fill="#000" font-family="'Liberation Serif', serif" >10</text>
<ellipse cx="633" cy="407.8" rx="2.5" ry="1.88" fill="#000"/>
<text transform="translate(640.00,409.50) scale(1.2,1)" font-size="4.8" text-anchor="start" font-weight="bold" fill="#000" font-family="'Liberation Serif', serif" >18</text>
<text transform="translate(624.30,421.90) scale(1.2,1)" font-size="4.8" text-anchor="start" font-weight="bold" fill="#000" font-family="'Liberation Serif', serif" >P-value</text>
<defs><linearGradient id="pg" x1="0" y1="0" x2="0" y2="1"><stop offset="0" stop-color="#ff44ff"/><stop offset="0.07" stop-color="#ee44ff"/><stop offset="0.1" stop-color="#3300ff"/><stop offset="0.36" stop-color="#2200ff"/><stop offset="0.41" stop-color="#44ddff"/><stop offset="0.44" stop-color="#44ff00"/><stop offset="0.78" stop-color="#44ff00"/><stop offset="0.8" stop-color="#ffcc00"/><stop offset="0.83" stop-color="#ff2200"/><stop offset="1" stop-color="#ff2200"/></linearGradient></defs>
<rect x="624.3" y="423.2" width="14.1" height="45.3" fill="url(#pg)"/>
<text transform="translate(640.00,433.90) scale(1.2,1)" font-size="4.8" text-anchor="start" font-weight="bold" fill="#000" font-family="'Liberation Serif', serif" >0.06</text>
<text transform="translate(640.00,446.00) scale(1.2,1)" font-size="4.8" text-anchor="start" font-weight="bold" fill="#000" font-family="'Liberation Serif', serif" >0.04</text>
<text transform="translate(640.00,458.10) scale(1.2,1)" font-size="4.8" text-anchor="start" font-weight="bold" fill="#000" font-family="'Liberation Serif', serif" >0.02</text>
<text x="520.50" y="575.00" font-size="32.5" text-anchor="middle" font-weight="bold" fill="#000" font-family="'Liberation Serif', serif" >D</text>
<polyline points="43.3,630.8 87.9,611.2 132.6,618.0 177.1,626.0 222.0,630.0 266.3,634.9" fill="none" stroke="#ff2020" stroke-width="0.6" stroke-dasharray="1.1 0.8" opacity="0.95"/>
<polyline points="43.3,637.4 87.9,616.9 132.6,621.9 177.1,635.6 222.0,638.1 266.3,638.1" fill="none" stroke="#ff2424" stroke-width="0.6" stroke-dasharray="1.1 0.8" opacity="0.95"/>
<polyline points="43.3,665.3 87.9,660.2 132.6,659.5 177.1,665.7 222.0,677.0 266.3,669.6" fill="none" stroke="#f02a20" stroke-width="0.6" stroke-dasharray="1.1 0.8" opacity="0.95"/>
<polyline points="43.3,666.6 87.9,649.2 132.6,647.6 177.1,665.2 222.0,660.1 266.3,655.4" fill="none" stroke="#c02018" stroke-width="0.6" stroke-dasharray="1.1 0.8" opacity="0.95"/>
<polyline points="43.3,649.4 87.9,625.4 132.6,626.9 177.1,637.2 222.0,644.3 266.3,638.8" fill="none" stroke="#801810" stroke-width="0.6" stroke-dasharray="1.1 0.8" opacity="0.95"/>
<polyline points="43.3,678.8 87.9,653.8 132.6,650.7 177.1,675.7 222.0,674.6 266.3,678.7" fill="none" stroke="#402010" stroke-width="0.6" stroke-dasharray="1.1 0.8" opacity="0.95"/>
<polyline points="43.3,674.3 87.9,666.5 132.6,660.7 177.1,671.9 222.0,689.8 266.3,681.8" fill="none" stroke="#101000" stroke-width="0.6" stroke-dasharray="1.1 0.8" opacity="0.95"/>
<polyline points="43.3,647.9 87.9,632.4 132.6,637.0 177.1,637.0 222.0,645.8 266.3,650.4" fill="none" stroke="#0a380a" stroke-width="0.6" stroke-dasharray="1.1 0.8" opacity="0.95"/>
<polyline points="43.3,661.9 87.9,644.7 132.6,638.7 177.1,671.8 222.0,664.8 266.3,667.6" fill="none" stroke="#0e4a0e" stroke-width="0.6" stroke-dasharray="1.1 0.8" opacity="0.95"/>
<polyline points="43.3,692.0 87.9,663.3 132.6,667.9 177.1,689.5 222.0,783.0 266.3,783.0" fill="none" stroke="#105810" stroke-width="0.6" stroke-dasharray="1.1 0.8" opacity="0.95"/>
<polyline points="43.3,683.4 87.9,664.0 132.6,663.9 177.1,670.1 222.0,672.1 266.3,667.2" fill="none" stroke="#0e620e" stroke-width="0.6" stroke-dasharray="1.1 0.8" opacity="0.95"/>
<polyline points="43.3,684.7 87.9,666.2 132.6,656.3 177.1,663.2 222.0,681.7 266.3,688.4" fill="none" stroke="#127020" stroke-width="0.6" stroke-dasharray="1.1 0.8" opacity="0.95"/>
<polyline points="43.3,635.4 87.9,625.9 132.6,625.7 177.1,637.6 222.0,636.7 266.3,635.1" fill="none" stroke="#147a24" stroke-width="0.6" stroke-dasharray="1.1 0.8" opacity="0.95"/>
<polyline points="43.3,668.8 87.9,656.4 132.6,658.7 177.1,666.8 222.0,663.8 266.3,675.0" fill="none" stroke="#0e6a20" stroke-width="0.6" stroke-dasharray="1.1 0.8" opacity="0.95"/>
<polyline points="43.3,648.2 87.9,622.2 132.6,624.4 177.1,627.6 222.0,640.9 266.3,642.5" fill="none" stroke="#167a30" stroke-width="0.6" stroke-dasharray="1.1 0.8" opacity="0.95"/>
<polyline points="43.3,663.0 87.9,631.3 132.6,624.0 177.1,654.2 222.0,661.2 266.3,649.3" fill="none" stroke="#1a5a5a" stroke-width="0.6" stroke-dasharray="1.1 0.8" opacity="0.95"/>
<polyline points="43.3,685.5 87.9,667.0 132.6,653.1 177.1,668.8 222.0,671.6 266.3,692.5" fill="none" stroke="#2a6ae0" stroke-width="0.6" stroke-dasharray="1.1 0.8" opacity="0.95"/>
<polyline points="43.3,637.6 87.9,634.0 132.6,628.3 177.1,654.4 222.0,657.0 266.3,638.5" fill="none" stroke="#2a50f0" stroke-width="0.6" stroke-dasharray="1.1 0.8" opacity="0.95"/>
<polyline points="43.3,658.1 87.9,637.4 132.6,635.7 177.1,640.7 222.0,650.8 266.3,647.6" fill="none" stroke="#1a30ff" stroke-width="0.6" stroke-dasharray="1.1 0.8" opacity="0.95"/>
<polyline points="43.3,662.7 87.9,653.9 132.6,651.0 177.1,661.1 222.0,676.0 266.3,670.8" fill="none" stroke="#1020ff" stroke-width="0.6" stroke-dasharray="1.1 0.8" opacity="0.95"/>
<polyline points="43.3,687.5 87.9,659.7 132.6,650.0 177.1,680.6 222.0,690.0 266.3,685.5" fill="none" stroke="#1018ff" stroke-width="0.6" stroke-dasharray="1.1 0.8" opacity="0.95"/>
<polyline points="43.3,635.7 87.9,627.2 132.6,632.4 177.1,642.8 222.0,633.4 266.3,637.4" fill="none" stroke="#2010ff" stroke-width="0.6" stroke-dasharray="1.1 0.8" opacity="0.95"/>
<polyline points="43.3,637.3 87.9,625.0 132.6,640.3 177.1,642.6 222.0,648.5 266.3,646.1" fill="none" stroke="#6010ff" stroke-width="0.6" stroke-dasharray="1.1 0.8" opacity="0.95"/>
<polyline points="43.3,656.0 87.9,646.1 132.6,643.7 177.1,666.5 222.0,666.4 266.3,670.6" fill="none" stroke="#b020ff" stroke-width="0.6" stroke-dasharray="1.1 0.8" opacity="0.95"/>
<polyline points="43.3,695.5 87.9,633.8 132.6,641.8 177.1,666.6 222.0,783.0 266.3,783.0" fill="none" stroke="#f020ff" stroke-width="0.6" stroke-dasharray="1.1 0.8" opacity="0.95"/>
<polyline points="43.3,647.0 87.9,631.8 132.6,658.2 177.1,717.9 222.0,684.5 266.3,709.1" fill="none" stroke="#ff20f0" stroke-width="0.6" stroke-dasharray="1.1 0.8" opacity="0.95"/>
<polyline points="43.3,783.0 87.9,647.7 132.6,648.7 177.1,655.7 222.0,667.6 266.3,660.7" fill="none" stroke="#ff2080" stroke-width="0.6" stroke-dasharray="1.1 0.8" opacity="0.95"/>
<polyline points="43.3,673.3 87.9,654.5 132.6,656.2 177.1,671.4 222.0,681.6 266.3,663.9" fill="none" stroke="#ff2040" stroke-width="0.6" stroke-dasharray="1.1 0.8" opacity="0.95"/>
<polyline points="43.3,654.8 87.9,651.2 132.6,640.5 177.1,662.6 222.0,645.1 266.3,671.8" fill="none" stroke="#ff2020" stroke-width="0.6" stroke-dasharray="1.1 0.8" opacity="0.95"/>
<polyline points="43.3,654.8 87.9,642.1 132.6,652.7 177.1,652.3 222.0,654.5 266.3,657.9" fill="none" stroke="#ff2a20" stroke-width="0.6" stroke-dasharray="1.1 0.8" opacity="0.95"/>
<rect x="42.15" y="629.66" width="2.3" height="2.3" fill="#ff2020"/>
<rect x="86.75" y="610.05" width="2.3" height="2.3" fill="#ff2020"/>
<rect x="131.45" y="616.82" width="2.3" height="2.3" fill="#ff2020"/>
<rect x="175.95" y="624.88" width="2.3" height="2.3" fill="#ff2020"/>
<rect x="220.85" y="628.86" width="2.3" height="2.3" fill="#ff2020"/>
<rect x="265.15" y="633.73" width="2.3" height="2.3" fill="#ff2020"/>
<rect x="42.15" y="636.22" width="2.3" height="2.3" fill="#ff2424"/>
<rect x="86.75" y="615.73" width="2.3" height="2.3" fill="#ff2424"/>
<rect x="131.45" y="620.70" width="2.3" height="2.3" fill="#ff2424"/>
<rect x="175.95" y="634.43" width="2.3" height="2.3" fill="#ff2424"/>
<rect x="220.85" y="636.92" width="2.3" height="2.3" fill="#ff2424"/>
<rect x="265.15" y="636.92" width="2.3" height="2.3" fill="#ff2424"/>
<rect x="42.15" y="664.17" width="2.3" height="2.3" fill="#f02a20"/>
<rect x="86.75" y="659.04" width="2.3" height="2.3" fill="#f02a20"/>
<rect x="131.45" y="658.35" width="2.3" height="2.3" fill="#f02a20"/>
<rect x="175.95" y="664.50" width="2.3" height="2.3" fill="#f02a20"/>
<rect x="220.85" y="675.80" width="2.3" height="2.3" fill="#f02a20"/>
<rect x="265.15" y="668.45" width="2.3" height="2.3" fill="#f02a20"/>
<rect x="42.15" y="665.43" width="2.3" height="2.3" fill="#c02018"/>
<rect x="86.75" y="648.05" width="2.3" height="2.3" fill="#c02018"/>
<rect x="131.45" y="646.40" width="2.3" height="2.3" fill="#c02018"/>
<rect x="175.95" y="664.03" width="2.3" height="2.3" fill="#c02018"/>
<rect x="220.85" y="658.97" width="2.3" height="2.3" fill="#c02018"/>
<rect x="265.15" y="654.30" width="2.3" height="2.3" fill="#c02018"/>
<rect x="42.15" y="648.22" width="2.3" height="2.3" fill="#801810"/>
<rect x="86.75" y="624.26" width="2.3" height="2.3" fill="#801810"/>
<rect x="131.45" y="625.80" width="2.3" height="2.3" fill="#801810"/>
<rect x="175.95" y="636.04" width="2.3" height="2.3" fill="#801810"/>
<rect x="220.85" y="643.11" width="2.3" height="2.3" fill="#801810"/>
<rect x="265.15" y="637.65" width="2.3" height="2.3" fill="#801810"/>
<rect x="42.15" y="677.61" width="2.3" height="2.3" fill="#402010"/>
<rect x="86.75" y="652.63" width="2.3" height="2.3" fill="#402010"/>
<rect x="131.45" y="649.55" width="2.3" height="2.3" fill="#402010"/>
<rect x="175.95" y="674.52" width="2.3" height="2.3" fill="#402010"/>
<rect x="220.85" y="673.41" width="2.3" height="2.3" fill="#402010"/>
<rect x="265.15" y="677.56" width="2.3" height="2.3" fill="#402010"/>
<rect x="42.15" y="673.17" width="2.3" height="2.3" fill="#101000"/>
<rect x="86.75" y="665.37" width="2.3" height="2.3" fill="#101000"/>
<rect x="131.45" y="659.58" width="2.3" height="2.3" fill="#101000"/>
<rect x="175.95" y="670.76" width="2.3" height="2.3" fill="#101000"/>
<rect x="220.85" y="688.64" width="2.3" height="2.3" fill="#101000"/>
<rect x="265.15" y="680.67" width="2.3" height="2.3" fill="#101000"/>
<rect x="42.15" y="646.76" width="2.3" height="2.3" fill="#0a380a"/>
<rect x="86.75" y="631.23" width="2.3" height="2.3" fill="#0a380a"/>
<rect x="131.45" y="635.83" width="2.3" height="2.3" fill="#0a380a"/>
<rect x="175.95" y="635.88" width="2.3" height="2.3" fill="#0a380a"/>
<rect x="220.85" y="644.69" width="2.3" height="2.3" fill="#0a380a"/>
<rect x="265.15" y="649.22" width="2.3" height="2.3" fill="#0a380a"/>
<rect x="42.15" y="660.78" width="2.3" height="2.3" fill="#0e4a0e"/>
<rect x="86.75" y="643.55" width="2.3" height="2.3" fill="#0e4a0e"/>
<rect x="131.45" y="637.60" width="2.3" height="2.3" fill="#0e4a0e"/>
<rect x="175.95" y="670.64" width="2.3" height="2.3" fill="#0e4a0e"/>
<rect x="220.85" y="663.61" width="2.3" height="2.3" fill="#0e4a0e"/>
<rect x="265.15" y="666.45" width="2.3" height="2.3" fill="#0e4a0e"/>
<rect x="42.15" y="690.85" width="2.3" height="2.3" fill="#105810"/>
<rect x="86.75" y="662.19" width="2.3" height="2.3" fill="#105810"/>
<rect x="131.45" y="666.77" width="2.3" height="2.3" fill="#105810"/>
<rect x="175.95" y="688.36" width="2.3" height="2.3" fill="#105810"/>
<rect x="220.85" y="781.89" width="2.3" height="2.3" fill="#105810"/>
<rect x="265.15" y="781.89" width="2.3" height="2.3" fill="#105810"/>
<rect x="42.15" y="682.28" width="2.3" height="2.3" fill="#0e620e"/>
<rect x="86.75" y="662.89" width="2.3" height="2.3" fill="#0e620e"/>
<rect x="131.45" y="662.77" width="2.3" height="2.3" fill="#0e620e"/>
<rect x="175.95" y="668.99" width="2.3" height="2.3" fill="#0e620e"/>
<rect x="220.85" y="670.99" width="2.3" height="2.3" fill="#0e620e"/>
<rect x="265.15" y="666.01" width="2.3" height="2.3" fill="#0e620e"/>
<rect x="42.15" y="683.55" width="2.3" height="2.3" fill="#127020"/>
<rect x="86.75" y="665.05" width="2.3" height="2.3" fill="#127020"/>
<rect x="131.45" y="655.15" width="2.3" height="2.3" fill="#127020"/>
<rect x="175.95" y="662.07" width="2.3" height="2.3" fill="#127020"/>
<rect x="220.85" y="680.58" width="2.3" height="2.3" fill="#127020"/>
<rect x="265.15" y="687.21" width="2.3" height="2.3" fill="#127020"/>
<rect x="42.15" y="634.22" width="2.3" height="2.3" fill="#147a24"/>
<rect x="86.75" y="624.76" width="2.3" height="2.3" fill="#147a24"/>
<rect x="131.45" y="624.57" width="2.3" height="2.3" fill="#147a24"/>
<rect x="175.95" y="636.42" width="2.3" height="2.3" fill="#147a24"/>
<rect x="220.85" y="635.60" width="2.3" height="2.3" fill="#147a24"/>
<rect x="265.15" y="633.93" width="2.3" height="2.3" fill="#147a24"/>
<rect x="42.15" y="667.68" width="2.3" height="2.3" fill="#0e6a20"/>
<rect x="86.75" y="655.26" width="2.3" height="2.3" fill="#0e6a20"/>
<rect x="131.45" y="657.54" width="2.3" height="2.3" fill="#0e6a20"/>
<rect x="175.95" y="665.68" width="2.3" height="2.3" fill="#0e6a20"/>
<rect x="220.85" y="662.68" width="2.3" height="2.3" fill="#0e6a20"/>
<rect x="265.15" y="673.80" width="2.3" height="2.3" fill="#0e6a20"/>
<rect x="42.15" y="647.05" width="2.3" height="2.3" fill="#167a30"/>
<rect x="86.75" y="621.05" width="2.3" height="2.3" fill="#167a30"/>
<rect x="131.45" y="623.27" width="2.3" height="2.3" fill="#167a30"/>
<rect x="175.95" y="626.48" width="2.3" height="2.3" fill="#167a30"/>
<rect x="220.85" y="639.74" width="2.3" height="2.3" fill="#167a30"/>
<rect x="265.15" y="641.36" width="2.3" height="2.3" fill="#167a30"/>
<rect x="42.15" y="661.85" width="2.3" height="2.3" fill="#1a5a5a"/>
<rect x="86.75" y="630.13" width="2.3" height="2.3" fill="#1a5a5a"/>
<rect x="131.45" y="622.87" width="2.3" height="2.3" fill="#1a5a5a"/>
<rect x="175.95" y="653.03" width="2.3" height="2.3" fill="#1a5a5a"/>
<rect x="220.85" y="660.07" width="2.3" height="2.3" fill="#1a5a5a"/>
<rect x="265.15" y="648.16" width="2.3" height="2.3" fill="#1a5a5a"/>
<rect x="42.15" y="684.38" width="2.3" height="2.3" fill="#2a6ae0"/>
<rect x="86.75" y="665.87" width="2.3" height="2.3" fill="#2a6ae0"/>
<rect x="131.45" y="651.94" width="2.3" height="2.3" fill="#2a6ae0"/>
<rect x="175.95" y="667.66" width="2.3" height="2.3" fill="#2a6ae0"/>
<rect x="220.85" y="670.45" width="2.3" height="2.3" fill="#2a6ae0"/>
<rect x="265.15" y="691.35" width="2.3" height="2.3" fill="#2a6ae0"/>
<rect x="42.15" y="636.42" width="2.3" height="2.3" fill="#2a50f0"/>
<rect x="86.75" y="632.87" width="2.3" height="2.3" fill="#2a50f0"/>
<rect x="131.45" y="627.16" width="2.3" height="2.3" fill="#2a50f0"/>
<rect x="175.95" y="653.21" width="2.3" height="2.3" fill="#2a50f0"/>
<rect x="220.85" y="655.85" width="2.3" height="2.3" fill="#2a50f0"/>
<rect x="265.15" y="637.30" width="2.3" height="2.3" fill="#2a50f0"/>
<rect x="42.15" y="656.92" width="2.3" height="2.3" fill="#1a30ff"/>
<rect x="86.75" y="636.20" width="2.3" height="2.3" fill="#1a30ff"/>
<rect x="131.45" y="634.56" width="2.3" height="2.3" fill="#1a30ff"/>
<rect x="175.95" y="639.56" width="2.3" height="2.3" fill="#1a30ff"/>
<rect x="220.85" y="649.64" width="2.3" height="2.3" fill="#1a30ff"/>
<rect x="265.15" y="646.49" width="2.3" height="2.3" fill="#1a30ff"/>
<rect x="42.15" y="661.52" width="2.3" height="2.3" fill="#1020ff"/>
<rect x="86.75" y="652.76" width="2.3" height="2.3" fill="#1020ff"/>
<rect x="131.45" y="649.81" width="2.3" height="2.3" fill="#1020ff"/>
<rect x="175.95" y="659.98" width="2.3" height="2.3" fill="#1020ff"/>
<rect x="220.85" y="674.82" width="2.3" height="2.3" fill="#1020ff"/>
<rect x="265.15" y="669.63" width="2.3" height="2.3" fill="#1020ff"/>
<rect x="42.15" y="686.37" width="2.3" height="2.3" fill="#1018ff"/>
<rect x="86.75" y="658.51" width="2.3" height="2.3" fill="#1018ff"/>
<rect x="131.45" y="648.86" width="2.3" height="2.3" fill="#1018ff"/>
<rect x="175.95" y="679.41" width="2.3" height="2.3" fill="#1018ff"/>
<rect x="220.85" y="688.86" width="2.3" height="2.3" fill="#1018ff"/>
<rect x="265.15" y="684.38" width="2.3" height="2.3" fill="#1018ff"/>
<rect x="42.15" y="634.56" width="2.3" height="2.3" fill="#2010ff"/>
<rect x="86.75" y="626.03" width="2.3" height="2.3" fill="#2010ff"/>
<rect x="131.45" y="631.29" width="2.3" height="2.3" fill="#2010ff"/>
<rect x="175.95" y="641.62" width="2.3" height="2.3" fill="#2010ff"/>
<rect x="220.85" y="632.25" width="2.3" height="2.3" fill="#2010ff"/>
<rect x="265.15" y="636.24" width="2.3" height="2.3" fill="#2010ff"/>
<rect x="42.15" y="636.16" width="2.3" height="2.3" fill="#6010ff"/>
<rect x="86.75" y="623.84" width="2.3" height="2.3" fill="#6010ff"/>
<rect x="131.45" y="639.16" width="2.3" height="2.3" fill="#6010ff"/>
<rect x="175.95" y="641.41" width="2.3" height="2.3" fill="#6010ff"/>
<rect x="220.85" y="647.36" width="2.3" height="2.3" fill="#6010ff"/>
<rect x="265.15" y="644.99" width="2.3" height="2.3" fill="#6010ff"/>
<rect x="42.15" y="654.83" width="2.3" height="2.3" fill="#b020ff"/>
<rect x="86.75" y="644.95" width="2.3" height="2.3" fill="#b020ff"/>
<rect x="131.45" y="642.58" width="2.3" height="2.3" fill="#b020ff"/>
<rect x="175.95" y="665.30" width="2.3" height="2.3" fill="#b020ff"/>
<rect x="220.85" y="665.22" width="2.3" height="2.3" fill="#b020ff"/>
<rect x="265.15" y="669.50" width="2.3" height="2.3" fill="#b020ff"/>
<rect x="42.15" y="694.33" width="2.3" height="2.3" fill="#f020ff"/>
<rect x="86.75" y="632.64" width="2.3" height="2.3" fill="#f020ff"/>
<rect x="131.45" y="640.60" width="2.3" height="2.3" fill="#f020ff"/>
<rect x="175.95" y="665.48" width="2.3" height="2.3" fill="#f020ff"/>
<rect x="220.85" y="781.89" width="2.3" height="2.3" fill="#f020ff"/>
<rect x="265.15" y="781.89" width="2.3" height="2.3" fill="#f020ff"/>
<rect x="42.15" y="645.87" width="2.3" height="2.3" fill="#ff20f0"/>
<rect x="86.75" y="630.65" width="2.3" height="2.3" fill="#ff20f0"/>
<rect x="131.45" y="657.02" width="2.3" height="2.3" fill="#ff20f0"/>
<rect x="175.95" y="716.72" width="2.3" height="2.3" fill="#ff20f0"/>
<rect x="220.85" y="683.39" width="2.3" height="2.3" fill="#ff20f0"/>
<rect x="265.15" y="707.96" width="2.3" height="2.3" fill="#ff20f0"/>
<rect x="42.15" y="781.89" width="2.3" height="2.3" fill="#ff2080"/>
<rect x="86.75" y="646.57" width="2.3" height="2.3" fill="#ff2080"/>
<rect x="131.45" y="647.57" width="2.3" height="2.3" fill="#ff2080"/>
<rect x="175.95" y="654.53" width="2.3" height="2.3" fill="#ff2080"/>
<rect x="220.85" y="666.47" width="2.3" height="2.3" fill="#ff2080"/>
<rect x="265.15" y="659.51" width="2.3" height="2.3" fill="#ff2080"/>
<rect x="42.15" y="672.18" width="2.3" height="2.3" fill="#ff2040"/>
<rect x="86.75" y="653.34" width="2.3" height="2.3" fill="#ff2040"/>
<rect x="131.45" y="655.07" width="2.3" height="2.3" fill="#ff2040"/>
<rect x="175.95" y="670.26" width="2.3" height="2.3" fill="#ff2040"/>
<rect x="220.85" y="680.41" width="2.3" height="2.3" fill="#ff2040"/>
<rect x="265.15" y="662.75" width="2.3" height="2.3" fill="#ff2040"/>
<rect x="42.15" y="653.68" width="2.3" height="2.3" fill="#ff2020"/>
<rect x="86.75" y="650.08" width="2.3" height="2.3" fill="#ff2020"/>
<rect x="131.45" y="639.40" width="2.3" height="2.3" fill="#ff2020"/>
<rect x="175.95" y="661.41" width="2.3" height="2.3" fill="#ff2020"/>
<rect x="220.85" y="643.94" width="2.3" height="2.3" fill="#ff2020"/>
<rect x="265.15" y="670.60" width="2.3" height="2.3" fill="#ff2020"/>
<rect x="42.15" y="653.65" width="2.3" height="2.3" fill="#ff2a20"/>
<rect x="86.75" y="640.96" width="2.3" height="2.3" fill="#ff2a20"/>
<rect x="131.45" y="651.54" width="2.3" height="2.3" fill="#ff2a20"/>
<rect x="175.95" y="651.12" width="2.3" height="2.3" fill="#ff2a20"/>
<rect x="220.85" y="653.39" width="2.3" height="2.3" fill="#ff2a20"/>
<rect x="265.15" y="656.76" width="2.3" height="2.3" fill="#ff2a20"/>
<rect x="16.8" y="602.5" width="276.7" height="189.7" fill="none" stroke="#a8a8a8" stroke-width="1"/>
<line x1="15.3" y1="651.7" x2="16.8" y2="651.7" stroke="#888" stroke-width="0.5"/>
<text x="14.60" y="653.90" font-size="6.4" text-anchor="end" font-weight="normal" fill="#222" font-family="'Liberation Serif', serif" stroke="#222" stroke-width="0.15">0</text>
<line x1="15.3" y1="701.5" x2="16.8" y2="701.5" stroke="#888" stroke-width="0.5"/>
<text x="14.60" y="703.65" font-size="6.4" text-anchor="end" font-weight="normal" fill="#222" font-family="'Liberation Serif', serif" stroke="#222" stroke-width="0.15">-5</text>
<line x1="15.3" y1="751.2" x2="16.8" y2="751.2" stroke="#888" stroke-width="0.5"/>
<text x="14.60" y="753.40" font-size="6.4" text-anchor="end" font-weight="normal" fill="#222" font-family="'Liberation Serif', serif" stroke="#222" stroke-width="0.15">-10</text>
<line x1="43.3" y1="792.2" x2="43.3" y2="793.7" stroke="#888" stroke-width="0.5"/>
<text transform="translate(45.6,796.7) rotate(-45)" font-size="5.0" font-weight="bold" text-anchor="end" fill="#000" font-family="'Liberation Serif', serif">Re1</text>
<line x1="87.9" y1="792.2" x2="87.9" y2="793.7" stroke="#888" stroke-width="0.5"/>
<text transform="translate(90.2,796.7) rotate(-45)" font-size="5.0" font-weight="bold" text-anchor="end" fill="#000" font-family="'Liberation Serif', serif">Re2</text>
<line x1="132.6" y1="792.2" x2="132.6" y2="793.7" stroke="#888" stroke-width="0.5"/>
<text transform="translate(134.9,796.7) rotate(-45)" font-size="5.0" font-weight="bold" text-anchor="end" fill="#000" font-family="'Liberation Serif', serif">Re3</text>
<line x1="177.1" y1="792.2" x2="177.1" y2="793.7" stroke="#888" stroke-width="0.5"/>
<text transform="translate(179.4,796.7) rotate(-45)" font-size="5.0" font-weight="bold" text-anchor="end" fill="#000" font-family="'Liberation Serif', serif">Co1</text>
<line x1="222.0" y1="792.2" x2="222.0" y2="793.7" stroke="#888" stroke-width="0.5"/>
<text transform="translate(224.3,796.7) rotate(-45)" font-size="5.0" font-weight="bold" text-anchor="end" fill="#000" font-family="'Liberation Serif', serif">Co2</text>
<line x1="266.3" y1="792.2" x2="266.3" y2="793.7" stroke="#888" stroke-width="0.5"/>
<text transform="translate(268.6,796.7) rotate(-45)" font-size="5.0" font-weight="bold" text-anchor="end" fill="#000" font-family="'Liberation Serif', serif">Co3</text>
<text x="154.80" y="808.00" font-size="5.8" text-anchor="middle" font-weight="bold" fill="#000" font-family="'Liberation Serif', serif" >Sample</text>
<text transform="translate(6.6,692) rotate(-90)" font-size="7.0" font-weight="bold" text-anchor="middle" font-family="'Liberation Serif', serif">log2 Expression</text>
<text x="299.50" y="648.00" font-size="5.6" text-anchor="start" font-weight="bold" fill="#000" font-family="'Liberation Serif', serif" >IDs</text>
<line x1="300.0" y1="653.9" x2="305.6" y2="653.9" stroke="#ff2020" stroke-width="0.5" stroke-dasharray="1 0.8" opacity="0.7"/>
<rect x="301.85" y="652.95" width="1.9" height="1.9" fill="#ff2020"/>
<text x="308.80" y="655.50" font-size="4.6" text-anchor="start" font-weight="bold" fill="#000" font-family="'Liberation Serif', serif" stroke="#000" stroke-width="0.1">BIRC3</text>
<line x1="330.0" y1="653.9" x2="335.6" y2="653.9" stroke="#1a5a5a" stroke-width="0.5" stroke-dasharray="1 0.8" opacity="0.7"/>
<rect x="331.85" y="652.95" width="1.9" height="1.9" fill="#1a5a5a"/>
<text x="338.70" y="655.50" font-size="4.6" text-anchor="start" font-weight="bold" fill="#000" font-family="'Liberation Serif', serif" stroke="#000" stroke-width="0.1">IL1R1</text>
<line x1="300.0" y1="660.6" x2="305.6" y2="660.6" stroke="#ff2424" stroke-width="0.5" stroke-dasharray="1 0.8" opacity="0.7"/>
<rect x="301.85" y="659.65" width="1.9" height="1.9" fill="#ff2424"/>
<text x="308.80" y="662.20" font-size="4.6" text-anchor="start" font-weight="bold" fill="#000" font-family="'Liberation Serif', serif" stroke="#000" stroke-width="0.1">BLNK</text>
<line x1="330.0" y1="660.6" x2="335.6" y2="660.6" stroke="#2a6ae0" stroke-width="0.5" stroke-dasharray="1 0.8" opacity="0.7"/>
<rect x="331.85" y="659.65" width="1.9" height="1.9" fill="#2a6ae0"/>
<text x="338.70" y="662.20" font-size="4.6" text-anchor="start" font-weight="bold" fill="#000" font-family="'Liberation Serif', serif" stroke="#000" stroke-width="0.1">IL1R2</text>
<line x1="300.0" y1="667.3" x2="305.6" y2="667.3" stroke="#f02a20" stroke-width="0.5" stroke-dasharray="1 0.8" opacity="0.7"/>
<rect x="301.85" y="666.35" width="1.9" height="1.9" fill="#f02a20"/>
<text x="308.80" y="668.90" font-size="4.6" text-anchor="start" font-weight="bold" fill="#000" font-family="'Liberation Serif', serif" stroke="#000" stroke-width="0.1">CD101</text>
<line x1="330.0" y1="667.3" x2="335.6" y2="667.3" stroke="#2a50f0" stroke-width="0.5" stroke-dasharray="1 0.8" opacity="0.7"/>
<rect x="331.85" y="666.35" width="1.9" height="1.9" fill="#2a50f0"/>
<text x="338.70" y="668.90" font-size="4.6" text-anchor="start" font-weight="bold" fill="#000" font-family="'Liberation Serif', serif" stroke="#000" stroke-width="0.1">IL21R</text>
<line x1="300.0" y1="674.0" x2="305.6" y2="674.0" stroke="#c02018" stroke-width="0.5" stroke-dasharray="1 0.8" opacity="0.7"/>
<rect x="301.85" y="673.05" width="1.9" height="1.9" fill="#c02018"/>
<text x="308.80" y="675.60" font-size="4.6" text-anchor="start" font-weight="bold" fill="#000" font-family="'Liberation Serif', serif" stroke="#000" stroke-width="0.1">CD247</text>
<line x1="330.0" y1="674.0" x2="335.6" y2="674.0" stroke="#1a30ff" stroke-width="0.5" stroke-dasharray="1 0.8" opacity="0.7"/>
<rect x="331.85" y="673.05" width="1.9" height="1.9" fill="#1a30ff"/>
<text x="338.70" y="675.60" font-size="4.6" text-anchor="start" font-weight="bold" fill="#000" font-family="'Liberation Serif', serif" stroke="#000" stroke-width="0.1">IL4R</text>
<line x1="300.0" y1="680.7" x2="305.6" y2="680.7" stroke="#801810" stroke-width="0.5" stroke-dasharray="1 0.8" opacity="0.7"/>
<rect x="301.85" y="679.75" width="1.9" height="1.9" fill="#801810"/>
<text x="308.80" y="682.30" font-size="4.6" text-anchor="start" font-weight="bold" fill="#000" font-family="'Liberation Serif', serif" stroke="#000" stroke-width="0.1">CD300A</text>
<line x1="330.0" y1="680.7" x2="335.6" y2="680.7" stroke="#1020ff" stroke-width="0.5" stroke-dasharray="1 0.8" opacity="0.7"/>
<rect x="331.85" y="679.75" width="1.9" height="1.9" fill="#1020ff"/>
<text x="338.70" y="682.30" font-size="4.6" text-anchor="start" font-weight="bold" fill="#000" font-family="'Liberation Serif', serif" stroke="#000" stroke-width="0.1">LTB</text>
<line x1="300.0" y1="687.4" x2="305.6" y2="687.4" stroke="#402010" stroke-width="0.5" stroke-dasharray="1 0.8" opacity="0.7"/>
<rect x="301.85" y="686.45" width="1.9" height="1.9" fill="#402010"/>
<text x="308.80" y="689.00" font-size="4.6" text-anchor="start" font-weight="bold" fill="#000" font-family="'Liberation Serif', serif" stroke="#000" stroke-width="0.1">CD300LF</text>
<line x1="330.0" y1="687.4" x2="335.6" y2="687.4" stroke="#1018ff" stroke-width="0.5" stroke-dasharray="1 0.8" opacity="0.7"/>
<rect x="331.85" y="686.45" width="1.9" height="1.9" fill="#1018ff"/>
<text x="338.70" y="689.00" font-size="4.6" text-anchor="start" font-weight="bold" fill="#000" font-family="'Liberation Serif', serif" stroke="#000" stroke-width="0.1">NLRC3</text>
<line x1="300.0" y1="694.1" x2="305.6" y2="694.1" stroke="#101000" stroke-width="0.5" stroke-dasharray="1 0.8" opacity="0.7"/>
<rect x="301.85" y="693.15" width="1.9" height="1.9" fill="#101000"/>
<text x="308.80" y="695.70" font-size="4.6" text-anchor="start" font-weight="bold" fill="#000" font-family="'Liberation Serif', serif" stroke="#000" stroke-width="0.1">CD40</text>
<line x1="330.0" y1="694.1" x2="335.6" y2="694.1" stroke="#2010ff" stroke-width="0.5" stroke-dasharray="1 0.8" opacity="0.7"/>
<rect x="331.85" y="693.15" width="1.9" height="1.9" fill="#2010ff"/>
<text x="338.70" y="695.70" font-size="4.6" text-anchor="start" font-weight="bold" fill="#000" font-family="'Liberation Serif', serif" stroke="#000" stroke-width="0.1">PIK3CD</text>
<line x1="300.0" y1="700.8" x2="305.6" y2="700.8" stroke="#0a380a" stroke-width="0.5" stroke-dasharray="1 0.8" opacity="0.7"/>
<rect x="301.85" y="699.85" width="1.9" height="1.9" fill="#0a380a"/>
<text x="308.80" y="702.40" font-size="4.6" text-anchor="start" font-weight="bold" fill="#000" font-family="'Liberation Serif', serif" stroke="#000" stroke-width="0.1">CD40LG</text>
<line x1="330.0" y1="700.8" x2="335.6" y2="700.8" stroke="#6010ff" stroke-width="0.5" stroke-dasharray="1 0.8" opacity="0.7"/>
<rect x="331.85" y="699.85" width="1.9" height="1.9" fill="#6010ff"/>
<text x="338.70" y="702.40" font-size="4.6" text-anchor="start" font-weight="bold" fill="#000" font-family="'Liberation Serif', serif" stroke="#000" stroke-width="0.1">SYK</text>
<line x1="300.0" y1="707.5" x2="305.6" y2="707.5" stroke="#0e4a0e" stroke-width="0.5" stroke-dasharray="1 0.8" opacity="0.7"/>
<rect x="301.85" y="706.55" width="1.9" height="1.9" fill="#0e4a0e"/>
<text x="308.80" y="709.10" font-size="4.6" text-anchor="start" font-weight="bold" fill="#000" font-family="'Liberation Serif', serif" stroke="#000" stroke-width="0.1">CD6</text>
<line x1="330.0" y1="707.5" x2="335.6" y2="707.5" stroke="#b020ff" stroke-width="0.5" stroke-dasharray="1 0.8" opacity="0.7"/>
<rect x="331.85" y="706.55" width="1.9" height="1.9" fill="#b020ff"/>
<text x="338.70" y="709.10" font-size="4.6" text-anchor="start" font-weight="bold" fill="#000" font-family="'Liberation Serif', serif" stroke="#000" stroke-width="0.1">TLR2</text>
<line x1="300.0" y1="714.2" x2="305.6" y2="714.2" stroke="#105810" stroke-width="0.5" stroke-dasharray="1 0.8" opacity="0.7"/>
<rect x="301.85" y="713.25" width="1.9" height="1.9" fill="#105810"/>
<text x="308.80" y="715.80" font-size="4.6" text-anchor="start" font-weight="bold" fill="#000" font-family="'Liberation Serif', serif" stroke="#000" stroke-width="0.1">CD72</text>
<line x1="330.0" y1="714.2" x2="335.6" y2="714.2" stroke="#f020ff" stroke-width="0.5" stroke-dasharray="1 0.8" opacity="0.7"/>
<rect x="331.85" y="713.25" width="1.9" height="1.9" fill="#f020ff"/>
<text x="338.70" y="715.80" font-size="4.6" text-anchor="start" font-weight="bold" fill="#000" font-family="'Liberation Serif', serif" stroke="#000" stroke-width="0.1">TNFAIP8L2</text>
<line x1="300.0" y1="720.9" x2="305.6" y2="720.9" stroke="#0e620e" stroke-width="0.5" stroke-dasharray="1 0.8" opacity="0.7"/>
<rect x="301.85" y="719.95" width="1.9" height="1.9" fill="#0e620e"/>
<text x="308.80" y="722.50" font-size="4.6" text-anchor="start" font-weight="bold" fill="#000" font-family="'Liberation Serif', serif" stroke="#000" stroke-width="0.1">CD8A</text>
<line x1="330.0" y1="720.9" x2="335.6" y2="720.9" stroke="#ff20f0" stroke-width="0.5" stroke-dasharray="1 0.8" opacity="0.7"/>
<rect x="331.85" y="719.95" width="1.9" height="1.9" fill="#ff20f0"/>
<text x="338.70" y="722.50" font-size="4.6" text-anchor="start" font-weight="bold" fill="#000" font-family="'Liberation Serif', serif" stroke="#000" stroke-width="0.1">TNFRSF13B</text>
<line x1="300.0" y1="727.6" x2="305.6" y2="727.6" stroke="#127020" stroke-width="0.5" stroke-dasharray="1 0.8" opacity="0.7"/>
<rect x="301.85" y="726.65" width="1.9" height="1.9" fill="#127020"/>
<text x="308.80" y="729.20" font-size="4.6" text-anchor="start" font-weight="bold" fill="#000" font-family="'Liberation Serif', serif" stroke="#000" stroke-width="0.1">ICAM1</text>
<line x1="330.0" y1="727.6" x2="335.6" y2="727.6" stroke="#ff2080" stroke-width="0.5" stroke-dasharray="1 0.8" opacity="0.7"/>
<rect x="331.85" y="726.65" width="1.9" height="1.9" fill="#ff2080"/>
<text x="338.70" y="729.20" font-size="4.6" text-anchor="start" font-weight="bold" fill="#000" font-family="'Liberation Serif', serif" stroke="#000" stroke-width="0.1">TNFRSF13C</text>
<line x1="300.0" y1="734.3" x2="305.6" y2="734.3" stroke="#147a24" stroke-width="0.5" stroke-dasharray="1 0.8" opacity="0.7"/>
<rect x="301.85" y="733.35" width="1.9" height="1.9" fill="#147a24"/>
<text x="308.80" y="735.90" font-size="4.6" text-anchor="start" font-weight="bold" fill="#000" font-family="'Liberation Serif', serif" stroke="#000" stroke-width="0.1">IL-18L</text>
<line x1="330.0" y1="734.3" x2="335.6" y2="734.3" stroke="#ff2040" stroke-width="0.5" stroke-dasharray="1 0.8" opacity="0.7"/>
<rect x="331.85" y="733.35" width="1.9" height="1.9" fill="#ff2040"/>
<text x="338.70" y="735.90" font-size="4.6" text-anchor="start" font-weight="bold" fill="#000" font-family="'Liberation Serif', serif" stroke="#000" stroke-width="0.1">TNFRSF17</text>
<line x1="300.0" y1="741.0" x2="305.6" y2="741.0" stroke="#0e6a20" stroke-width="0.5" stroke-dasharray="1 0.8" opacity="0.7"/>
<rect x="301.85" y="740.05" width="1.9" height="1.9" fill="#0e6a20"/>
<text x="308.80" y="742.60" font-size="4.6" text-anchor="start" font-weight="bold" fill="#000" font-family="'Liberation Serif', serif" stroke="#000" stroke-width="0.1">IL10RB</text>
<line x1="330.0" y1="741.0" x2="335.6" y2="741.0" stroke="#ff2020" stroke-width="0.5" stroke-dasharray="1 0.8" opacity="0.7"/>
<rect x="331.85" y="740.05" width="1.9" height="1.9" fill="#ff2020"/>
<text x="338.70" y="742.60" font-size="4.6" text-anchor="start" font-weight="bold" fill="#000" font-family="'Liberation Serif', serif" stroke="#000" stroke-width="0.1">TNFSF13B</text>
<line x1="300.0" y1="747.7" x2="305.6" y2="747.7" stroke="#167a30" stroke-width="0.5" stroke-dasharray="1 0.8" opacity="0.7"/>
<rect x="301.85" y="746.75" width="1.9" height="1.9" fill="#167a30"/>
<text x="308.80" y="749.30" font-size="4.6" text-anchor="start" font-weight="bold" fill="#000" font-family="'Liberation Serif', serif" stroke="#000" stroke-width="0.1">IL12A</text>
<line x1="330.0" y1="747.7" x2="335.6" y2="747.7" stroke="#ff2a20" stroke-width="0.5" stroke-dasharray="1 0.8" opacity="0.7"/>
<rect x="331.85" y="746.75" width="1.9" height="1.9" fill="#ff2a20"/>
<text x="338.70" y="749.30" font-size="4.6" text-anchor="start" font-weight="bold" fill="#000" font-family="'Liberation Serif', serif" stroke="#000" stroke-width="0.1">TRAF1</text>
<text x="176.50" y="854.80" font-size="32.5" text-anchor="middle" font-weight="bold" fill="#000" font-family="'Liberation Serif', serif" >E</text>
<line x1="469.4" y1="616.4" x2="553.0" y2="610.0" stroke="#ff2a40" stroke-width="2.2" opacity="0.95"/>
<line x1="469.4" y1="616.4" x2="525.0" y2="602.8" stroke="#ff2a40" stroke-width="1.8" opacity="0.95"/>
<line x1="469.4" y1="616.4" x2="496.2" y2="605.2" stroke="#ff7070" stroke-width="0.8" opacity="0.95"/>
<line x1="496.2" y1="605.2" x2="525.0" y2="602.8" stroke="#ff2a40" stroke-width="1.2" opacity="0.95"/>
<line x1="525.0" y1="602.8" x2="553.0" y2="610.0" stroke="#ff8a58" stroke-width="0.6" opacity="0.95"/>
<line x1="469.4" y1="616.4" x2="446.7" y2="635.5" stroke="#ff2a40" stroke-width="2.0" opacity="0.95"/>
<line x1="446.7" y1="635.5" x2="553.2" y2="800.8" stroke="#ff2a40" stroke-width="2.0" opacity="0.95"/>
<line x1="469.4" y1="793.7" x2="597.6" y2="647.6" stroke="#ff2a40" stroke-width="2.0" opacity="0.95"/>
<line x1="524.9" y1="807.0" x2="610.3" y2="675.1" stroke="#ff2a40" stroke-width="2.2" opacity="0.95"/>
<line x1="578.3" y1="785.1" x2="610.3" y2="675.1" stroke="#ff2a40" stroke-width="2.0" opacity="0.95"/>
<line x1="578.3" y1="785.1" x2="609.6" y2="735.0" stroke="#ff2a40" stroke-width="1.8" opacity="0.95"/>
<line x1="578.3" y1="785.1" x2="597.1" y2="762.3" stroke="#ff2a40" stroke-width="1.8" opacity="0.95"/>
<line x1="422.2" y1="720.7" x2="430.7" y2="749.7" stroke="#ff2a40" stroke-width="1.4" opacity="0.95"/>
<line x1="422.2" y1="720.7" x2="447.0" y2="774.7" stroke="#ee40ff" stroke-width="1.0" opacity="0.95"/>
<line x1="469.4" y1="793.7" x2="496.3" y2="805.0" stroke="#ff2a40" stroke-width="1.2" opacity="0.95"/>
<line x1="496.3" y1="805.0" x2="524.9" y2="807.0" stroke="#ff2a40" stroke-width="1.4" opacity="0.95"/>
<line x1="469.4" y1="793.7" x2="524.9" y2="807.0" stroke="#ee40ff" stroke-width="1.0" opacity="0.95"/>
<line x1="524.9" y1="807.0" x2="553.2" y2="800.8" stroke="#ee40ff" stroke-width="1.2" opacity="0.95"/>
<line x1="553.2" y1="800.8" x2="578.3" y2="785.1" stroke="#ee40ff" stroke-width="1.2" opacity="0.95"/>
<line x1="447.0" y1="774.7" x2="469.4" y2="793.7" stroke="#ee40ff" stroke-width="1.2" opacity="0.95"/>
<line x1="610.3" y1="675.1" x2="597.1" y2="762.3" stroke="#ff2a40" stroke-width="1.2" opacity="0.95"/>
<line x1="610.3" y1="675.1" x2="614.3" y2="705.5" stroke="#9a2cff" stroke-width="1.15" opacity="0.95"/>
<line x1="610.3" y1="675.1" x2="609.6" y2="735.0" stroke="#9a2cff" stroke-width="1.03" opacity="0.95"/>
<line x1="597.6" y1="647.6" x2="610.3" y2="675.1" stroke="#ee40ff" stroke-width="0.9" opacity="0.95"/>
<line x1="578.1" y1="625.4" x2="597.6" y2="647.6" stroke="#ff8a58" stroke-width="0.7" opacity="0.95"/>
<line x1="578.1" y1="625.4" x2="610.3" y2="675.1" stroke="#ee40ff" stroke-width="0.7" opacity="0.95"/>
<line x1="469.4" y1="616.4" x2="447.0" y2="774.7" stroke="#9a2cff" stroke-width="1.15" opacity="0.95"/>
<line x1="469.4" y1="616.4" x2="524.9" y2="807.0" stroke="#9a2cff" stroke-width="1.15" opacity="0.95"/>
<line x1="469.4" y1="616.4" x2="610.3" y2="675.1" stroke="#ff4a4a" stroke-width="0.6" opacity="0.95"/>
<line x1="469.4" y1="616.4" x2="469.4" y2="793.7" stroke="#ff8a58" stroke-width="0.7" opacity="0.95"/>
<line x1="469.4" y1="616.4" x2="496.3" y2="805.0" stroke="#ff8a58" stroke-width="0.6" opacity="0.95"/>
<line x1="469.4" y1="616.4" x2="553.2" y2="800.8" stroke="#ff8a58" stroke-width="0.6" opacity="0.95"/>
<line x1="469.4" y1="616.4" x2="578.3" y2="785.1" stroke="#ff8a58" stroke-width="0.6" opacity="0.95"/>
<line x1="469.4" y1="616.4" x2="446.7" y2="635.5" stroke="#ff2a40" stroke-width="1.0" opacity="0.95"/>
<line x1="496.2" y1="605.2" x2="524.9" y2="807.0" stroke="#ff8a58" stroke-width="0.6" opacity="0.95"/>
<line x1="553.0" y1="610.0" x2="524.9" y2="807.0" stroke="#ff8a58" stroke-width="0.6" opacity="0.95"/>
<line x1="578.1" y1="625.4" x2="578.3" y2="785.1" stroke="#c47cff" stroke-width="1.9" opacity="0.95"/>
<line x1="578.1" y1="625.4" x2="524.9" y2="807.0" stroke="#9a2cff" stroke-width="1.03" opacity="0.95"/>
<line x1="578.1" y1="625.4" x2="469.4" y2="793.7" stroke="#ff4a4a" stroke-width="0.6" opacity="0.95"/>
<line x1="597.6" y1="647.6" x2="524.9" y2="807.0" stroke="#ff4a4a" stroke-width="0.7" opacity="0.95"/>
<line x1="597.6" y1="647.6" x2="578.3" y2="785.1" stroke="#ff4a4a" stroke-width="0.7" opacity="0.95"/>
<line x1="610.3" y1="675.1" x2="469.4" y2="793.7" stroke="#9a2cff" stroke-width="1.15" opacity="0.95"/>
<line x1="610.3" y1="675.1" x2="496.3" y2="805.0" stroke="#9a2cff" stroke-width="1.15" opacity="0.95"/>
<line x1="610.3" y1="675.1" x2="447.0" y2="774.7" stroke="#ee40ff" stroke-width="0.8" opacity="0.95"/>
<line x1="610.3" y1="675.1" x2="422.2" y2="690.0" stroke="#ff4a4a" stroke-width="0.6" opacity="0.95"/>
<line x1="610.3" y1="675.1" x2="553.2" y2="800.8" stroke="#ee40ff" stroke-width="0.8" opacity="0.95"/>
<line x1="422.2" y1="690.0" x2="614.3" y2="705.5" stroke="#ee40ff" stroke-width="0.9" opacity="0.95"/>
<line x1="422.2" y1="690.0" x2="422.2" y2="720.7" stroke="#ff4a4a" stroke-width="0.6" opacity="0.95"/>
<line x1="446.7" y1="635.5" x2="430.4" y2="660.5" stroke="#ee40ff" stroke-width="1.0" opacity="0.95"/>
<line x1="430.4" y1="660.5" x2="553.2" y2="800.8" stroke="#ff8a58" stroke-width="0.6" opacity="0.95"/>
<line x1="426.2" y1="672.9" x2="422.2" y2="690.0" stroke="#ff8a58" stroke-width="0.6" opacity="0.95"/>
<line x1="422.2" y1="720.7" x2="469.4" y2="793.7" stroke="#ff4a4a" stroke-width="0.6" opacity="0.95"/>
<line x1="422.2" y1="720.7" x2="553.2" y2="800.8" stroke="#ff4a4a" stroke-width="0.6" opacity="0.95"/>
<line x1="422.2" y1="720.7" x2="524.9" y2="807.0" stroke="#ff8a58" stroke-width="0.6" opacity="0.95"/>
<line x1="422.2" y1="720.7" x2="578.3" y2="785.1" stroke="#ff8a58" stroke-width="0.6" opacity="0.95"/>
<line x1="422.2" y1="720.7" x2="496.3" y2="805.0" stroke="#9a2cff" stroke-width="1.03" opacity="0.95"/>
<line x1="430.7" y1="749.7" x2="469.4" y2="793.7" stroke="#ee40ff" stroke-width="0.7" opacity="0.95"/>
<line x1="447.0" y1="774.7" x2="524.9" y2="807.0" stroke="#ee40ff" stroke-width="0.8" opacity="0.95"/>
<line x1="447.0" y1="774.7" x2="496.3" y2="805.0" stroke="#ee40ff" stroke-width="0.8" opacity="0.95"/>
<line x1="578.3" y1="785.1" x2="469.4" y2="793.7" stroke="#9a2cff" stroke-width="1.15" opacity="0.95"/>
<line x1="578.3" y1="785.1" x2="614.3" y2="705.5" stroke="#ee40ff" stroke-width="0.8" opacity="0.95"/>
<line x1="597.1" y1="762.3" x2="609.6" y2="735.0" stroke="#ee40ff" stroke-width="1.0" opacity="0.95"/>
<line x1="614.3" y1="705.5" x2="524.9" y2="807.0" stroke="#9a2cff" stroke-width="0.92" opacity="0.95"/>
<line x1="614.3" y1="705.5" x2="469.4" y2="793.7" stroke="#ee40ff" stroke-width="0.7" opacity="0.95"/>
<line x1="578.3" y1="785.1" x2="496.3" y2="805.0" stroke="#9a2cff" stroke-width="0.92" opacity="0.95"/>
<line x1="610.3" y1="675.1" x2="578.3" y2="785.1" stroke="#9a2cff" stroke-width="1.15" opacity="0.95"/>
<line x1="422.2" y1="720.7" x2="422.2" y2="690.0" stroke="#ff4a4a" stroke-width="0.6" opacity="0.95"/>
<line x1="496.3" y1="805.0" x2="553.2" y2="800.8" stroke="#ff2a40" stroke-width="1.0" opacity="0.95"/>
<line x1="578.1" y1="625.4" x2="447.0" y2="774.7" stroke="#ff4a4a" stroke-width="0.6" opacity="0.95"/>
<circle cx="469.4" cy="616.4" r="8.2" fill="#ff2218"/>
<circle cx="496.2" cy="605.2" r="3.7" fill="#ff2218"/>
<circle cx="525.0" cy="602.8" r="3.5" fill="#ff2218"/>
<circle cx="553.0" cy="610.0" r="4.7" fill="#ff2218"/>
<circle cx="578.1" cy="625.4" r="4.7" fill="#ff2218"/>
<circle cx="597.6" cy="647.6" r="5.0" fill="#ff2218"/>
<circle cx="610.3" cy="675.1" r="9.5" fill="#ff2218"/>
<circle cx="614.3" cy="705.5" r="4.8" fill="#ff2218"/>
<circle cx="609.6" cy="735.0" r="4.5" fill="#ff2218"/>
<circle cx="597.1" cy="762.3" r="4.0" fill="#ff2218"/>
<circle cx="578.3" cy="785.1" r="8.0" fill="#ff2218"/>
<circle cx="553.2" cy="800.8" r="5.8" fill="#ff2218"/>
<circle cx="524.9" cy="807.0" r="9.5" fill="#ff2218"/>
<circle cx="496.3" cy="805.0" r="5.5" fill="#ff2218"/>
<circle cx="469.4" cy="793.7" r="7.5" fill="#ff2218"/>
<circle cx="447.0" cy="774.7" r="5.5" fill="#ff2218"/>
<circle cx="430.7" cy="749.7" r="3.5" fill="#44ee22"/>
<circle cx="422.2" cy="720.7" r="6.3" fill="#44ee22"/>
<circle cx="422.2" cy="690.0" r="4.5" fill="#ff2218"/>
<circle cx="426.2" cy="672.9" r="2.5" fill="#ff2218"/>
<circle cx="430.4" cy="660.5" r="3.0" fill="#ff2218"/>
<circle cx="446.7" cy="635.5" r="4.0" fill="#ff2218"/>
<text x="469.40" y="619.28" font-size="8.4" text-anchor="middle" font-weight="normal" fill="#000" font-family="'Liberation Sans', sans-serif" stroke="#000" stroke-width="0.18">SYK</text>
<text x="496.20" y="607.07" font-size="5.460000000000001" text-anchor="middle" font-weight="normal" fill="#000" font-family="'Liberation Sans', sans-serif" stroke="#000" stroke-width="0.18">CD72</text>
<text x="525.00" y="604.78" font-size="5.775" text-anchor="middle" font-weight="normal" fill="#000" font-family="'Liberation Sans', sans-serif" stroke="#000" stroke-width="0.18">PIK3CD</text>
<text x="553.00" y="612.20" font-size="6.405" text-anchor="middle" font-weight="normal" fill="#000" font-family="'Liberation Sans', sans-serif" stroke="#000" stroke-width="0.18">BLNK</text>
<text x="578.10" y="627.49" font-size="6.09" text-anchor="middle" font-weight="normal" fill="#000" font-family="'Liberation Sans', sans-serif" stroke="#000" stroke-width="0.18">LTB</text>
<text x="597.60" y="649.76" font-size="6.300000000000001" text-anchor="middle" font-weight="normal" fill="#000" font-family="'Liberation Sans', sans-serif" stroke="#000" stroke-width="0.18">BIRC3</text>
<text x="610.30" y="678.12" font-size="8.82" text-anchor="middle" font-weight="normal" fill="#000" font-family="'Liberation Sans', sans-serif" stroke="#000" stroke-width="0.18">CD40LG</text>
<text x="614.30" y="707.55" font-size="5.985" text-anchor="middle" font-weight="normal" fill="#000" font-family="'Liberation Sans', sans-serif" stroke="#000" stroke-width="0.18">IL21R</text>
<text x="609.60" y="737.14" font-size="6.2475000000000005" text-anchor="middle" font-weight="normal" fill="#000" font-family="'Liberation Sans', sans-serif" stroke="#000" stroke-width="0.18">TNFRSF13B</text>
<text x="597.10" y="764.21" font-size="5.565" text-anchor="middle" font-weight="normal" fill="#000" font-family="'Liberation Sans', sans-serif" stroke="#000" stroke-width="0.18">TNFRSF17</text>
<text x="578.30" y="787.91" font-size="8.19" text-anchor="middle" font-weight="normal" fill="#000" font-family="'Liberation Sans', sans-serif" stroke="#000" stroke-width="0.18">TNFSF13B</text>
<text x="553.20" y="803.10" font-size="6.720000000000001" text-anchor="middle" font-weight="normal" fill="#000" font-family="'Liberation Sans', sans-serif" stroke="#000" stroke-width="0.18">CD8A</text>
<text x="524.90" y="809.95" font-size="8.61" text-anchor="middle" font-weight="normal" fill="#000" font-family="'Liberation Sans', sans-serif" stroke="#000" stroke-width="0.18">CD40</text>
<text x="496.30" y="807.30" font-size="6.720000000000001" text-anchor="middle" font-weight="normal" fill="#000" font-family="'Liberation Sans', sans-serif" stroke="#000" stroke-width="0.18">ICAM1</text>
<text x="469.40" y="796.40" font-size="7.875" text-anchor="middle" font-weight="normal" fill="#000" font-family="'Liberation Sans', sans-serif" stroke="#000" stroke-width="0.18">TRAF1</text>
<text x="447.00" y="777.08" font-size="6.93" text-anchor="middle" font-weight="normal" fill="#000" font-family="'Liberation Sans', sans-serif" stroke="#000" stroke-width="0.18">TLR2</text>
<text x="430.70" y="751.64" font-size="5.670000000000001" text-anchor="middle" font-weight="normal" fill="#000" font-family="'Liberation Sans', sans-serif" stroke="#000" stroke-width="0.18">IL1R2</text>
<text x="422.20" y="723.00" font-size="6.720000000000001" text-anchor="middle" font-weight="normal" fill="#000" font-family="'Liberation Sans', sans-serif" stroke="#000" stroke-width="0.18">IL1R1</text>
<text x="422.20" y="692.05" font-size="5.985" text-anchor="middle" font-weight="normal" fill="#000" font-family="'Liberation Sans', sans-serif" stroke="#000" stroke-width="0.18">IL4R</text>
<text x="426.20" y="674.63" font-size="5.04" text-anchor="middle" font-weight="normal" fill="#000" font-family="'Liberation Sans', sans-serif" stroke="#000" stroke-width="0.18">IL10RB</text>
<text x="430.40" y="662.52" font-size="5.88" text-anchor="middle" font-weight="normal" fill="#000" font-family="'Liberation Sans', sans-serif" stroke="#000" stroke-width="0.18">CD6</text>
<text x="446.70" y="637.44" font-size="5.670000000000001" text-anchor="middle" font-weight="normal" fill="#000" font-family="'Liberation Sans', sans-serif" stroke="#000" stroke-width="0.18">CD247</text>
<rect x="601.2" y="790" width="9.8" height="10.3" fill="#ff2218"/>
<rect x="601.2" y="804" width="9.8" height="10" fill="#44ee22"/>
<text x="617.30" y="797.40" font-size="6.2" text-anchor="start" font-weight="normal" fill="#111" font-family="'Liberation Sans', sans-serif" >Up</text>
<text x="614.50" y="811.00" font-size="6.2" text-anchor="start" font-weight="normal" fill="#111" font-family="'Liberation Sans', sans-serif" >Down</text>
<text x="522.00" y="859.70" font-size="32.5" text-anchor="middle" font-weight="bold" fill="#000" font-family="'Liberation Serif', serif" >F</text>
</svg>
</body></html>
